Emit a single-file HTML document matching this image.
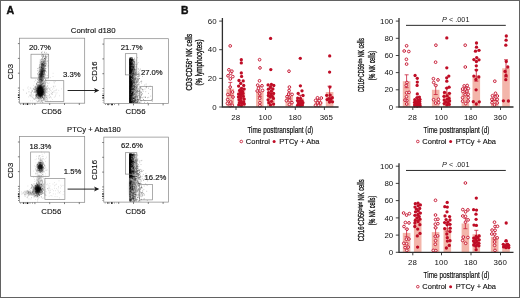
<!DOCTYPE html>
<html><head><meta charset="utf-8"><title>Figure</title>
<style>html,body{margin:0;padding:0;background:#fff;}body{width:520px;height:298px;overflow:hidden;font-family:"Liberation Sans",sans-serif;}svg{display:block;opacity:0.999;will-change:opacity}</style>
</head><body>
<svg width="520" height="298" viewBox="0 0 520 298" font-family="'Liberation Sans', sans-serif">
<defs><filter id="bl" x="-50%" y="-50%" width="200%" height="200%"><feGaussianBlur stdDeviation="1.1"/></filter><filter id="gz" x="0" y="0" width="100%" height="100%" filterUnits="userSpaceOnUse" color-interpolation-filters="sRGB"><feGaussianBlur stdDeviation="0.32"/></filter>
<linearGradient id="cg" x1="0" y1="0" x2="1" y2="0"><stop offset="0" stop-color="#000" stop-opacity="1"/><stop offset="0.3" stop-color="#000" stop-opacity="0.85"/><stop offset="0.6" stop-color="#000" stop-opacity="0.4"/><stop offset="1" stop-color="#000" stop-opacity="0"/></linearGradient>
<filter id="bs" x="-20%" y="-20%" width="140%" height="140%"><feGaussianBlur stdDeviation="0.45"/></filter>
</defs>
<g filter="url(#gz)">
<rect x="0" y="0" width="520" height="298" fill="#fff"/>
<text x="6.6" y="14.1" font-size="11.5" text-anchor="start" font-weight="bold" fill="#111" stroke="#111" stroke-width="0.4" textLength="7.7" lengthAdjust="spacingAndGlyphs">A</text>
<text x="180.9" y="14.1" font-size="11.5" text-anchor="start" font-weight="bold" fill="#111" stroke="#111" stroke-width="0.4" textLength="7.5" lengthAdjust="spacingAndGlyphs">B</text>
<text x="93.2" y="33.2" font-size="7.8" text-anchor="middle" font-weight="normal" fill="#111" stroke="#111" stroke-width="0.12">Control d180</text>
<text x="93.9" y="132.2" font-size="7.65" text-anchor="middle" font-weight="normal" fill="#111" stroke="#111" stroke-width="0.12">PTCy + Aba180</text>
<rect x="19.5" y="38.2" width="65.2" height="65.0" fill="#fff" stroke="#858585" stroke-width="0.7"/>
<clipPath id="c1"><rect x="20.0" y="38.7" width="64.2" height="64.0"/></clipPath>
<g clip-path="url(#c1)">
<ellipse cx="40.2" cy="91" rx="2.9" ry="6.0" fill="#000" opacity="1" filter="url(#bl)" transform="rotate(0 40.2 91)"/>
<ellipse cx="40.2" cy="91.3" rx="2.5" ry="5.0" fill="#000" opacity="1" filter="url(#bl)" transform="rotate(0 40.2 91.3)"/>
<ellipse cx="40" cy="92" rx="1.8" ry="3.6" fill="#000" opacity="1" filter="url(#bl)" transform="rotate(0 40 92)"/>
<ellipse cx="42.2" cy="70" rx="2.0" ry="8.5" fill="#000" opacity="0.5" filter="url(#bl)" transform="rotate(7 42.2 70)"/>
<ellipse cx="41.4" cy="75" rx="1.6" ry="5.5" fill="#000" opacity="0.7" filter="url(#bl)" transform="rotate(7 41.4 75)"/>
<ellipse cx="41" cy="79" rx="1.3" ry="3.5" fill="#000" opacity="0.6" filter="url(#bl)" transform="rotate(5 41 79)"/>
<ellipse cx="41" cy="90" rx="5.5" ry="7" fill="#000" opacity="0.12" filter="url(#bl)" transform="rotate(0 41 90)"/>
<path d="M39.6 93.2h.6M39.6 89.6h.6M37.9 90.1h.6M43.0 92.8h.6M42.8 92.1h.6M41.2 91.8h.6M36.0 94.7h.6M41.5 93.1h.6M36.0 83.5h.6M38.0 89.0h.6M41.0 90.8h.6M41.5 88.2h.6M41.0 92.7h.6M38.5 98.4h.6M41.6 96.1h.6M38.6 87.8h.6M39.3 90.5h.6M41.8 92.1h.6M39.1 86.9h.6M38.9 96.2h.6M38.2 92.1h.6M41.3 84.6h.6M40.3 96.6h.6M35.2 89.6h.6M39.9 87.5h.6M41.4 90.7h.6M36.5 94.6h.6M41.9 95.1h.6M43.8 92.6h.6M40.5 85.4h.6M41.7 88.4h.6M39.1 85.6h.6M37.8 88.7h.6M43.4 82.3h.6M36.6 92.0h.6M43.8 93.5h.6M35.5 80.2h.6M41.1 87.8h.6M37.4 95.2h.6M43.0 91.7h.6M40.8 92.9h.6M44.2 93.7h.6M41.5 93.4h.6M36.3 96.5h.6M42.6 93.3h.6M35.3 88.3h.6M42.3 83.2h.6M39.7 95.4h.6M36.9 97.9h.6M41.6 90.4h.6M41.0 93.8h.6M40.5 95.9h.6M38.5 89.2h.6M42.8 91.1h.6M38.0 95.1h.6M43.9 89.1h.6M36.8 90.4h.6M39.8 89.7h.6M43.7 86.6h.6M43.4 85.5h.6M38.2 93.7h.6M43.0 94.7h.6M41.1 91.6h.6M40.6 93.5h.6M39.8 92.2h.6M41.6 91.0h.6M42.1 93.4h.6M45.2 92.4h.6M39.1 89.4h.6M40.2 95.0h.6M39.4 92.7h.6M44.8 80.0h.6M37.4 92.0h.6M41.2 92.0h.6M39.1 93.8h.6M40.9 88.8h.6M46.3 92.5h.6M38.8 90.6h.6M39.6 90.7h.6M33.4 88.9h.6M42.7 86.0h.6M40.0 95.1h.6M42.3 97.4h.6M35.9 89.5h.6M39.3 93.7h.6M42.9 79.5h.6M42.9 84.8h.6M41.9 84.6h.6M40.6 96.1h.6M39.8 91.8h.6M42.2 91.6h.6M40.0 97.6h.6M42.8 89.7h.6M47.1 86.1h.6M42.5 89.9h.6M40.5 94.0h.6M40.8 93.7h.6M36.4 84.5h.6M41.7 86.9h.6M37.6 84.7h.6M43.4 94.2h.6M43.9 87.0h.6M40.2 86.1h.6M42.1 97.8h.6M38.0 97.7h.6M42.7 90.2h.6M35.3 97.0h.6M40.0 88.4h.6M41.2 92.8h.6M43.9 86.6h.6M43.0 97.4h.6M43.8 90.2h.6M38.3 95.4h.6M40.5 91.5h.6M43.8 89.9h.6M34.5 89.3h.6M35.6 94.5h.6M41.0 88.4h.6M40.2 94.6h.6M40.4 96.7h.6M40.0 95.5h.6M43.9 97.9h.6M38.5 94.8h.6M35.5 86.3h.6M35.3 95.6h.6M37.1 90.9h.6M39.7 90.9h.6M38.7 92.0h.6M44.7 91.2h.6M41.5 95.3h.6M39.7 85.6h.6M38.8 95.6h.6M36.1 88.4h.6M42.7 94.4h.6M40.2 94.5h.6M40.6 85.9h.6M36.3 88.3h.6M42.5 88.6h.6M37.9 87.7h.6M36.4 90.5h.6M37.3 92.6h.6M34.3 92.4h.6M38.6 82.6h.6M42.0 89.8h.6M34.6 87.2h.6M40.9 89.0h.6M42.1 94.2h.6M41.9 92.4h.6M43.5 93.8h.6M41.3 82.0h.6M42.4 96.6h.6M39.5 89.0h.6M45.1 83.4h.6M41.4 101.4h.6M37.9 94.0h.6M44.9 90.5h.6M41.6 94.9h.6M37.9 90.6h.6M40.9 94.5h.6M40.1 90.2h.6M37.7 89.5h.6M42.4 91.4h.6M38.1 87.4h.6M46.9 95.9h.6M41.8 79.9h.6M41.8 93.1h.6M44.4 92.8h.6M40.0 93.2h.6M35.3 95.4h.6M41.0 88.0h.6M43.5 98.8h.6M36.7 88.1h.6M40.9 91.8h.6M39.2 86.8h.6M45.5 95.5h.6M37.2 85.2h.6M44.5 95.3h.6M44.8 94.5h.6M38.0 92.1h.6M34.8 87.8h.6M40.1 93.2h.6M38.4 90.5h.6M41.3 92.6h.6M41.8 91.9h.6M39.4 94.4h.6M40.3 87.4h.6M38.6 91.0h.6M39.9 91.7h.6M40.2 91.8h.6M39.9 85.6h.6M41.3 95.5h.6M41.3 90.2h.6M41.3 86.8h.6M35.5 91.3h.6M37.9 94.2h.6M37.5 79.7h.6M37.6 97.8h.6M39.2 85.1h.6M38.3 93.2h.6M41.4 91.8h.6M43.9 94.0h.6M40.1 93.6h.6M44.3 95.2h.6M42.8 86.3h.6M39.8 94.1h.6M39.5 95.6h.6M41.7 94.9h.6M39.7 101.9h.6M43.3 90.1h.6M40.4 102.2h.6M39.3 94.8h.6M42.7 91.0h.6M37.3 91.8h.6M41.1 95.9h.6M42.2 91.1h.6M42.3 93.3h.6M40.7 91.2h.6M39.6 94.0h.6M37.6 88.3h.6M40.2 84.7h.6M39.1 82.4h.6M38.5 93.4h.6M41.6 90.8h.6M39.6 84.9h.6M44.8 93.2h.6M42.9 87.2h.6M39.7 83.2h.6M42.2 95.0h.6M35.5 90.8h.6M41.8 83.4h.6M35.6 86.4h.6M38.6 85.0h.6M40.3 92.1h.6M41.8 94.0h.6M44.0 96.0h.6M36.9 88.8h.6M37.5 86.4h.6M40.0 91.0h.6M41.4 84.2h.6M37.1 90.9h.6M39.7 89.7h.6M40.0 87.7h.6M42.0 92.5h.6M40.0 88.1h.6M39.8 79.3h.6M37.7 91.2h.6M36.4 91.9h.6M40.6 85.1h.6M39.6 89.7h.6M41.3 93.6h.6M40.1 87.3h.6M39.8 90.7h.6M42.0 92.3h.6M38.4 85.2h.6M39.3 87.8h.6M37.4 90.5h.6M39.0 91.5h.6M41.5 89.2h.6M46.0 89.6h.6M43.0 91.5h.6M43.0 80.8h.6M38.3 92.1h.6M41.7 101.0h.6M41.0 96.5h.6M42.1 95.1h.6M41.5 90.3h.6M41.5 86.4h.6M43.2 86.6h.6M40.8 100.1h.6M39.6 91.1h.6M43.1 91.1h.6M38.2 92.1h.6M41.7 94.1h.6M38.3 98.5h.6M44.4 91.1h.6M40.9 89.2h.6M43.7 88.0h.6M41.9 88.9h.6M38.5 94.1h.6M43.5 91.0h.6M38.5 94.5h.6M40.1 92.3h.6M44.0 95.9h.6M38.9 100.8h.6M40.2 94.4h.6M38.6 90.8h.6M35.8 98.7h.6M43.6 85.8h.6M36.4 84.0h.6M43.1 89.0h.6M40.0 89.7h.6M39.9 86.3h.6M40.3 84.8h.6M40.0 92.3h.6M41.4 90.0h.6M37.9 91.7h.6M39.0 97.7h.6M42.1 90.5h.6M39.0 88.0h.6M37.9 89.5h.6M40.9 93.2h.6M41.6 100.0h.6M38.4 91.1h.6M47.2 83.0h.6M38.9 91.7h.6M40.6 92.8h.6M39.6 92.6h.6M40.3 94.3h.6M35.5 87.2h.6M40.2 86.6h.6M37.6 93.7h.6M38.6 93.7h.6M42.1 92.3h.6M41.5 90.6h.6M36.7 90.9h.6M41.3 88.7h.6M40.0 94.2h.6M38.0 93.8h.6M44.9 88.6h.6M40.6 90.4h.6M44.1 92.4h.6M42.4 88.0h.6M40.2 91.0h.6M35.8 97.2h.6M42.4 83.5h.6M42.1 90.4h.6M41.3 92.6h.6M36.5 90.1h.6M43.9 88.5h.6M37.6 85.2h.6M37.1 92.4h.6M44.4 92.8h.6M40.8 100.6h.6M38.9 88.1h.6M41.5 93.4h.6M37.7 86.0h.6M40.9 92.1h.6M36.9 90.1h.6M38.8 93.0h.6M39.9 90.6h.6M39.3 95.5h.6M43.7 89.4h.6M42.3 87.7h.6M40.4 94.2h.6M44.0 89.4h.6M40.0 91.8h.6M36.5 91.1h.6M38.5 92.6h.6M37.4 82.5h.6M40.3 92.1h.6M38.8 94.8h.6M39.5 88.4h.6M41.4 84.3h.6M38.5 90.9h.6M42.3 90.3h.6M41.0 88.2h.6M41.0 98.2h.6M38.5 101.2h.6M38.6 91.1h.6M40.6 95.4h.6M37.1 82.0h.6M41.7 94.4h.6M41.8 102.3h.6M40.7 92.1h.6M42.5 92.6h.6M44.4 85.7h.6M39.3 76.2h.6M42.2 89.4h.6M42.5 100.3h.6M40.2 89.9h.6M39.0 87.4h.6M38.6 93.7h.6M40.3 91.3h.6M39.8 94.9h.6M41.4 90.4h.6M41.9 90.3h.6M37.3 97.3h.6M41.4 86.9h.6M42.9 92.5h.6M36.3 97.9h.6M41.0 94.8h.6M40.7 90.4h.6M36.3 95.2h.6M40.3 89.8h.6M41.1 91.3h.6M41.9 89.4h.6M40.1 81.8h.6M39.1 93.9h.6M43.5 89.4h.6M39.9 97.8h.6M39.4 94.2h.6M44.4 91.2h.6M43.3 87.9h.6M40.7 90.7h.6M40.5 95.9h.6M46.2 88.1h.6M38.8 93.1h.6M37.6 93.1h.6M41.6 89.8h.6M41.5 84.3h.6M42.1 84.4h.6M38.5 88.6h.6M39.2 94.7h.6M40.4 89.3h.6M41.6 97.8h.6M40.2 92.6h.6M43.3 92.2h.6M37.0 101.7h.6M45.7 82.5h.6M40.1 92.8h.6M42.6 93.9h.6M39.5 86.5h.6M40.5 95.4h.6M37.5 86.6h.6M40.1 82.7h.6M39.5 89.1h.6M41.3 88.0h.6M38.0 89.3h.6M40.1 88.1h.6M40.2 94.2h.6M43.2 98.3h.6M38.2 89.2h.6M34.0 99.2h.6M38.4 90.9h.6M41.5 85.2h.6M41.4 90.9h.6M35.6 92.3h.6M43.2 83.0h.6M42.2 91.9h.6M41.4 92.9h.6M43.5 90.0h.6M42.4 89.2h.6M42.0 87.5h.6M39.9 98.4h.6M41.3 90.3h.6M37.3 87.6h.6M40.7 95.0h.6M41.3 93.3h.6M40.1 96.8h.6M39.2 88.6h.6M42.4 91.3h.6M39.5 88.5h.6M39.6 93.7h.6M41.1 85.8h.6M41.3 91.8h.6M37.7 94.3h.6M39.5 89.6h.6M42.2 96.7h.6M38.5 92.9h.6M38.0 101.0h.6M39.0 96.1h.6M38.6 94.5h.6M45.7 80.1h.6M39.1 93.2h.6M40.0 88.1h.6M45.6 91.3h.6M36.1 94.7h.6M35.9 95.9h.6M38.8 91.6h.6M43.4 91.5h.6M36.7 83.7h.6M43.2 94.2h.6M38.2 94.7h.6M41.4 93.8h.6M34.6 89.7h.6M42.5 94.2h.6M42.4 80.4h.6M40.6 93.1h.6M46.6 86.9h.6M39.4 91.2h.6M42.4 89.1h.6M43.1 87.6h.6M40.9 88.7h.6M40.6 88.0h.6M36.2 95.7h.6M41.0 88.6h.6M40.7 95.3h.6M37.8 90.5h.6M41.5 93.3h.6M39.4 81.9h.6M43.3 92.4h.6M40.2 89.8h.6M40.9 89.2h.6M37.6 87.8h.6M38.7 88.4h.6M37.3 93.7h.6M36.9 93.8h.6M37.7 92.5h.6M43.6 91.9h.6M38.4 91.2h.6M40.6 83.5h.6M38.7 91.7h.6M39.0 91.3h.6M42.0 94.3h.6M42.5 93.5h.6M39.5 90.9h.6M39.5 89.7h.6M39.8 83.6h.6M39.4 90.9h.6M37.8 90.9h.6M41.5 90.3h.6M45.4 79.8h.6M39.7 83.2h.6M42.6 102.4h.6M33.9 91.6h.6M41.5 89.7h.6M41.6 81.4h.6M42.3 92.6h.6M40.3 88.5h.6M41.8 88.9h.6M40.8 88.8h.6M34.6 90.9h.6M40.7 94.2h.6M38.0 90.9h.6M41.7 91.6h.6M43.3 99.6h.6M37.9 82.7h.6M42.3 97.6h.6M42.5 94.5h.6M38.7 87.9h.6M44.6 63.4h.6M39.8 62.2h.6M44.7 84.9h.6M41.6 64.4h.6M43.2 64.5h.6M44.5 69.7h.6M38.9 79.5h.6M40.8 71.5h.6M42.4 67.7h.6M43.4 64.9h.6M41.0 53.1h.6M40.6 64.1h.6M42.0 70.4h.6M43.0 71.0h.6M41.4 64.5h.6M38.5 68.2h.6M42.5 74.1h.6M42.1 68.7h.6M43.8 70.3h.6M42.9 74.5h.6M41.2 79.8h.6M41.4 67.2h.6M41.4 63.9h.6M43.2 83.4h.6M41.6 74.2h.6M43.4 76.3h.6M45.5 60.9h.6M40.5 73.2h.6M44.6 71.1h.6M40.9 67.2h.6M41.8 63.5h.6M45.4 65.7h.6M40.0 86.1h.6M43.9 72.8h.6M40.6 72.9h.6M44.4 75.0h.6M44.3 71.0h.6M43.2 68.6h.6M41.6 79.8h.6M39.6 69.2h.6M43.1 65.8h.6M40.8 75.8h.6M45.1 75.1h.6M44.2 58.5h.6M45.5 71.0h.6M43.1 61.7h.6M43.1 61.8h.6M41.8 73.5h.6M41.9 72.1h.6M39.2 80.4h.6M42.7 56.3h.6M42.5 64.3h.6M40.6 67.1h.6M43.8 61.3h.6M40.5 80.6h.6M43.5 69.0h.6M42.4 69.1h.6M41.3 75.4h.6M44.3 52.1h.6M42.9 63.4h.6M43.9 65.6h.6M40.2 86.2h.6M41.3 61.4h.6M41.9 51.9h.6M38.4 72.3h.6M42.8 56.0h.6M38.9 74.2h.6M41.1 67.1h.6M41.4 80.2h.6M44.6 78.1h.6M42.2 71.4h.6M43.9 81.0h.6M41.1 73.3h.6M42.6 70.5h.6M42.5 60.0h.6M42.6 58.4h.6M43.8 74.3h.6M38.6 80.1h.6M45.5 56.0h.6M44.6 76.5h.6M47.0 61.3h.6M42.6 73.3h.6M42.3 71.3h.6M45.4 59.1h.6M41.2 59.3h.6M41.7 65.4h.6M42.5 72.1h.6M42.8 65.0h.6M40.4 77.0h.6M43.4 70.9h.6M40.0 81.5h.6M40.4 74.7h.6M44.4 68.3h.6M44.7 61.9h.6M43.7 71.7h.6M38.6 74.6h.6M39.3 79.3h.6M41.0 68.6h.6M42.9 67.6h.6M43.1 65.9h.6M43.3 70.2h.6M45.2 49.6h.6M44.1 70.5h.6M38.8 70.3h.6M41.9 78.1h.6M38.7 81.3h.6M39.5 87.8h.6M41.2 75.0h.6M42.5 61.6h.6M43.2 77.0h.6M44.0 76.7h.6M42.7 57.5h.6M41.6 64.8h.6M40.1 74.1h.6M42.9 68.1h.6M42.5 69.0h.6M41.7 75.6h.6M44.5 65.1h.6M38.0 80.3h.6M41.2 78.2h.6M39.5 67.2h.6M43.5 59.3h.6M40.5 75.3h.6M42.5 82.1h.6M41.9 59.4h.6M42.1 77.1h.6M43.7 60.4h.6M42.7 76.1h.6M43.6 66.5h.6M41.9 76.0h.6M42.9 56.2h.6M42.2 73.7h.6M41.3 76.6h.6M41.1 69.3h.6M41.0 74.2h.6M45.2 68.5h.6M44.3 81.9h.6M42.9 74.5h.6M45.4 69.1h.6M42.9 62.1h.6M41.6 80.1h.6M42.6 73.3h.6M41.6 71.2h.6M38.5 77.5h.6M42.4 61.7h.6M41.6 63.7h.6M42.6 78.1h.6M38.8 76.6h.6M44.2 65.9h.6M40.2 64.1h.6M40.6 72.4h.6M43.4 54.8h.6M44.0 58.6h.6M44.9 61.2h.6M41.7 63.5h.6M39.9 79.5h.6M43.0 74.7h.6M44.2 58.6h.6M41.7 65.8h.6M39.9 73.6h.6M41.5 64.5h.6M42.2 54.5h.6M41.9 80.0h.6M43.4 62.8h.6M37.1 70.7h.6M44.0 72.5h.6M42.3 81.2h.6M44.5 67.0h.6M43.2 76.0h.6M39.8 66.6h.6M39.7 68.9h.6M44.2 62.2h.6M37.2 79.2h.6M41.3 81.0h.6M38.7 77.6h.6M43.9 85.4h.6M41.5 72.0h.6M40.9 77.4h.6M43.9 70.9h.6M39.0 75.2h.6M40.7 74.6h.6M41.0 82.1h.6M44.6 66.9h.6M41.0 83.2h.6M40.7 73.1h.6M43.0 79.6h.6M44.3 60.3h.6M39.6 71.5h.6M40.3 89.0h.6M39.5 78.3h.6M45.1 57.7h.6M40.5 71.0h.6M41.4 68.7h.6M43.7 64.1h.6M43.6 65.4h.6M40.6 73.9h.6M40.8 72.0h.6M44.9 70.6h.6M41.1 75.4h.6M40.4 78.0h.6M39.2 74.3h.6M42.0 63.9h.6M46.1 64.1h.6M44.6 75.3h.6M45.6 63.1h.6M42.8 81.1h.6M42.0 69.0h.6M46.3 71.9h.6M42.0 65.2h.6M42.6 72.6h.6M40.7 82.8h.6M41.1 73.4h.6M45.7 62.9h.6M42.2 83.9h.6M40.7 61.5h.6M42.0 56.0h.6M44.7 56.3h.6M41.6 80.9h.6M39.5 67.3h.6M37.9 75.3h.6M41.0 67.9h.6M41.7 74.1h.6M41.5 70.0h.6M41.0 70.7h.6M39.9 70.2h.6M39.1 65.9h.6M45.4 71.0h.6M39.6 71.6h.6M42.0 57.5h.6M40.1 75.3h.6M42.9 69.4h.6M41.5 61.8h.6M44.3 72.1h.6M42.5 54.1h.6M37.2 88.1h.6M40.1 69.2h.6M42.6 68.9h.6M42.9 59.7h.6M38.6 82.3h.6M39.9 76.1h.6M39.3 67.6h.6M41.6 77.8h.6M39.5 74.2h.6M43.5 64.6h.6M43.8 63.4h.6M40.7 69.7h.6M37.4 68.6h.6M41.7 58.9h.6M40.6 75.6h.6M40.1 79.3h.6M41.3 60.0h.6M44.5 73.3h.6M44.6 64.1h.6M43.3 72.1h.6M43.2 70.3h.6M44.9 65.5h.6M41.8 58.8h.6M44.9 64.8h.6M41.2 62.8h.6M42.5 60.4h.6M42.2 65.3h.6M42.0 62.7h.6M42.6 66.6h.6M42.1 71.9h.6M44.8 53.8h.6M41.9 64.0h.6M45.0 58.4h.6M41.1 67.6h.6M40.5 77.3h.6M40.4 77.1h.6M41.2 56.2h.6M43.9 73.5h.6M42.9 71.0h.6M44.1 61.1h.6M44.3 66.3h.6M43.8 70.9h.6M39.8 60.0h.6M44.2 69.2h.6M41.2 71.7h.6M41.9 65.9h.6M42.1 71.1h.6M44.8 70.7h.6M43.7 83.8h.6M44.1 78.3h.6M42.2 71.1h.6M42.6 64.5h.6M42.6 65.2h.6M44.5 74.4h.6M43.2 55.7h.6M42.4 66.9h.6M41.3 61.3h.6M37.5 73.7h.6M39.5 89.2h.6M42.2 68.9h.6M44.5 71.3h.6M42.8 67.3h.6M39.6 81.0h.6M42.2 83.0h.6M41.4 70.1h.6M39.6 77.0h.6M39.1 73.9h.6M42.7 80.8h.6M39.4 77.9h.6M41.6 64.2h.6M38.6 78.3h.6M45.6 66.0h.6M41.1 67.3h.6M45.6 78.1h.6M42.9 56.5h.6M39.7 78.7h.6M45.7 68.5h.6M41.4 66.0h.6M37.9 76.3h.6M39.1 77.7h.6M40.3 60.2h.6M43.4 64.4h.6M43.5 70.2h.6M39.4 74.4h.6M45.5 56.0h.6M44.9 74.1h.6M45.3 56.3h.6M41.2 67.2h.6M45.4 59.4h.6M42.5 54.7h.6M41.3 72.5h.6M39.7 65.2h.6M41.5 81.9h.6M43.6 67.9h.6M40.9 62.8h.6M40.8 70.9h.6M40.4 82.4h.6M43.7 62.1h.6M43.9 77.4h.6M43.0 64.7h.6M39.8 62.0h.6M44.5 64.2h.6M39.6 71.1h.6M41.9 74.6h.6M41.9 80.6h.6M39.7 77.1h.6M39.7 74.9h.6M42.2 71.9h.6M43.8 70.1h.6M43.2 76.8h.6M42.9 65.8h.6M41.3 65.9h.6M41.8 69.8h.6M46.8 75.4h.6M44.3 63.8h.6M41.1 67.5h.6M43.5 62.3h.6M45.5 66.2h.6M46.3 52.9h.6M41.8 72.1h.6M41.9 74.5h.6M42.4 71.3h.6M39.4 64.3h.6M37.3 74.1h.6M42.8 68.6h.6M41.2 65.5h.6M43.7 83.3h.6M40.7 79.6h.6M41.1 55.2h.6M42.1 63.4h.6M40.9 71.3h.6M48.1 65.8h.6M41.9 72.1h.6M41.1 76.9h.6M46.5 61.2h.6M42.6 68.1h.6M44.2 58.7h.6M41.2 52.4h.6M42.9 71.6h.6M44.5 52.4h.6M42.2 64.3h.6M40.5 62.9h.6M42.8 74.2h.6M41.6 73.8h.6M41.0 70.4h.6M41.6 74.1h.6" stroke="#111" stroke-width="0.6" opacity="0.6" fill="none"/>
<path d="M45.0 59.5h.6M45.2 57.7h.6M48.1 62.5h.6M44.1 68.0h.6M48.3 55.1h.6M45.5 63.1h.6M47.0 65.1h.6M47.0 56.2h.6M43.4 60.6h.6M46.5 56.7h.6M44.7 58.5h.6M44.9 61.2h.6M45.4 55.7h.6M45.8 65.9h.6M44.1 63.5h.6M45.2 62.4h.6M46.3 57.5h.6M45.2 63.6h.6M42.2 66.5h.6M47.0 66.9h.6M47.6 63.2h.6M44.9 57.8h.6M43.6 60.1h.6M44.5 62.3h.6M40.2 67.3h.6M48.6 60.6h.6M45.7 61.8h.6M45.6 59.4h.6M45.4 57.1h.6M45.3 60.0h.6M46.1 57.2h.6M45.0 60.2h.6M46.7 56.5h.6M45.0 63.5h.6M46.2 58.9h.6M44.4 59.0h.6M45.1 65.6h.6M45.2 57.7h.6M45.4 60.8h.6M44.1 57.2h.6M44.4 62.3h.6M43.8 56.1h.6M46.6 56.0h.6M44.9 61.2h.6M45.5 56.5h.6M45.1 58.8h.6M46.1 57.2h.6M47.9 54.6h.6M44.7 60.0h.6M46.9 58.2h.6M46.3 58.2h.6M44.9 66.2h.6M44.1 61.4h.6M42.9 63.0h.6M46.9 60.5h.6M42.9 61.0h.6M46.0 64.1h.6M47.5 54.0h.6M42.9 64.7h.6M42.3 63.5h.6M59.4 95.8h.6M55.6 90.3h.6M43.9 91.5h.6M49.0 91.8h.6M53.5 91.3h.6M51.0 94.1h.6M50.0 101.2h.6M52.2 92.4h.6M49.0 88.9h.6M56.7 92.8h.6M44.6 89.2h.6M49.3 89.8h.6M55.4 86.2h.6M52.5 92.7h.6M44.1 92.2h.6M49.5 94.5h.6M47.7 93.5h.6M41.7 86.6h.6M53.9 97.2h.6M49.9 89.0h.6M55.4 81.5h.6M46.0 95.4h.6M53.3 86.8h.6M40.6 99.3h.6M50.8 87.5h.6M50.3 96.5h.6M37.0 97.6h.6M53.7 81.6h.6M53.9 83.1h.6M55.7 94.0h.6M61.3 88.9h.6M50.0 97.2h.6M46.8 88.5h.6M48.1 91.6h.6M44.6 94.4h.6M52.7 92.4h.6M58.5 90.4h.6M56.5 89.3h.6M53.8 82.3h.6M51.0 91.1h.6M47.5 88.9h.6M48.3 88.4h.6M39.0 89.0h.6M47.3 89.4h.6M44.7 91.3h.6M53.9 90.7h.6M47.5 98.8h.6M54.9 96.6h.6M55.8 90.4h.6M49.4 97.6h.6M47.2 91.4h.6M51.9 93.9h.6M48.6 96.9h.6M49.1 95.6h.6M55.4 95.3h.6M53.7 86.2h.6M43.4 88.9h.6M52.4 99.5h.6M43.9 93.5h.6M45.7 88.3h.6M48.6 95.5h.6M51.1 97.9h.6M45.1 96.4h.6M54.7 92.3h.6M52.4 89.2h.6M44.6 90.0h.6M46.8 106.5h.6M47.6 100.3h.6M51.0 93.6h.6M53.7 88.1h.6M38.2 94.5h.6M29.7 95.4h.6M36.9 94.8h.6M40.5 91.3h.6M36.8 96.0h.6M31.8 97.8h.6M29.9 87.8h.6M36.8 88.6h.6M34.6 86.4h.6M35.2 88.5h.6M36.2 86.9h.6M36.6 91.9h.6M35.2 92.7h.6M35.5 87.7h.6M26.0 93.1h.6M31.7 91.2h.6M36.5 85.1h.6M32.3 90.6h.6M31.3 94.3h.6M34.5 89.7h.6M31.6 96.2h.6M32.7 95.3h.6M36.6 85.4h.6M31.2 93.0h.6M36.2 96.1h.6M37.8 97.1h.6M33.7 92.2h.6M37.7 91.3h.6M38.7 86.6h.6M37.3 92.3h.6M28.1 96.9h.6M36.1 93.1h.6M31.2 91.1h.6M40.3 89.7h.6M22.8 89.6h.6M30.8 92.5h.6M33.6 89.4h.6M32.1 97.2h.6M30.0 100.8h.6M33.1 88.6h.6M37.8 95.3h.6M31.4 96.0h.6M28.6 89.3h.6M38.9 92.0h.6M30.4 95.1h.6M38.2 92.9h.6M28.7 91.6h.6M36.5 96.1h.6M41.5 92.0h.6M33.3 92.8h.6M39.2 89.2h.6M39.6 82.0h.6M37.8 90.3h.6M36.6 95.8h.6M30.9 92.7h.6M35.8 95.3h.6M31.7 89.0h.6M28.3 103.2h.6M34.3 92.1h.6M29.8 96.7h.6M33.1 98.7h.6M38.0 93.1h.6M37.5 88.6h.6M33.9 90.7h.6M30.6 93.1h.6M34.5 98.7h.6M23.3 90.3h.6M31.8 91.1h.6M36.5 94.6h.6M35.1 91.1h.6M36.7 94.4h.6M28.6 92.0h.6M30.2 88.3h.6M35.5 93.2h.6M35.4 89.5h.6M34.3 89.3h.6M36.3 95.8h.6M41.1 98.1h.6M32.2 91.2h.6M31.7 94.2h.6M41.9 95.8h.6M27.3 88.0h.6M30.5 95.1h.6M35.0 94.2h.6M41.2 89.7h.6M32.0 100.9h.6M36.2 89.9h.6M27.9 86.9h.6M26.4 93.3h.6M35.2 97.0h.6M43.2 78.5h.6M39.6 99.2h.6M33.4 85.4h.6M44.2 88.9h.6M41.6 88.0h.6M48.9 82.8h.6M41.3 82.5h.6M38.2 82.3h.6M42.2 85.7h.6M52.0 94.5h.6M41.3 88.8h.6M45.8 90.1h.6M44.1 86.1h.6M41.2 77.7h.6M49.2 94.4h.6M48.0 87.5h.6M45.6 80.4h.6M33.3 89.3h.6M45.2 79.6h.6M38.2 94.2h.6M33.2 98.1h.6M47.8 103.0h.6M39.7 83.8h.6M41.0 85.2h.6M42.7 78.0h.6M50.4 77.7h.6M41.0 88.4h.6M40.8 80.5h.6M46.1 81.1h.6M36.5 83.2h.6M42.7 97.6h.6M37.4 91.8h.6M39.3 81.2h.6M42.0 86.2h.6M49.2 98.0h.6M40.2 94.6h.6M50.0 90.5h.6M39.4 91.2h.6M43.4 86.8h.6M42.4 89.3h.6M50.7 93.0h.6M42.8 92.0h.6M52.7 76.5h.6M52.8 73.3h.6M47.3 88.8h.6M52.9 86.2h.6M41.1 77.6h.6M36.5 90.1h.6M42.6 78.3h.6M47.2 77.9h.6M38.0 97.1h.6M47.4 100.9h.6M39.3 94.9h.6M41.2 98.1h.6M41.6 99.1h.6M38.6 99.9h.6M43.8 98.4h.6M38.2 97.0h.6M43.1 95.8h.6M39.3 96.5h.6M33.7 99.2h.6M39.9 98.1h.6M43.9 95.0h.6M39.7 98.6h.6M43.7 95.8h.6M43.2 98.4h.6M46.1 100.3h.6M42.5 102.3h.6M40.0 97.2h.6M38.5 96.1h.6M39.9 94.2h.6M39.6 98.9h.6M44.5 97.3h.6M46.2 96.7h.6M39.4 94.2h.6M36.6 96.4h.6M46.6 99.0h.6M35.1 99.0h.6M42.1 97.5h.6M40.1 97.4h.6M37.6 94.5h.6M39.6 100.5h.6M46.3 97.5h.6M36.7 97.6h.6M43.9 98.7h.6M37.4 98.7h.6M39.1 99.0h.6M38.2 95.1h.6M40.3 99.5h.6M35.1 97.8h.6M43.9 97.3h.6M37.1 102.0h.6M43.6 100.0h.6M35.9 101.2h.6M32.7 97.0h.6M43.2 100.6h.6M35.9 96.7h.6M40.9 94.2h.6M42.8 99.1h.6M38.0 99.0h.6M43.4 98.6h.6M42.3 100.9h.6M37.9 98.3h.6M37.7 100.0h.6M38.2 98.9h.6M40.6 98.1h.6M47.5 97.8h.6M46.2 99.6h.6M45.8 97.7h.6M44.0 99.5h.6M38.1 92.4h.6M40.0 90.8h.6M45.5 87.2h.6M34.0 81.7h.6M38.8 87.6h.6M40.6 94.0h.6M47.3 92.6h.6M42.3 87.1h.6M42.7 98.2h.6M45.7 80.6h.6M43.9 99.4h.6M43.7 83.1h.6M39.3 94.1h.6M42.1 86.7h.6M37.1 96.1h.6M35.4 98.6h.6M40.6 92.6h.6M35.4 87.8h.6M43.2 83.2h.6M48.5 83.6h.6M35.8 91.2h.6M42.4 94.9h.6M39.1 89.9h.6M39.6 88.0h.6M30.6 96.1h.6M41.5 91.8h.6M38.1 92.3h.6M40.4 90.6h.6M44.7 81.9h.6M41.5 85.4h.6M39.3 98.9h.6M36.3 90.5h.6M38.2 96.0h.6M36.7 82.1h.6M42.5 89.1h.6M39.3 96.7h.6M37.1 89.0h.6M41.1 93.2h.6M38.5 96.5h.6M49.1 88.8h.6M47.7 79.9h.6M45.9 89.2h.6M41.0 89.2h.6M38.1 84.3h.6M39.0 97.8h.6M44.9 89.2h.6M38.5 87.3h.6M35.9 100.5h.6M43.0 91.6h.6M38.6 85.6h.6M45.6 95.1h.6M36.8 96.2h.6M36.2 94.4h.6M36.8 88.8h.6M42.4 93.3h.6M44.4 86.6h.6M46.6 98.1h.6M40.5 93.5h.6M37.5 90.2h.6M35.4 91.5h.6M41.3 98.1h.6M44.1 95.3h.6M39.1 89.8h.6M39.2 92.2h.6M33.1 95.1h.6M34.5 88.3h.6M40.6 88.3h.6M46.9 90.5h.6M46.5 97.2h.6M38.6 93.1h.6M45.5 89.2h.6M40.8 88.1h.6M40.7 89.1h.6M40.8 96.3h.6M45.8 91.7h.6M41.3 95.5h.6M39.4 85.4h.6M44.8 86.1h.6M44.1 85.9h.6M47.5 85.5h.6M43.8 98.9h.6M36.8 98.8h.6M37.3 81.7h.6M43.3 94.7h.6M39.7 77.7h.6M40.3 89.4h.6M39.0 89.5h.6M33.6 88.0h.6M47.4 99.2h.6M39.1 87.2h.6M42.0 96.6h.6M43.3 84.8h.6M41.1 91.7h.6M46.0 97.3h.6M42.5 97.4h.6M39.0 99.1h.6M38.9 93.1h.6M44.0 86.2h.6M37.8 81.7h.6M41.1 90.7h.6M39.2 93.6h.6M32.4 90.9h.6M40.8 89.6h.6M43.5 100.3h.6M38.8 86.0h.6M38.2 91.5h.6M42.8 86.5h.6M44.3 85.6h.6M43.7 93.3h.6M42.3 102.4h.6M39.5 90.1h.6M42.3 95.6h.6M35.4 92.5h.6M37.7 94.3h.6M45.8 91.3h.6M40.1 92.0h.6M29.2 95.1h.6M42.7 91.9h.6M39.0 87.1h.6M39.8 97.4h.6" stroke="#222" stroke-width="0.6" opacity="0.32" fill="none"/>
</g>
<rect x="31" y="54.2" width="17.700000000000003" height="23.799999999999997" fill="none" stroke="#808080" stroke-width="0.65"/>
<rect x="45" y="80.7" width="18.799999999999997" height="20.700000000000003" fill="none" stroke="#808080" stroke-width="0.65"/>
<line x1="17.9" y1="43.6" x2="19.5" y2="43.6" stroke="#444" stroke-width="0.7"/>
<line x1="79.3" y1="103.2" x2="79.3" y2="105.0" stroke="#444" stroke-width="0.7"/>
<line x1="17.9" y1="58.4" x2="19.5" y2="58.4" stroke="#444" stroke-width="0.7"/>
<line x1="64.5" y1="103.2" x2="64.5" y2="105.0" stroke="#444" stroke-width="0.7"/>
<line x1="17.9" y1="73.2" x2="19.5" y2="73.2" stroke="#444" stroke-width="0.7"/>
<line x1="49.7" y1="103.2" x2="49.7" y2="105.0" stroke="#444" stroke-width="0.7"/>
<line x1="17.9" y1="88.0" x2="19.5" y2="88.0" stroke="#444" stroke-width="0.7"/>
<line x1="34.9" y1="103.2" x2="34.9" y2="105.0" stroke="#444" stroke-width="0.7"/>
<line x1="18.6" y1="90.2" x2="18.6" y2="102.2" stroke="#555" stroke-width="1.2" stroke-dasharray="0.6 1.7"/>
<line x1="20.5" y1="104.10000000000001" x2="32.7" y2="104.10000000000001" stroke="#555" stroke-width="1.2" stroke-dasharray="0.6 1.7"/>
<rect x="17.9" y="94.4" width="1.5" height="1.3" fill="#111"/>
<rect x="17.9" y="96.9" width="1.5" height="1.1" fill="#111"/>
<rect x="26.7" y="103.4" width="1.6" height="1.5" fill="#111"/>
<rect x="23.1" y="103.4" width="1.1" height="1.4" fill="#222"/>
<rect x="104" y="38.7" width="64.5" height="64.89999999999999" fill="#fff" stroke="#858585" stroke-width="0.7"/>
<clipPath id="c2"><rect x="104.5" y="39.2" width="63.5" height="63.89999999999999"/></clipPath>
<g clip-path="url(#c2)">
<polygon points="129.3,58.3 134.3,59.2 135.5,70 137.5,85 139.5,104 129.3,104" fill="url(#cg)" filter="url(#bs)"/>
<rect x="129.3" y="58.7" width="1.9" height="45.8" fill="#000" opacity="0.92" filter="url(#bs)"/>
<path d="M133.5 69.4h.6M132.4 101.0h.6M136.9 102.6h.6M130.8 92.6h.6M130.6 97.2h.6M136.2 86.4h.6M130.8 74.0h.6M139.2 97.2h.6M131.5 100.2h.6M133.5 92.2h.6M136.8 91.1h.6M129.7 73.4h.6M130.7 82.6h.6M130.2 72.8h.6M133.8 72.2h.6M129.7 74.2h.6M129.7 68.6h.6M132.4 63.7h.6M131.5 57.8h.6M132.8 77.8h.6M130.3 83.4h.6M131.1 60.5h.6M131.6 71.2h.6M136.3 82.6h.6M136.5 100.2h.6M138.3 84.0h.6M131.1 61.1h.6M136.5 102.4h.6M130.0 73.7h.6M135.3 97.0h.6M135.8 60.6h.6M130.2 70.1h.6M131.6 69.2h.6M129.7 69.7h.6M130.4 89.5h.6M132.8 66.6h.6M133.9 84.9h.6M133.1 66.5h.6M136.2 90.9h.6M130.4 61.1h.6M132.9 94.3h.6M131.5 63.7h.6M136.2 66.1h.6M131.7 86.6h.6M130.6 99.5h.6M133.9 91.6h.6M135.5 87.0h.6M132.7 72.9h.6M130.2 60.1h.6M130.2 86.0h.6M134.6 72.7h.6M129.6 69.2h.6M139.2 78.6h.6M130.3 83.2h.6M137.2 102.4h.6M131.8 90.4h.6M131.3 72.5h.6M130.5 64.0h.6M137.6 92.4h.6M133.5 76.8h.6M134.3 82.0h.6M132.7 87.4h.6M133.2 84.9h.6M134.6 69.2h.6M130.1 89.9h.6M136.0 71.6h.6M135.2 92.7h.6M130.0 70.2h.6M131.6 81.3h.6M129.9 57.9h.6M133.6 79.1h.6M135.1 74.0h.6M130.8 102.5h.6M134.5 61.6h.6M130.1 58.8h.6M130.6 80.3h.6M133.9 82.8h.6M138.0 74.1h.6M131.8 64.3h.6M137.9 99.4h.6M135.1 64.9h.6M130.5 68.5h.6M137.9 102.2h.6M129.4 73.2h.6M134.0 93.9h.6M130.7 98.6h.6M129.5 62.4h.6M131.2 86.9h.6M130.3 75.8h.6M130.6 83.2h.6M138.1 76.2h.6M135.1 86.0h.6M129.4 67.7h.6M132.7 77.2h.6M131.1 68.0h.6M137.3 86.7h.6M132.0 71.1h.6M129.5 83.4h.6M133.8 64.6h.6M135.0 69.7h.6M131.3 91.7h.6M132.2 72.6h.6M131.4 79.6h.6M131.3 88.6h.6M135.4 84.7h.6M131.6 97.7h.6M131.8 67.0h.6M132.8 93.0h.6M134.0 96.8h.6M140.4 102.8h.6M131.2 71.0h.6M129.8 101.8h.6M130.8 57.9h.6M131.0 91.0h.6M131.7 61.9h.6M133.5 61.6h.6M134.8 72.9h.6M133.8 97.6h.6M133.7 102.1h.6M130.2 93.5h.6M135.2 88.9h.6M130.4 68.0h.6M130.1 77.1h.6M130.1 102.6h.6M130.8 71.9h.6M130.9 79.7h.6M131.2 63.7h.6M130.8 88.7h.6M129.7 64.2h.6M133.1 62.6h.6M138.2 73.6h.6M129.6 73.4h.6M136.5 67.3h.6M131.6 90.8h.6M130.7 69.9h.6M131.5 60.6h.6M132.4 59.5h.6M129.7 82.8h.6M135.5 74.0h.6M129.9 87.2h.6M136.1 82.3h.6M132.2 102.2h.6M130.5 97.3h.6M133.2 72.0h.6M133.5 76.6h.6M130.1 75.0h.6M138.6 76.2h.6M137.3 57.7h.6M132.7 85.2h.6M131.0 85.3h.6M129.6 74.7h.6M131.5 62.8h.6M132.0 95.9h.6M135.7 59.8h.6M132.7 89.1h.6M135.3 82.5h.6M129.6 71.9h.6M129.4 91.5h.6M136.8 96.3h.6M129.9 102.8h.6M133.4 68.2h.6M134.2 74.7h.6M134.3 89.9h.6M133.0 85.4h.6M132.5 88.3h.6M135.2 82.2h.6M131.5 67.7h.6M132.3 98.8h.6M130.3 79.0h.6M134.6 79.2h.6M134.4 67.6h.6M137.4 81.6h.6M137.5 81.3h.6M130.5 68.4h.6M131.0 65.3h.6M134.3 86.6h.6M138.1 95.1h.6M133.1 59.5h.6M133.1 74.8h.6M134.5 63.1h.6M129.4 64.5h.6M131.2 73.7h.6M135.3 94.0h.6M129.9 61.5h.6M135.7 75.5h.6M129.5 77.9h.6M131.6 79.3h.6M134.7 64.3h.6M133.5 88.4h.6M132.6 68.3h.6M131.5 74.4h.6M131.8 58.3h.6M130.5 66.6h.6M129.9 65.6h.6M130.1 90.2h.6M132.5 68.5h.6M136.0 95.5h.6M133.7 96.6h.6M134.8 66.7h.6M133.4 85.6h.6M133.6 74.4h.6M130.6 74.2h.6M130.9 89.9h.6M134.2 87.0h.6M132.6 94.4h.6M133.1 83.8h.6M134.9 99.6h.6M142.1 89.9h.6M131.2 74.4h.6M131.7 60.7h.6M134.1 91.9h.6M133.1 80.1h.6M129.5 98.5h.6M130.5 84.5h.6M137.4 78.5h.6M131.3 76.4h.6M133.0 79.0h.6M132.4 79.9h.6M132.4 80.8h.6M136.3 91.2h.6M135.4 75.8h.6M131.1 82.7h.6M129.7 92.5h.6M131.1 67.5h.6M130.0 61.0h.6M130.7 61.5h.6M131.0 91.8h.6M130.1 88.5h.6M131.1 89.9h.6M129.6 88.9h.6M142.1 76.5h.6M139.1 94.7h.6M132.5 97.2h.6M132.6 81.1h.6M131.7 57.8h.6M129.6 69.4h.6M129.6 71.7h.6M138.5 82.8h.6M130.7 80.7h.6M130.0 71.4h.6M132.9 96.9h.6M136.2 69.2h.6M133.5 66.7h.6M131.0 74.5h.6M135.1 78.6h.6M129.8 74.1h.6M133.1 94.0h.6M139.2 82.8h.6M130.8 59.8h.6M134.1 76.1h.6M131.0 83.2h.6M133.2 93.7h.6M131.1 70.8h.6M137.6 84.4h.6M133.7 78.2h.6M131.8 97.5h.6M133.3 60.1h.6M131.1 59.7h.6M136.2 96.7h.6M131.4 65.7h.6M139.0 99.5h.6M132.4 80.2h.6M131.3 88.2h.6M132.0 67.1h.6M136.9 95.6h.6M135.6 66.9h.6M133.9 62.1h.6M135.2 100.8h.6M131.1 76.4h.6M133.1 98.7h.6M130.4 88.7h.6M130.8 89.2h.6M130.7 59.4h.6M131.9 68.1h.6M131.9 84.0h.6M133.2 64.5h.6M134.4 99.0h.6M135.0 64.4h.6M134.7 93.9h.6M129.8 59.0h.6M131.2 74.8h.6M131.9 82.3h.6M134.3 61.8h.6M130.9 77.1h.6M136.5 88.4h.6M133.4 63.1h.6M143.1 99.5h.6M129.7 81.4h.6M133.0 70.7h.6M135.4 80.1h.6M135.0 99.8h.6M133.0 96.8h.6M131.4 84.7h.6M129.8 63.9h.6M135.0 69.8h.6M133.7 67.8h.6M137.1 99.6h.6M131.0 101.5h.6M134.8 73.2h.6M130.9 59.8h.6M132.2 72.7h.6M130.6 91.3h.6M130.1 65.6h.6M131.9 60.7h.6M134.2 82.9h.6M133.2 93.4h.6M130.6 84.6h.6M129.7 80.9h.6M130.4 61.9h.6M131.4 83.8h.6M133.5 73.6h.6M132.9 65.0h.6M132.2 65.2h.6M131.2 95.8h.6M132.6 97.2h.6M129.6 61.8h.6M134.3 97.5h.6M133.0 81.9h.6M131.3 62.9h.6M129.9 81.9h.6M131.4 80.6h.6M131.4 75.9h.6M131.2 66.8h.6M132.4 97.2h.6M130.0 80.3h.6M130.0 100.4h.6M130.9 79.7h.6M135.7 88.8h.6M129.4 67.9h.6M131.5 69.5h.6M132.1 58.9h.6M132.2 70.8h.6M135.8 98.0h.6M131.8 68.1h.6M131.0 84.6h.6M134.0 60.3h.6M137.7 68.7h.6M134.3 59.4h.6M132.5 85.6h.6M136.1 73.1h.6M141.3 94.4h.6M130.9 58.0h.6M134.5 100.3h.6M131.1 61.5h.6M130.0 68.6h.6M134.3 64.4h.6M131.1 73.2h.6M131.2 67.5h.6M142.6 72.6h.6M132.2 93.5h.6M137.0 79.3h.6M129.6 98.8h.6M131.7 91.7h.6M131.8 85.9h.6M130.0 96.0h.6M131.6 90.1h.6M134.7 73.4h.6M140.4 88.1h.6M135.9 91.4h.6M137.6 100.1h.6M129.7 98.7h.6M139.6 94.0h.6M137.5 84.4h.6M133.3 93.2h.6M133.7 97.1h.6M140.4 81.7h.6M140.9 100.5h.6M138.8 93.3h.6M130.8 69.0h.6M131.5 66.5h.6M129.8 78.3h.6M136.1 98.8h.6M130.6 88.7h.6M134.6 93.2h.6M134.6 93.6h.6M141.3 95.1h.6M134.5 76.0h.6M133.6 95.5h.6M135.5 73.0h.6M135.1 93.6h.6M129.9 57.7h.6M129.4 62.5h.6M135.9 94.5h.6M132.3 78.3h.6M130.2 72.8h.6M134.4 95.9h.6M129.9 85.7h.6M130.9 69.8h.6M136.4 89.4h.6M132.2 94.2h.6M129.8 63.0h.6M130.9 94.9h.6M130.5 65.9h.6M139.3 74.0h.6M133.1 67.7h.6M134.4 98.2h.6M139.6 75.4h.6M129.4 80.6h.6M133.6 102.5h.6M135.2 64.9h.6M132.2 81.5h.6M129.4 100.5h.6M130.6 78.2h.6M132.2 73.5h.6M135.3 62.1h.6M132.3 80.9h.6M137.1 74.6h.6M134.0 87.8h.6M131.7 61.0h.6M133.9 101.1h.6M132.4 74.0h.6M134.2 74.6h.6M133.8 81.3h.6M138.0 80.2h.6M130.7 74.0h.6M129.7 95.5h.6M134.5 88.6h.6M131.4 91.7h.6M130.7 98.0h.6M134.2 59.1h.6M135.6 72.3h.6M140.1 98.1h.6M133.1 64.1h.6M131.4 59.6h.6M129.5 75.3h.6M134.7 70.3h.6M131.1 92.2h.6M134.4 76.6h.6M135.8 102.0h.6M136.7 88.3h.6M135.6 74.8h.6M131.2 88.9h.6M131.9 70.1h.6M135.5 95.1h.6M131.1 93.6h.6M131.4 81.0h.6M134.2 97.4h.6M134.1 65.3h.6M132.4 71.7h.6M130.5 74.9h.6M133.1 101.5h.6M130.0 71.6h.6M131.1 100.4h.6M132.9 77.4h.6M129.6 62.4h.6M133.4 75.0h.6M129.8 101.3h.6M133.3 98.8h.6M132.6 78.0h.6M135.9 92.9h.6M133.1 71.8h.6M135.3 78.9h.6M133.1 82.9h.6M134.8 70.0h.6M133.6 74.0h.6M131.7 70.6h.6M129.9 86.2h.6M134.4 59.4h.6M134.1 95.1h.6M131.6 100.3h.6M129.5 69.6h.6M131.1 82.5h.6M131.8 91.8h.6M134.4 94.3h.6M131.0 62.6h.6M137.4 101.5h.6M132.4 86.3h.6M136.0 75.4h.6M129.7 100.3h.6M133.1 75.4h.6M131.4 94.2h.6M132.3 97.2h.6M136.1 81.7h.6M130.5 98.5h.6M130.0 63.6h.6M130.7 76.3h.6M133.3 80.3h.6M135.0 83.8h.6M132.3 75.9h.6M131.4 95.9h.6M131.0 93.4h.6M131.8 88.1h.6M140.6 91.8h.6M129.4 98.4h.6M132.6 91.3h.6M136.8 97.5h.6M130.8 63.5h.6M136.6 85.4h.6M134.0 70.0h.6M132.5 95.0h.6M130.0 69.9h.6M131.6 61.8h.6M138.3 88.3h.6M130.5 73.9h.6M138.1 89.3h.6M132.6 72.3h.6M130.5 57.7h.6M130.9 70.0h.6M133.0 60.2h.6M131.7 94.2h.6M130.1 59.3h.6M130.9 67.7h.6M131.7 86.1h.6M132.9 83.4h.6M130.0 67.4h.6M133.0 95.7h.6M130.7 94.3h.6M129.7 92.9h.6M132.4 58.8h.6M129.5 60.4h.6M130.4 86.2h.6M134.8 75.7h.6M132.1 80.8h.6M131.5 97.0h.6M134.5 102.8h.6M138.7 72.5h.6M135.6 102.4h.6M131.0 63.6h.6M132.2 78.2h.6M135.5 78.2h.6M130.9 73.0h.6M132.9 70.4h.6M129.8 66.3h.6M134.5 77.5h.6M130.1 66.5h.6M131.7 69.6h.6M133.1 83.0h.6M142.8 91.5h.6M137.6 100.6h.6M133.4 90.2h.6M129.5 60.4h.6M130.3 96.8h.6M132.1 90.4h.6M131.7 73.7h.6M136.3 64.9h.6M138.0 71.4h.6M130.6 59.5h.6M134.2 98.4h.6M131.8 94.1h.6M129.8 62.4h.6M130.0 64.5h.6M136.1 102.6h.6M131.2 99.0h.6M135.4 94.9h.6M132.6 63.3h.6M133.0 80.6h.6M129.4 67.0h.6M130.6 98.9h.6M142.9 89.8h.6M133.4 77.4h.6M136.5 90.8h.6M136.1 95.8h.6M131.6 63.6h.6M129.7 84.1h.6M137.0 74.7h.6M130.0 93.3h.6M138.1 78.6h.6M131.9 81.8h.6M131.3 60.7h.6M136.5 97.8h.6M131.3 79.5h.6M131.3 68.6h.6M131.4 98.7h.6M130.9 84.4h.6M130.5 63.2h.6M134.3 84.1h.6M130.8 86.5h.6M132.5 60.6h.6M134.9 90.5h.6M130.9 75.7h.6M130.2 88.1h.6M132.9 87.1h.6M132.1 89.0h.6M130.0 98.9h.6M132.6 84.8h.6M131.1 102.4h.6M134.3 67.9h.6M135.4 95.0h.6M129.5 86.3h.6M130.3 61.8h.6M129.9 101.9h.6M130.2 59.7h.6M131.7 68.4h.6M130.9 88.1h.6M137.8 99.8h.6M135.7 69.5h.6M134.9 64.5h.6M130.0 62.2h.6M130.4 101.8h.6M132.8 94.2h.6M131.0 64.9h.6M129.6 93.3h.6M129.7 98.0h.6M129.6 96.2h.6M131.8 82.8h.6M134.5 85.7h.6M130.0 84.6h.6M130.5 60.0h.6M130.6 82.3h.6M132.1 57.8h.6M139.1 91.4h.6M130.9 94.4h.6M133.9 78.3h.6M132.9 66.9h.6M138.2 77.0h.6M137.4 82.3h.6M134.7 73.5h.6M134.4 96.2h.6M133.7 96.1h.6M131.6 71.3h.6M133.7 92.2h.6M135.9 102.0h.6M131.5 92.5h.6M129.5 62.7h.6M134.4 89.0h.6M132.4 78.2h.6M134.0 76.0h.6M134.8 99.2h.6M132.7 90.8h.6M141.1 95.6h.6M137.0 90.1h.6M131.0 96.2h.6M131.3 77.1h.6M132.0 100.4h.6M130.3 77.6h.6M132.2 71.2h.6M130.2 73.4h.6M131.1 77.7h.6M137.3 102.1h.6M139.5 92.2h.6M138.6 95.6h.6M129.6 70.0h.6M130.0 68.9h.6M129.8 68.0h.6M133.8 97.8h.6M131.7 92.6h.6M136.7 92.8h.6M134.5 81.7h.6M130.6 62.3h.6M133.1 86.0h.6M139.5 74.2h.6M131.4 64.8h.6M132.7 81.7h.6M135.3 100.2h.6M134.8 76.0h.6M134.1 101.5h.6M130.0 61.6h.6M134.0 98.7h.6M129.7 58.1h.6M138.9 102.5h.6M134.2 65.5h.6M132.3 88.9h.6M129.5 91.4h.6M132.1 69.2h.6M130.1 58.8h.6M131.7 69.3h.6M134.3 101.4h.6M134.6 87.4h.6M130.8 84.7h.6M131.8 60.4h.6M132.2 60.5h.6M129.7 64.0h.6M137.8 62.6h.6M129.9 88.8h.6M129.7 69.9h.6M131.3 62.1h.6M134.3 71.3h.6M132.9 77.7h.6M139.3 90.6h.6M134.5 73.1h.6M139.5 95.4h.6M130.7 67.8h.6M132.1 96.4h.6M134.6 70.1h.6M131.7 57.9h.6M136.1 64.7h.6M135.6 87.5h.6M132.0 65.7h.6M137.0 64.0h.6M136.0 74.9h.6M132.6 87.2h.6M130.3 60.4h.6M130.3 58.2h.6M131.9 101.3h.6M129.8 74.0h.6M132.3 93.4h.6M132.3 68.9h.6M132.3 62.6h.6M130.2 68.8h.6M132.6 74.8h.6M130.0 92.3h.6M131.7 67.5h.6M133.2 75.0h.6M134.0 79.0h.6M137.3 97.1h.6M131.9 95.6h.6M133.2 68.2h.6M130.0 62.8h.6M129.9 78.4h.6M130.8 62.9h.6M130.9 79.3h.6M132.1 77.5h.6M132.1 62.9h.6M131.1 78.8h.6M131.5 100.1h.6M129.9 67.6h.6M139.1 91.4h.6M134.0 101.3h.6M139.7 96.5h.6M136.3 81.4h.6M132.8 68.4h.6M135.5 67.2h.6M130.1 61.3h.6M139.1 78.5h.6M134.5 90.8h.6M131.3 72.0h.6M131.1 66.8h.6M132.0 62.9h.6M133.1 102.3h.6M129.6 58.0h.6M130.5 87.2h.6M129.5 78.9h.6M133.1 91.2h.6M130.1 80.2h.6M130.9 85.0h.6M131.9 94.1h.6M130.1 100.5h.6M137.3 74.2h.6M131.1 98.6h.6M132.5 84.7h.6M132.9 98.5h.6M130.4 59.1h.6M131.1 77.5h.6M132.0 91.6h.6M133.8 84.0h.6M131.3 88.4h.6M131.4 58.1h.6M130.4 79.2h.6M134.3 80.8h.6M131.6 102.6h.6M131.3 85.8h.6M135.8 66.7h.6M133.6 103.0h.6M130.5 101.2h.6M132.3 72.1h.6M131.9 87.9h.6M130.6 58.5h.6M131.7 95.2h.6M131.1 57.5h.6M131.5 78.2h.6M130.0 83.1h.6M131.3 68.4h.6M131.2 63.0h.6M129.9 63.7h.6M137.6 81.3h.6M132.4 60.1h.6M131.7 68.2h.6M134.3 78.1h.6M134.0 76.1h.6M134.7 96.6h.6M131.1 101.0h.6M139.2 76.1h.6M130.6 59.8h.6M130.1 58.3h.6M131.8 70.7h.6M143.6 97.1h.6M137.3 76.6h.6M131.3 94.2h.6M131.8 87.2h.6M129.5 68.6h.6M137.0 87.4h.6M134.7 98.4h.6M130.2 101.3h.6M131.5 98.3h.6M132.4 83.4h.6M134.5 69.1h.6M132.3 68.3h.6M133.9 88.3h.6M129.6 60.8h.6M135.4 79.0h.6M129.6 88.1h.6M130.0 79.1h.6M131.2 88.3h.6M134.1 65.7h.6M130.4 101.1h.6M132.4 77.1h.6M131.0 101.1h.6M135.2 101.3h.6M130.4 98.5h.6M135.8 73.9h.6M129.7 87.7h.6M131.2 67.6h.6M129.5 67.3h.6M130.3 63.7h.6M130.9 76.0h.6M130.3 84.0h.6M134.3 100.4h.6M131.6 89.6h.6M131.6 77.4h.6M132.3 58.3h.6M131.9 88.3h.6M134.2 101.3h.6M133.3 92.4h.6M135.4 86.4h.6M132.7 89.6h.6M130.1 92.4h.6M129.7 71.2h.6M138.2 84.9h.6M134.6 96.2h.6M132.6 66.5h.6M133.9 58.2h.6M130.7 69.9h.6M131.3 60.7h.6M129.5 89.2h.6M129.7 57.7h.6M133.4 89.9h.6M132.3 102.4h.6M129.7 100.0h.6M132.6 101.6h.6M132.7 81.3h.6M133.2 72.1h.6M131.5 69.3h.6M130.9 60.0h.6M130.3 61.7h.6M130.6 85.9h.6M133.4 93.5h.6M132.7 90.7h.6M132.7 66.1h.6M131.1 99.8h.6M129.8 64.5h.6M135.4 89.0h.6M133.1 67.9h.6M130.2 93.8h.6M131.4 84.2h.6M131.0 66.2h.6M138.7 93.5h.6M133.8 68.0h.6M133.2 83.2h.6M130.9 63.8h.6M133.3 62.4h.6M129.6 86.3h.6M132.6 76.8h.6M129.6 81.8h.6M130.7 90.5h.6M130.7 67.6h.6M136.4 88.9h.6M132.0 85.5h.6M130.9 71.7h.6M129.6 87.6h.6M131.5 67.8h.6M133.3 92.6h.6M137.7 101.1h.6M131.1 93.6h.6M133.6 90.3h.6M130.4 60.0h.6M130.2 59.7h.6M135.4 80.9h.6M140.0 97.4h.6M130.1 78.5h.6M131.5 80.6h.6M134.0 81.2h.6M134.8 81.6h.6M131.0 92.8h.6M130.4 75.1h.6M129.5 79.5h.6M134.6 67.6h.6M135.4 72.0h.6M130.6 92.5h.6M138.1 74.4h.6M133.8 100.0h.6M133.6 85.7h.6M132.7 86.5h.6M139.5 70.2h.6M133.2 98.9h.6M133.8 63.4h.6M130.5 71.1h.6M129.4 60.6h.6M136.6 77.4h.6M130.5 61.4h.6M131.0 101.3h.6M130.6 59.8h.6M134.8 63.6h.6M131.1 62.3h.6M130.6 81.7h.6M131.1 95.4h.6M132.2 92.3h.6M130.5 76.9h.6M131.0 68.5h.6M132.8 101.7h.6M132.1 91.2h.6M134.7 98.1h.6M133.2 101.0h.6M130.7 85.0h.6M135.0 90.1h.6M131.7 90.9h.6M132.2 101.1h.6M130.5 62.4h.6M132.4 68.8h.6M140.3 69.1h.6M131.3 64.3h.6M132.5 98.0h.6M134.0 93.9h.6M132.6 78.8h.6M136.4 96.8h.6M131.7 98.4h.6M131.4 94.6h.6M140.9 88.7h.6M136.9 78.3h.6M132.9 97.8h.6M134.0 79.7h.6M133.5 80.0h.6M133.6 70.1h.6M134.2 74.5h.6M133.8 89.8h.6M131.2 99.3h.6M135.5 100.5h.6M140.0 96.2h.6M131.5 94.3h.6M131.2 96.5h.6M137.2 80.3h.6M135.8 97.5h.6M134.8 78.6h.6M137.1 96.8h.6M140.2 97.8h.6M139.9 99.0h.6M140.8 93.9h.6M131.9 91.4h.6M132.5 98.6h.6M135.2 86.5h.6M132.4 95.4h.6M133.6 95.3h.6M133.1 78.8h.6M133.7 75.4h.6M132.6 67.0h.6M131.3 95.9h.6M132.2 68.5h.6M132.9 93.8h.6M135.5 81.1h.6M135.6 96.1h.6M132.2 89.7h.6M143.4 99.6h.6M133.1 93.5h.6M134.7 77.7h.6M134.1 70.0h.6M133.8 88.0h.6M135.9 84.2h.6M135.7 81.6h.6M134.7 73.8h.6M137.9 79.6h.6M141.0 92.1h.6M131.8 70.7h.6M131.7 88.2h.6M131.9 82.2h.6M134.4 69.5h.6M134.5 85.6h.6M137.6 79.4h.6M131.2 74.3h.6M137.7 74.2h.6M137.2 99.1h.6M131.2 80.3h.6M134.2 92.6h.6M132.1 77.3h.6M131.3 78.3h.6M134.1 86.5h.6M132.3 84.8h.6M134.0 101.9h.6M141.3 103.5h.6M133.4 72.9h.6M140.5 100.1h.6M134.1 98.6h.6M133.5 79.6h.6M132.0 66.9h.6M139.0 84.8h.6M138.8 101.8h.6M136.4 85.2h.6M132.8 71.4h.6M132.7 89.7h.6M135.9 88.6h.6M131.7 75.7h.6M135.8 85.2h.6M131.4 83.6h.6M131.2 78.8h.6M131.0 92.9h.6M133.8 75.6h.6M133.9 85.4h.6M138.2 99.9h.6M136.0 73.6h.6M135.4 94.1h.6M132.0 92.7h.6M135.4 97.4h.6M144.6 100.7h.6M134.5 82.6h.6M136.3 69.2h.6M134.9 91.4h.6M135.8 71.3h.6M133.2 103.4h.6M131.3 78.6h.6M133.7 73.5h.6M135.1 72.0h.6M134.0 77.4h.6M131.3 72.1h.6M132.5 73.2h.6M133.6 77.8h.6M131.1 84.0h.6M136.0 82.5h.6M132.2 101.4h.6M132.9 83.7h.6M135.4 71.4h.6M135.9 72.3h.6M135.2 102.3h.6M133.8 81.1h.6M134.5 79.2h.6M133.3 91.9h.6M133.1 98.4h.6M140.4 87.5h.6M131.4 93.3h.6M137.4 79.3h.6M138.1 81.1h.6M132.7 82.2h.6M137.2 90.9h.6M133.9 93.6h.6M131.7 79.7h.6M133.0 97.9h.6M137.7 91.4h.6M135.9 78.8h.6M132.8 81.1h.6M136.7 72.8h.6M138.9 96.0h.6M132.6 67.0h.6M135.7 84.6h.6M134.1 79.6h.6M133.7 85.9h.6M135.4 100.9h.6M134.6 78.5h.6M136.8 80.5h.6M135.3 75.8h.6M134.0 79.9h.6M134.7 100.2h.6M131.7 86.2h.6M136.0 96.8h.6M131.3 72.0h.6M131.7 73.2h.6M131.6 68.2h.6M133.0 74.5h.6M131.4 68.2h.6M139.6 93.0h.6M138.1 100.1h.6M133.5 100.6h.6M134.1 69.4h.6M132.8 73.2h.6M134.4 94.1h.6M133.5 69.5h.6M131.2 98.7h.6M139.3 102.6h.6M132.5 67.4h.6M131.5 66.8h.6M132.8 92.6h.6M132.3 72.1h.6M135.1 72.8h.6M136.8 102.4h.6M135.4 79.5h.6M131.6 80.7h.6M132.1 75.5h.6M147.8 103.3h.6M132.5 92.5h.6M133.0 71.7h.6M131.1 79.2h.6M132.6 85.9h.6M136.5 91.5h.6M132.3 95.7h.6M140.6 87.6h.6M134.1 88.5h.6M138.8 78.6h.6M139.4 98.2h.6M134.1 100.3h.6M131.7 72.6h.6M131.1 80.4h.6M131.5 96.1h.6M131.6 95.5h.6M131.1 95.9h.6M133.7 81.5h.6M137.1 93.3h.6M141.5 81.3h.6M134.7 100.8h.6M133.0 89.1h.6M134.4 76.1h.6M133.7 99.9h.6M140.6 96.8h.6M133.1 103.2h.6M135.4 94.4h.6M132.7 75.8h.6M133.2 98.2h.6M132.6 84.3h.6M138.3 69.1h.6M131.1 100.9h.6M134.1 94.5h.6M136.4 87.5h.6M134.2 82.0h.6M139.9 101.0h.6M134.0 69.9h.6M137.0 76.4h.6M136.9 82.6h.6M131.4 93.2h.6M139.3 90.3h.6M136.3 69.7h.6M131.2 74.0h.6M131.9 90.5h.6M136.7 100.5h.6M137.4 101.4h.6M131.1 87.4h.6M131.3 96.3h.6M137.4 98.4h.6M135.6 81.0h.6M132.2 70.4h.6M136.0 94.1h.6M134.8 68.0h.6M140.9 103.1h.6M132.4 70.9h.6M133.7 89.9h.6M134.0 96.6h.6M132.3 67.2h.6M131.3 97.9h.6M137.4 99.5h.6M132.1 83.6h.6M131.6 93.0h.6M136.5 101.0h.6M135.3 72.9h.6M135.7 70.5h.6M134.3 73.0h.6M131.0 72.1h.6M141.4 100.9h.6M132.1 75.4h.6M133.3 100.2h.6M141.7 89.0h.6M132.2 102.4h.6M137.6 86.0h.6M133.5 98.1h.6M131.9 100.3h.6M134.8 96.2h.6M136.6 74.7h.6M136.1 83.4h.6M144.7 100.6h.6M132.8 72.0h.6M136.0 81.2h.6M133.6 72.3h.6M134.9 84.5h.6M134.3 76.0h.6M136.1 94.6h.6M136.4 88.1h.6M138.4 79.8h.6M134.3 102.0h.6M131.3 87.8h.6M136.8 102.3h.6M134.3 77.8h.6M131.4 67.1h.6M132.9 76.7h.6M142.3 89.6h.6M135.9 91.7h.6M136.6 79.6h.6M133.1 86.4h.6M133.6 98.3h.6M135.1 88.7h.6M133.9 77.3h.6M131.9 102.5h.6M135.1 68.4h.6M131.3 73.7h.6M137.5 85.0h.6M137.7 91.1h.6M145.5 91.7h.6M138.2 91.4h.6M132.7 92.7h.6M131.0 82.0h.6M134.1 102.3h.6M134.6 66.3h.6M135.7 81.6h.6M135.4 96.9h.6M131.6 66.5h.6M134.4 97.2h.6M133.4 69.8h.6M132.9 99.0h.6M136.4 85.3h.6M141.1 81.2h.6M140.0 92.2h.6M135.8 102.8h.6M131.1 70.1h.6M133.8 71.5h.6M136.5 79.7h.6M144.1 103.3h.6M137.5 103.3h.6M134.6 72.0h.6M135.8 93.2h.6M132.8 99.8h.6M132.4 75.6h.6M132.6 71.6h.6M131.9 88.1h.6M133.6 84.9h.6M135.7 87.5h.6M132.8 86.4h.6M134.0 66.6h.6M132.4 74.9h.6M131.5 94.4h.6M138.0 75.1h.6M134.2 69.5h.6M131.6 78.6h.6M132.4 94.7h.6M139.4 97.3h.6M141.1 83.0h.6M131.2 88.7h.6M132.3 72.8h.6M131.7 78.4h.6M133.0 69.3h.6M134.4 77.6h.6M134.2 85.2h.6M132.0 71.8h.6M134.9 77.5h.6M141.4 92.5h.6M131.7 82.1h.6M131.9 70.6h.6M133.0 97.8h.6M133.4 89.4h.6M133.9 68.2h.6M131.1 69.8h.6M132.3 93.8h.6M135.1 72.3h.6M138.0 91.1h.6M133.0 69.4h.6M135.2 99.8h.6M131.1 80.9h.6M135.7 73.4h.6M136.0 103.3h.6M144.7 89.1h.6M148.4 88.2h.6M145.4 97.1h.6M145.7 87.0h.6M141.8 94.3h.6M151.9 101.5h.6M142.1 93.5h.6M146.4 87.7h.6M148.4 93.4h.6M149.9 89.5h.6M151.3 99.5h.6M146.2 86.7h.6M146.3 86.4h.6M148.5 97.3h.6M147.4 102.5h.6M141.5 97.6h.6M149.8 86.1h.6M144.5 85.0h.6M147.4 97.7h.6M144.8 97.2h.6M145.0 97.5h.6M144.0 102.6h.6M145.8 84.1h.6M142.0 97.8h.6M150.5 96.1h.6" stroke="#111" stroke-width="0.6" opacity="0.6" fill="none"/>
<path d="M132.5 97.4h.6M135.8 64.1h.6M134.1 88.5h.6M130.5 60.9h.6M133.9 97.5h.6M137.0 73.0h.6M136.6 93.6h.6M136.4 84.9h.6M136.9 87.3h.6M136.8 83.9h.6M132.8 81.8h.6M134.6 73.8h.6M134.0 81.5h.6M135.2 68.8h.6M133.4 81.1h.6M134.7 77.4h.6M135.5 67.2h.6M134.9 71.1h.6M136.0 90.0h.6M136.1 81.8h.6M133.2 99.7h.6M134.8 75.5h.6M133.5 76.7h.6M135.7 95.0h.6M134.6 91.2h.6M132.9 78.9h.6M133.9 72.5h.6M133.9 92.2h.6M135.9 68.1h.6M133.1 93.5h.6M135.5 88.8h.6M135.4 89.5h.6M133.4 61.7h.6M133.9 60.4h.6M136.8 82.1h.6M135.6 101.5h.6M136.2 69.1h.6M133.8 63.8h.6M136.1 91.4h.6M134.7 75.2h.6M133.4 80.4h.6M135.8 98.4h.6M136.4 97.2h.6M134.4 77.5h.6M133.6 101.9h.6M132.7 65.9h.6M133.4 99.6h.6M136.4 73.6h.6M136.4 98.2h.6M134.3 67.5h.6M136.0 75.5h.6M132.2 98.7h.6M134.4 76.5h.6M135.2 70.2h.6M130.9 76.2h.6M134.0 59.5h.6M134.0 92.5h.6M133.8 88.9h.6M135.4 67.3h.6M130.9 88.7h.6M135.3 71.9h.6M132.9 96.6h.6M136.6 69.3h.6M135.2 84.3h.6M133.7 60.6h.6M133.7 87.4h.6M135.2 81.4h.6M132.2 68.4h.6M133.6 77.3h.6M133.9 98.7h.6M132.1 102.4h.6M133.1 96.7h.6M133.2 84.8h.6M134.0 60.7h.6M136.1 94.7h.6M133.3 93.2h.6M134.6 102.4h.6M131.5 75.7h.6M133.1 86.5h.6M136.1 96.1h.6M135.0 76.0h.6M136.2 63.6h.6M133.3 92.1h.6M134.4 102.7h.6M131.9 79.3h.6M132.9 59.1h.6M131.9 63.0h.6M134.0 78.0h.6M134.8 71.7h.6M135.7 81.7h.6M136.9 66.4h.6M134.8 80.7h.6M134.0 96.9h.6M132.9 97.6h.6M133.9 73.8h.6M135.3 83.8h.6M133.4 62.7h.6M136.8 75.3h.6M132.1 87.9h.6M134.9 73.4h.6M133.7 96.2h.6M133.8 77.4h.6M136.8 74.9h.6M134.2 66.1h.6M135.5 88.3h.6M134.4 76.9h.6M133.1 93.8h.6M134.5 95.6h.6M134.0 91.3h.6M131.1 68.7h.6M136.8 89.0h.6M135.6 80.9h.6M134.6 67.7h.6M132.6 87.4h.6M135.7 70.4h.6M135.4 65.0h.6M135.3 66.6h.6M134.8 72.8h.6M135.0 64.9h.6M134.6 86.1h.6M132.3 72.6h.6M135.6 83.0h.6M135.3 93.3h.6M135.1 68.8h.6M134.4 95.5h.6M135.1 92.1h.6M134.0 78.7h.6M136.9 95.2h.6M135.5 63.7h.6M135.3 60.5h.6M136.7 101.8h.6M135.8 70.8h.6M136.4 66.8h.6M136.3 81.9h.6M130.9 98.2h.6M134.4 95.5h.6M135.7 82.4h.6M136.4 67.9h.6M136.6 73.9h.6M131.1 73.8h.6M131.6 62.2h.6M135.3 64.3h.6M132.5 71.9h.6M133.4 99.5h.6M136.6 97.3h.6M137.0 78.4h.6M136.1 71.4h.6M136.7 94.7h.6M135.9 69.0h.6M131.9 99.7h.6M135.0 85.9h.6M136.4 65.3h.6M135.7 79.4h.6M136.1 79.1h.6M132.8 101.1h.6M133.4 91.8h.6M136.3 69.9h.6M135.7 76.4h.6M133.0 68.6h.6M136.8 75.2h.6M134.8 81.1h.6M131.1 92.2h.6M135.9 97.5h.6M133.9 68.2h.6M133.9 91.2h.6M135.5 76.9h.6M134.8 65.8h.6M136.7 79.8h.6M134.8 93.6h.6M132.8 90.8h.6M133.9 94.7h.6M131.9 71.1h.6M135.4 80.2h.6M134.0 84.5h.6M133.0 78.2h.6M130.5 94.1h.6M133.2 95.6h.6M135.0 85.5h.6M135.4 64.5h.6M136.1 71.9h.6M136.4 93.6h.6M135.6 94.9h.6M134.4 88.6h.6M136.8 67.3h.6M132.0 77.1h.6M134.8 65.6h.6M133.0 97.1h.6M134.1 65.6h.6M132.7 84.4h.6M132.8 79.9h.6M134.9 78.3h.6M134.7 95.8h.6M130.9 99.9h.6M132.8 60.7h.6M136.0 84.1h.6M134.9 68.6h.6M136.1 72.5h.6M135.8 69.0h.6M135.1 87.5h.6M134.0 80.1h.6M131.6 87.3h.6M135.7 65.7h.6M135.0 91.3h.6M132.0 95.9h.6M136.5 61.2h.6M133.2 62.7h.6M133.2 62.8h.6M134.7 70.0h.6M133.6 79.3h.6M134.0 93.7h.6M135.8 64.0h.6M133.0 59.4h.6M133.7 63.8h.6M135.7 93.3h.6M137.0 68.2h.6M131.2 92.3h.6M134.2 100.0h.6M134.1 72.7h.6M131.7 100.7h.6M134.8 78.4h.6M134.4 92.8h.6M136.3 79.9h.6M132.7 76.9h.6M136.6 76.9h.6M135.5 83.6h.6M134.5 84.3h.6M133.2 83.5h.6M136.4 62.5h.6M134.0 97.7h.6M136.9 59.6h.6M135.4 86.8h.6M136.3 79.7h.6M132.3 72.2h.6M135.8 91.0h.6M132.9 87.3h.6M135.5 87.9h.6M131.0 78.4h.6M133.7 85.3h.6M133.8 64.6h.6M135.6 71.6h.6M136.1 72.5h.6M135.0 94.6h.6M132.1 91.2h.6M131.6 100.2h.6M131.0 90.9h.6M134.0 66.9h.6M134.1 81.1h.6M134.3 64.4h.6M134.8 72.2h.6M136.9 75.9h.6M134.4 69.0h.6M136.9 73.2h.6M135.5 95.6h.6M134.1 92.2h.6M133.4 63.8h.6M131.3 78.8h.6M136.5 67.9h.6M134.4 92.6h.6M133.4 65.7h.6M134.8 77.7h.6M136.7 98.5h.6M133.1 83.7h.6M134.3 60.5h.6M134.4 99.3h.6M133.6 84.8h.6M135.8 61.8h.6M136.7 63.8h.6M133.6 90.5h.6M130.9 75.5h.6M132.2 79.8h.6M130.9 65.6h.6M133.0 62.6h.6M131.9 67.6h.6M134.8 65.0h.6M136.3 77.3h.6M133.2 69.6h.6M136.3 61.1h.6M135.9 63.3h.6M136.8 77.0h.6M135.2 97.0h.6M132.0 61.8h.6M135.7 84.9h.6M135.8 71.2h.6M134.7 67.2h.6M134.4 71.4h.6M135.2 72.2h.6M133.4 87.3h.6M131.8 94.3h.6M134.7 69.1h.6M132.1 81.4h.6M134.7 90.7h.6M134.0 77.1h.6M136.6 71.0h.6M136.9 98.3h.6M137.0 100.5h.6M133.3 94.8h.6M135.3 68.0h.6M137.0 87.5h.6M136.2 83.6h.6M131.8 97.0h.6M132.7 70.4h.6M135.3 67.5h.6M134.5 90.4h.6M131.9 88.1h.6M132.0 79.9h.6M135.5 89.2h.6M131.3 67.4h.6M136.8 76.2h.6M134.3 75.5h.6M135.7 91.6h.6M135.5 76.7h.6M135.1 81.7h.6M132.8 100.8h.6M136.9 93.2h.6M137.0 79.5h.6M136.3 69.6h.6M135.9 90.5h.6M136.7 95.7h.6M136.5 70.8h.6M136.1 79.9h.6M133.6 75.2h.6M136.2 96.1h.6M136.4 88.5h.6M132.6 65.8h.6M135.1 68.3h.6M133.8 63.5h.6M132.5 90.5h.6M133.0 96.3h.6M133.7 96.3h.6M133.6 70.8h.6M134.1 59.5h.6M134.4 75.7h.6M130.8 96.9h.6M134.0 59.0h.6M136.8 69.1h.6M133.2 60.1h.6M132.0 90.2h.6M135.1 81.2h.6M133.2 71.6h.6M136.9 75.4h.6M137.0 98.0h.6M132.2 96.3h.6M131.0 90.3h.6M136.2 89.6h.6M135.0 94.8h.6M132.5 82.8h.6M133.3 76.6h.6M132.8 90.2h.6M135.1 93.3h.6M135.4 85.4h.6M136.7 94.7h.6M135.1 73.3h.6M136.7 75.3h.6M132.0 73.7h.6M135.7 100.0h.6M135.5 88.2h.6M136.7 93.2h.6M134.4 79.3h.6M136.0 73.0h.6M132.1 86.3h.6M136.2 69.9h.6M135.6 98.3h.6M132.2 65.0h.6M134.7 73.7h.6M136.8 102.9h.6M134.4 93.9h.6M135.4 66.6h.6M136.9 66.7h.6M131.7 78.9h.6M130.9 80.2h.6M134.2 101.0h.6M134.2 96.4h.6M136.1 84.8h.6M133.1 72.4h.6M134.7 76.4h.6M135.5 81.2h.6M133.7 85.7h.6M137.0 67.9h.6M133.8 59.5h.6M131.9 61.4h.6M134.3 95.8h.6M135.7 101.5h.6M136.3 84.8h.6M135.1 59.6h.6M134.1 70.5h.6M135.3 61.9h.6M134.9 75.5h.6M134.7 76.8h.6M132.0 91.2h.6M136.2 85.3h.6M132.1 85.4h.6M136.5 102.4h.6M136.0 61.0h.6M136.5 88.3h.6M133.4 99.5h.6M136.3 98.4h.6M133.2 84.4h.6M134.0 72.0h.6M136.0 86.1h.6M133.8 82.9h.6M136.7 83.9h.6M136.6 83.9h.6M137.0 60.3h.6M134.5 83.3h.6M135.8 101.6h.6M135.3 80.0h.6M135.4 82.5h.6M135.7 100.7h.6M130.8 73.1h.6M136.5 61.6h.6M136.1 60.4h.6M135.5 94.2h.6M133.1 75.8h.6M133.0 90.0h.6M134.9 85.6h.6M133.7 84.8h.6M136.8 93.3h.6M136.8 69.9h.6M134.8 76.0h.6M133.8 94.3h.6" stroke="#fff" stroke-width="0.6" opacity="0.55" fill="none"/>
</g>
<rect x="125.3" y="53.7" width="11.500000000000014" height="21.200000000000003" fill="none" stroke="#808080" stroke-width="0.65"/>
<rect x="139.9" y="86.3" width="12.400000000000006" height="14.299999999999997" fill="none" stroke="#808080" stroke-width="0.65"/>
<line x1="102.4" y1="44.1" x2="104" y2="44.1" stroke="#444" stroke-width="0.7"/>
<line x1="163.1" y1="103.6" x2="163.1" y2="105.39999999999999" stroke="#444" stroke-width="0.7"/>
<line x1="102.4" y1="58.9" x2="104" y2="58.9" stroke="#444" stroke-width="0.7"/>
<line x1="148.3" y1="103.6" x2="148.3" y2="105.39999999999999" stroke="#444" stroke-width="0.7"/>
<line x1="102.4" y1="73.7" x2="104" y2="73.7" stroke="#444" stroke-width="0.7"/>
<line x1="133.5" y1="103.6" x2="133.5" y2="105.39999999999999" stroke="#444" stroke-width="0.7"/>
<line x1="102.4" y1="88.5" x2="104" y2="88.5" stroke="#444" stroke-width="0.7"/>
<line x1="118.7" y1="103.6" x2="118.7" y2="105.39999999999999" stroke="#444" stroke-width="0.7"/>
<line x1="103.1" y1="90.7" x2="103.1" y2="102.6" stroke="#555" stroke-width="1.2" stroke-dasharray="0.6 1.7"/>
<line x1="105" y1="104.5" x2="116.5" y2="104.5" stroke="#555" stroke-width="1.2" stroke-dasharray="0.6 1.7"/>
<rect x="102.4" y="94.8" width="1.5" height="1.3" fill="#111"/>
<rect x="102.4" y="97.3" width="1.5" height="1.1" fill="#111"/>
<rect x="111.2" y="103.8" width="1.6" height="1.5" fill="#111"/>
<rect x="107.6" y="103.8" width="1.1" height="1.4" fill="#222"/>
<rect x="19.5" y="136.6" width="65.2" height="65.70000000000002" fill="#fff" stroke="#858585" stroke-width="0.7"/>
<clipPath id="c3"><rect x="20.0" y="137.1" width="64.2" height="64.70000000000002"/></clipPath>
<g clip-path="url(#c3)">
<ellipse cx="40.1" cy="166.9" rx="1.8" ry="2.9" fill="#000" opacity="0.8" filter="url(#bl)" transform="rotate(0 40.1 166.9)"/>
<ellipse cx="40.1" cy="166.9" rx="1.1" ry="1.9" fill="#000" opacity="0.8" filter="url(#bl)" transform="rotate(0 40.1 166.9)"/>
<ellipse cx="37.8" cy="189.3" rx="2.6" ry="3.4" fill="#000" opacity="0.95" filter="url(#bl)" transform="rotate(0 37.8 189.3)"/>
<ellipse cx="37.9" cy="189.3" rx="1.9" ry="2.5" fill="#000" opacity="0.9" filter="url(#bl)" transform="rotate(0 37.9 189.3)"/>
<ellipse cx="38.8" cy="179" rx="1.4" ry="4.5" fill="#000" opacity="0.3" filter="url(#bl)" transform="rotate(0 38.8 179)"/>
<ellipse cx="32" cy="193.3" rx="5" ry="1.2" fill="#000" opacity="0.35" filter="url(#bl)" transform="rotate(0 32 193.3)"/>
<path d="M41.1 170.0h.6M40.7 160.7h.6M41.4 167.2h.6M36.1 167.2h.6M41.8 171.3h.6M38.4 168.9h.6M40.7 166.5h.6M39.6 168.3h.6M41.1 168.6h.6M39.4 163.5h.6M42.3 170.3h.6M39.2 166.8h.6M41.5 162.4h.6M40.9 173.2h.6M40.6 165.1h.6M43.5 166.9h.6M40.5 165.8h.6M40.4 162.3h.6M38.0 163.1h.6M41.6 166.7h.6M42.0 161.6h.6M39.1 170.7h.6M38.8 162.1h.6M38.9 166.0h.6M40.1 170.3h.6M42.3 170.9h.6M41.1 165.6h.6M39.3 163.1h.6M42.2 170.1h.6M40.2 164.6h.6M41.2 168.2h.6M40.4 163.9h.6M40.5 165.4h.6M41.3 168.5h.6M40.8 165.8h.6M42.6 168.9h.6M42.2 169.1h.6M41.2 167.9h.6M38.3 162.2h.6M38.5 168.5h.6M41.6 167.4h.6M40.2 171.7h.6M39.4 162.3h.6M37.5 166.1h.6M41.3 168.8h.6M39.7 169.0h.6M40.0 165.0h.6M39.5 168.9h.6M41.7 164.0h.6M38.5 167.2h.6M43.6 163.9h.6M38.0 168.0h.6M40.9 165.3h.6M40.1 168.2h.6M37.2 166.8h.6M41.1 169.3h.6M42.0 166.7h.6M37.7 170.4h.6M41.4 165.3h.6M41.8 169.6h.6M39.9 160.8h.6M39.3 164.9h.6M38.7 166.7h.6M38.3 167.9h.6M43.2 163.8h.6M41.8 165.5h.6M41.0 166.6h.6M42.2 165.1h.6M41.3 164.9h.6M40.5 166.9h.6M41.9 162.8h.6M37.9 170.5h.6M40.7 171.3h.6M38.4 167.4h.6M41.1 171.5h.6M40.0 165.7h.6M41.3 166.6h.6M38.9 168.9h.6M36.9 164.3h.6M42.4 165.6h.6M39.6 167.9h.6M42.0 168.3h.6M38.5 165.4h.6M41.8 166.6h.6M39.1 169.2h.6M42.0 172.5h.6M38.3 165.1h.6M38.9 167.8h.6M39.3 169.8h.6M35.6 169.4h.6M39.0 166.2h.6M41.0 167.4h.6M38.4 170.8h.6M41.1 165.6h.6M40.4 164.0h.6M38.1 166.1h.6M40.7 167.2h.6M38.8 163.3h.6M37.3 171.0h.6M40.7 164.8h.6M42.1 168.3h.6M39.4 165.3h.6M42.0 167.7h.6M42.8 167.8h.6M39.1 165.4h.6M38.9 167.6h.6M40.5 168.5h.6M40.8 164.2h.6M39.8 164.5h.6M40.9 163.5h.6M39.1 164.7h.6M39.1 166.2h.6M42.6 166.2h.6M37.7 166.1h.6M41.3 168.3h.6M40.5 172.1h.6M41.9 167.1h.6M42.1 163.4h.6M39.8 164.7h.6M40.4 171.1h.6M39.3 171.0h.6M38.4 170.6h.6M37.3 164.7h.6M41.8 166.7h.6M40.3 166.9h.6M40.4 166.4h.6M38.5 166.1h.6M40.3 164.6h.6M40.9 171.5h.6M37.4 165.5h.6M39.6 166.9h.6M40.3 165.0h.6M40.0 166.9h.6M40.0 170.9h.6M40.3 163.1h.6M37.5 168.4h.6M39.5 165.3h.6M37.9 166.1h.6M39.9 165.1h.6M39.5 169.2h.6M41.4 168.3h.6M39.8 163.4h.6M41.4 170.8h.6M42.2 169.9h.6M40.6 167.9h.6M40.1 170.1h.6M39.7 172.5h.6M41.4 166.1h.6M40.1 162.7h.6M38.9 166.1h.6M44.1 164.8h.6M41.6 167.1h.6M39.6 168.5h.6M36.8 169.3h.6M43.3 167.7h.6M40.0 167.3h.6M41.2 165.6h.6M40.3 168.2h.6M39.5 167.9h.6M40.7 168.8h.6M38.5 165.5h.6M39.4 170.0h.6M40.5 162.6h.6M38.0 171.9h.6M40.7 163.5h.6M38.6 167.3h.6M42.5 171.1h.6M39.5 166.1h.6M43.3 164.4h.6M42.7 167.8h.6M40.3 170.2h.6M40.9 164.7h.6M37.6 166.9h.6M40.9 170.4h.6M35.8 170.4h.6M41.1 170.8h.6M41.4 167.5h.6M40.8 167.9h.6M39.1 166.6h.6M40.3 165.7h.6M37.7 163.2h.6M40.9 168.3h.6M40.3 163.9h.6M41.5 165.9h.6M36.7 171.0h.6M37.6 172.7h.6M41.0 165.8h.6M36.2 165.1h.6M42.5 170.4h.6M40.5 162.5h.6M39.5 166.2h.6M40.9 166.6h.6M40.7 162.7h.6M39.0 170.6h.6M37.7 169.3h.6M43.9 168.6h.6M37.8 170.1h.6M37.0 167.8h.6M39.4 170.1h.6M42.0 167.4h.6M43.1 169.5h.6M39.3 164.4h.6M44.2 165.8h.6M40.8 166.6h.6M39.3 162.7h.6M39.9 166.6h.6M41.7 165.6h.6M37.5 164.1h.6M40.0 167.5h.6M41.3 165.9h.6M41.0 167.3h.6M42.9 166.8h.6M40.3 168.4h.6M42.1 164.5h.6M39.3 166.2h.6M36.6 170.3h.6M41.9 167.0h.6M45.7 170.2h.6M43.4 171.0h.6M41.6 163.2h.6M42.6 168.0h.6M38.1 167.0h.6M41.3 169.5h.6M40.4 165.5h.6M41.4 164.9h.6M40.0 168.9h.6M37.7 167.9h.6M36.9 164.5h.6M38.1 166.7h.6M41.3 166.8h.6M41.6 167.2h.6M39.8 168.2h.6M39.7 167.3h.6M41.8 165.4h.6M42.0 164.0h.6M39.7 162.4h.6M39.2 171.0h.6M40.7 170.2h.6M37.7 164.3h.6M40.9 169.1h.6M41.5 162.5h.6M40.9 166.7h.6M40.3 168.1h.6M39.6 162.5h.6M38.3 163.1h.6M37.9 166.6h.6M42.3 165.0h.6M38.8 163.9h.6M37.2 167.1h.6M39.3 166.3h.6M38.5 168.2h.6M38.1 168.3h.6M39.0 169.0h.6M38.6 168.1h.6M40.8 166.7h.6M42.8 167.4h.6M38.6 168.7h.6M38.7 165.5h.6M40.1 167.4h.6M42.9 162.4h.6M37.1 192.8h.6M37.4 190.3h.6M41.7 185.5h.6M37.9 191.8h.6M36.3 183.9h.6M35.3 189.9h.6M38.3 195.0h.6M41.2 184.5h.6M40.4 192.1h.6M41.9 188.8h.6M36.4 189.8h.6M41.7 191.2h.6M42.1 191.7h.6M36.3 186.2h.6M42.5 184.6h.6M36.9 188.3h.6M35.5 187.5h.6M37.8 196.7h.6M37.6 187.7h.6M38.1 192.2h.6M35.7 188.0h.6M33.4 191.5h.6M39.5 193.9h.6M34.8 196.0h.6M40.0 188.4h.6M36.8 188.3h.6M34.7 191.7h.6M36.3 187.1h.6M39.1 189.6h.6M36.3 188.6h.6M36.6 193.5h.6M40.3 187.1h.6M37.7 193.5h.6M37.1 194.8h.6M38.9 191.4h.6M32.5 191.9h.6M38.7 191.1h.6M39.0 190.9h.6M36.5 192.1h.6M38.0 186.1h.6M35.2 189.8h.6M38.7 182.5h.6M32.6 192.6h.6M37.8 198.1h.6M33.9 188.5h.6M36.3 191.0h.6M41.4 194.3h.6M35.2 193.1h.6M34.7 190.3h.6M38.2 191.2h.6M35.8 193.4h.6M37.6 189.2h.6M37.1 186.0h.6M39.6 190.3h.6M39.0 195.1h.6M35.6 188.4h.6M37.8 192.0h.6M37.3 192.2h.6M39.0 183.8h.6M36.1 183.0h.6M37.1 188.0h.6M39.3 189.8h.6M37.6 193.2h.6M39.3 185.5h.6M36.0 190.3h.6M42.1 188.7h.6M37.4 190.1h.6M39.8 189.0h.6M38.5 188.0h.6M36.4 186.8h.6M39.5 187.6h.6M39.2 190.6h.6M40.3 181.0h.6M35.3 185.5h.6M37.4 191.8h.6M44.2 194.1h.6M41.2 190.5h.6M36.8 191.0h.6M32.3 192.2h.6M37.8 191.2h.6M35.2 185.9h.6M36.2 189.2h.6M38.7 188.2h.6M38.7 191.4h.6M34.9 189.0h.6M33.8 187.6h.6M40.1 187.1h.6M42.5 190.9h.6M40.1 189.6h.6M40.0 192.7h.6M38.1 187.7h.6M36.4 195.3h.6M37.3 187.9h.6M36.0 184.1h.6M36.5 190.3h.6M36.6 186.9h.6M38.8 190.7h.6M36.7 190.3h.6M35.3 192.0h.6M35.3 188.3h.6M38.1 188.0h.6M34.9 195.8h.6M41.7 183.9h.6M38.1 185.4h.6M38.6 185.2h.6M39.3 191.0h.6M42.1 193.1h.6M36.6 192.2h.6M36.6 188.9h.6M36.5 183.8h.6M39.3 183.0h.6M37.2 190.9h.6M38.1 184.4h.6M36.2 191.4h.6M40.6 194.3h.6M33.2 190.7h.6M36.6 191.7h.6M33.5 188.9h.6M39.6 187.3h.6M36.9 186.2h.6M40.6 185.2h.6M35.5 188.3h.6M37.0 195.9h.6M38.5 186.7h.6M39.3 190.4h.6M38.5 189.1h.6M39.0 185.6h.6M34.7 188.0h.6M35.0 191.5h.6M42.7 193.2h.6M38.9 190.4h.6M36.1 185.3h.6M39.2 184.7h.6M38.6 188.9h.6M39.7 189.5h.6M38.1 187.5h.6M33.4 188.2h.6M39.6 192.6h.6M41.3 186.2h.6M35.4 191.5h.6M36.6 197.3h.6M38.6 184.6h.6M36.4 194.2h.6M33.2 189.8h.6M34.3 194.3h.6M36.7 186.1h.6M33.5 187.1h.6M31.3 187.8h.6M43.3 189.6h.6M37.1 185.7h.6M38.7 187.8h.6M35.6 193.6h.6M38.9 186.5h.6M41.6 189.1h.6M39.1 189.8h.6M40.8 191.2h.6M36.9 191.5h.6M36.8 189.7h.6M42.0 186.0h.6M35.2 188.1h.6M36.5 193.4h.6M33.8 196.5h.6M41.8 187.9h.6M38.3 188.2h.6M39.5 191.4h.6M39.7 191.7h.6M42.7 188.8h.6M39.6 188.7h.6M37.9 190.0h.6M37.7 190.4h.6M35.6 188.8h.6M36.3 185.7h.6M36.0 187.7h.6M37.4 184.4h.6M37.1 185.8h.6M35.7 189.9h.6M40.6 190.2h.6M36.6 187.9h.6M41.2 184.2h.6M40.7 184.6h.6M36.2 189.4h.6M37.2 194.5h.6M39.1 189.2h.6M40.2 189.4h.6M35.8 192.8h.6M41.6 193.3h.6M34.8 195.3h.6M36.7 191.7h.6M40.8 196.7h.6M33.7 186.1h.6M40.8 190.8h.6M37.0 180.2h.6M38.9 188.7h.6M31.2 197.7h.6M31.4 187.6h.6M37.8 190.0h.6M39.7 188.5h.6M35.5 188.2h.6M32.4 185.8h.6M42.8 187.2h.6M37.6 195.2h.6M40.5 189.7h.6M39.7 188.5h.6M35.5 192.4h.6M38.1 194.3h.6M37.1 188.1h.6M38.7 188.7h.6M37.0 186.5h.6M38.4 190.3h.6M42.5 189.2h.6M33.3 190.8h.6M43.6 187.9h.6M35.8 188.8h.6M30.5 188.3h.6M37.3 184.6h.6M39.3 186.6h.6M33.1 187.0h.6M39.4 195.3h.6M41.0 189.9h.6M36.5 188.5h.6M40.3 187.7h.6M38.9 192.3h.6M35.5 187.5h.6M38.9 189.3h.6M37.5 187.6h.6M37.6 195.1h.6M41.3 184.2h.6M37.9 189.6h.6M37.9 185.0h.6M37.5 189.8h.6M36.1 190.3h.6M31.6 184.6h.6M38.1 190.5h.6M37.4 187.9h.6M38.3 192.7h.6M40.1 189.1h.6M36.6 192.6h.6M39.2 192.1h.6M37.1 186.6h.6M38.3 187.3h.6M40.7 192.0h.6M32.2 191.4h.6M41.2 192.6h.6M36.6 186.6h.6M40.3 192.5h.6M38.0 185.7h.6M33.9 190.1h.6M35.7 187.2h.6M38.9 192.6h.6M32.5 187.2h.6M41.1 189.2h.6M36.9 191.3h.6M34.9 185.5h.6M37.9 194.2h.6M40.4 189.3h.6M40.4 188.0h.6M34.8 184.1h.6M38.5 192.1h.6M38.8 189.2h.6M36.8 192.7h.6M37.7 184.8h.6M41.3 187.3h.6M38.8 189.3h.6M40.5 190.1h.6M40.9 190.0h.6M36.6 187.7h.6M39.5 186.7h.6M40.2 188.5h.6M35.4 186.6h.6M37.4 194.8h.6M39.8 189.4h.6M35.5 195.3h.6M37.1 189.3h.6M36.7 193.5h.6M38.3 187.9h.6M38.3 186.2h.6M35.1 188.8h.6M30.5 193.0h.6M42.9 185.8h.6M37.4 184.4h.6M38.2 190.0h.6M39.7 185.1h.6M36.3 187.3h.6M37.2 196.5h.6M37.3 189.2h.6M36.5 191.8h.6M44.3 192.9h.6M41.7 185.9h.6M40.5 189.4h.6M41.0 192.6h.6M39.5 184.0h.6M38.1 187.7h.6M38.9 189.4h.6M40.5 184.3h.6M35.9 189.1h.6M38.6 188.0h.6M37.7 189.5h.6M40.5 188.9h.6M38.4 183.6h.6M31.1 184.7h.6M38.7 182.1h.6M38.8 189.0h.6M37.8 187.0h.6M36.7 191.9h.6M38.7 189.2h.6M36.6 190.0h.6M40.8 189.2h.6M36.9 185.6h.6M38.1 186.4h.6M34.1 192.0h.6M36.2 182.9h.6M36.0 195.1h.6M37.5 185.1h.6M35.0 191.6h.6M38.8 190.0h.6M37.3 190.8h.6M41.7 190.8h.6M37.4 184.9h.6M38.9 194.2h.6M39.5 185.3h.6M38.3 193.4h.6M36.2 190.9h.6M40.9 194.4h.6M33.7 183.8h.6M38.8 191.5h.6M36.9 189.2h.6M36.8 193.1h.6M32.1 190.1h.6M34.5 187.2h.6M33.9 186.4h.6M37.7 189.4h.6M42.4 188.6h.6M38.7 190.4h.6M38.5 193.9h.6M38.2 189.8h.6M37.5 189.3h.6M37.7 192.4h.6M37.9 189.5h.6M37.7 191.7h.6M36.6 192.3h.6M36.3 191.5h.6M42.7 190.0h.6M37.6 185.6h.6M39.7 189.3h.6M40.1 187.2h.6M39.1 195.0h.6M38.8 188.3h.6M34.5 189.3h.6M39.5 191.2h.6M34.9 186.1h.6M35.3 186.1h.6M37.1 190.1h.6M42.7 189.9h.6M41.5 184.1h.6M41.8 191.8h.6M38.9 191.9h.6M39.4 195.3h.6M39.9 183.8h.6M33.3 194.4h.6M37.6 193.5h.6M36.9 187.2h.6M36.9 190.3h.6M38.3 187.3h.6M39.2 191.2h.6M35.4 185.8h.6M32.8 188.3h.6M37.8 187.1h.6M36.3 188.9h.6M37.9 191.1h.6M39.9 190.7h.6M40.7 186.2h.6M39.4 190.5h.6M35.1 187.2h.6M38.9 189.5h.6M34.6 187.6h.6M41.7 192.0h.6M38.0 193.6h.6M35.5 188.8h.6M40.3 188.2h.6M34.9 191.2h.6M41.9 181.3h.6M38.2 185.3h.6M37.0 184.8h.6M44.5 187.1h.6M37.9 187.1h.6M35.3 187.9h.6M38.3 194.8h.6M38.5 194.3h.6M35.1 189.5h.6M36.7 184.3h.6M47.4 188.5h.6M38.4 186.9h.6M36.3 186.0h.6M40.4 188.0h.6M37.4 189.9h.6M34.7 190.0h.6M37.4 190.7h.6M36.8 189.4h.6M39.1 192.4h.6M36.0 192.4h.6M35.3 188.7h.6M38.1 189.8h.6M31.4 186.2h.6M37.3 192.2h.6M36.0 194.1h.6M33.2 189.5h.6M39.2 189.4h.6M38.5 192.3h.6M35.7 191.2h.6M40.5 188.6h.6M31.9 185.5h.6M35.6 186.0h.6M38.9 186.8h.6M44.2 191.1h.6M34.4 188.4h.6M41.7 191.5h.6M35.2 192.6h.6M36.6 196.3h.6M36.4 191.2h.6M39.3 187.9h.6" stroke="#111" stroke-width="0.6" opacity="0.6" fill="none"/>
<path d="M39.6 183.7h.6M41.2 177.7h.6M41.1 186.6h.6M42.3 180.4h.6M40.8 170.3h.6M40.3 175.6h.6M41.8 175.0h.6M41.1 172.8h.6M42.2 174.4h.6M39.9 180.9h.6M39.2 178.0h.6M42.6 186.7h.6M35.5 173.5h.6M41.7 182.6h.6M38.8 178.5h.6M39.5 189.2h.6M39.5 172.1h.6M36.2 171.7h.6M43.2 176.1h.6M44.8 181.2h.6M40.9 181.2h.6M42.0 182.5h.6M37.6 175.2h.6M38.6 178.5h.6M39.4 171.9h.6M38.3 186.8h.6M45.2 173.8h.6M40.9 177.8h.6M37.9 181.5h.6M39.8 186.2h.6M41.1 176.5h.6M33.5 177.5h.6M42.1 174.5h.6M42.2 181.4h.6M35.6 177.0h.6M40.8 181.7h.6M40.4 177.9h.6M39.1 176.6h.6M40.0 172.8h.6M41.6 176.4h.6M41.3 175.5h.6M41.0 178.6h.6M42.2 180.3h.6M42.3 177.2h.6M39.9 176.7h.6M36.9 177.4h.6M42.7 181.8h.6M37.9 179.5h.6M41.9 171.3h.6M40.9 179.6h.6M41.8 179.3h.6M35.7 168.1h.6M44.9 176.1h.6M43.1 184.2h.6M40.2 172.4h.6M43.4 177.8h.6M41.3 180.4h.6M42.4 183.0h.6M36.5 171.1h.6M40.4 178.0h.6M41.9 177.3h.6M39.6 188.0h.6M43.4 183.7h.6M42.6 174.1h.6M39.8 177.7h.6M37.3 173.7h.6M40.4 172.0h.6M41.3 180.3h.6M39.4 176.3h.6M41.5 180.4h.6M40.9 172.0h.6M36.0 188.1h.6M38.4 176.2h.6M35.5 174.1h.6M38.2 181.9h.6M33.5 171.1h.6M39.0 175.6h.6M38.1 175.8h.6M36.1 179.3h.6M43.0 178.8h.6M48.8 196.2h.6M54.9 184.9h.6M48.6 187.0h.6M51.7 196.0h.6M47.8 189.3h.6M52.7 184.1h.6M49.2 193.0h.6M58.7 180.8h.6M56.2 188.6h.6M59.6 193.1h.6M63.7 191.5h.6M49.7 185.9h.6M43.5 192.7h.6M55.1 194.0h.6M54.1 182.6h.6M49.6 188.8h.6M52.9 193.8h.6M60.4 191.4h.6M39.8 185.0h.6M39.3 186.2h.6M44.9 191.2h.6M50.7 195.5h.6M58.4 187.8h.6M57.6 190.1h.6M54.7 196.6h.6M45.2 189.7h.6M61.1 186.3h.6M53.3 190.7h.6M49.5 183.6h.6M47.9 185.2h.6M58.4 191.2h.6M56.2 184.2h.6M55.0 190.7h.6M58.2 186.5h.6M56.8 196.7h.6M62.7 185.4h.6M45.3 182.8h.6M57.7 192.9h.6M54.0 185.8h.6M59.4 197.9h.6M51.8 189.4h.6M59.1 192.5h.6M60.0 188.0h.6M54.0 188.3h.6M48.6 188.5h.6M50.3 192.5h.6M50.2 190.3h.6M47.2 184.0h.6M60.5 185.2h.6M62.8 194.6h.6M17.7 191.9h.6M26.9 193.0h.6M28.1 191.9h.6M35.2 192.8h.6M33.8 191.8h.6M25.6 195.4h.6M27.6 191.1h.6M28.2 194.9h.6M28.2 191.7h.6M32.1 194.7h.6M28.0 192.4h.6M27.2 197.8h.6M28.1 196.1h.6M28.3 193.7h.6M18.9 193.3h.6M29.3 192.4h.6M27.0 190.6h.6M21.7 193.3h.6M25.9 192.8h.6M28.1 192.1h.6M25.4 196.3h.6M23.6 192.1h.6M27.6 191.0h.6M24.3 194.5h.6M33.6 193.2h.6M45.0 194.5h.6M35.1 191.6h.6M34.4 196.0h.6M27.1 196.2h.6M25.0 191.0h.6M28.8 191.6h.6M32.2 191.1h.6M29.4 189.6h.6M28.9 194.9h.6M27.7 193.6h.6M34.4 191.1h.6M22.7 193.1h.6M30.4 192.5h.6M24.2 195.1h.6M23.3 192.5h.6M28.8 194.3h.6M26.8 191.6h.6M39.0 191.5h.6M33.0 192.7h.6M26.7 192.9h.6M27.8 193.5h.6M16.5 193.0h.6M29.4 191.3h.6M27.1 197.1h.6M38.1 194.1h.6M30.2 192.5h.6M35.9 192.2h.6M25.0 194.2h.6M24.2 191.6h.6M36.2 190.2h.6M28.7 193.2h.6M30.3 190.4h.6M27.9 192.4h.6M38.5 194.8h.6M25.3 194.5h.6M32.2 192.8h.6M27.8 192.5h.6M21.4 191.9h.6M33.6 195.5h.6M38.2 192.3h.6M32.1 188.8h.6M27.7 190.8h.6M33.1 190.1h.6M23.9 191.1h.6M31.0 194.5h.6M24.5 196.2h.6M29.8 191.5h.6M30.7 193.0h.6M33.1 193.6h.6M39.8 195.1h.6M25.9 194.4h.6M32.8 191.2h.6M25.3 191.6h.6M16.8 194.1h.6M28.0 195.2h.6M26.3 193.1h.6M32.6 194.7h.6M30.6 191.2h.6M39.9 194.5h.6M35.7 195.8h.6M36.0 193.7h.6M31.4 194.1h.6M21.6 194.4h.6M24.2 193.7h.6M24.0 194.3h.6M26.6 197.4h.6M30.0 193.9h.6M24.6 192.5h.6M28.7 192.5h.6M26.9 191.5h.6M32.8 192.3h.6M25.0 193.6h.6M25.0 192.7h.6M26.5 191.4h.6M27.9 191.6h.6M22.9 193.6h.6M27.6 190.4h.6M27.1 193.3h.6M31.1 193.7h.6M30.3 194.0h.6M26.6 191.6h.6M32.1 192.3h.6M29.1 194.1h.6M33.7 195.1h.6M25.6 192.4h.6M41.8 154.4h.6M37.7 162.4h.6M39.1 156.4h.6M42.3 162.1h.6M42.6 158.7h.6M39.9 158.7h.6M41.2 152.1h.6M38.9 162.8h.6M38.8 159.8h.6M40.8 162.0h.6M39.4 155.6h.6M46.2 157.2h.6M44.4 153.2h.6M40.8 159.2h.6M44.8 167.9h.6M42.7 156.1h.6M38.7 157.1h.6M39.4 161.0h.6M38.7 159.0h.6M43.9 165.6h.6M36.3 156.3h.6M39.7 165.0h.6M39.8 167.4h.6M41.3 165.6h.6M38.6 158.8h.6M42.8 162.2h.6M36.3 158.9h.6M40.9 162.5h.6M39.1 166.8h.6M40.9 165.6h.6M41.4 160.3h.6M39.8 155.5h.6M42.5 162.9h.6M42.6 158.5h.6M38.3 158.5h.6M39.8 160.0h.6M42.7 156.5h.6M39.4 162.7h.6M42.6 168.6h.6M41.7 156.7h.6M38.2 156.9h.6M40.7 161.0h.6M40.4 157.6h.6M40.1 159.7h.6M41.9 160.3h.6M38.7 155.5h.6M43.9 159.7h.6M40.1 159.9h.6M43.1 158.8h.6M40.9 159.1h.6M40.6 185.1h.6M39.0 195.0h.6M43.3 193.0h.6M39.4 197.6h.6M41.2 196.8h.6M32.8 184.7h.6M41.6 188.7h.6M36.1 185.4h.6M44.6 184.2h.6M38.5 183.3h.6M37.3 200.9h.6M48.8 187.6h.6M33.6 197.9h.6M34.3 181.4h.6M39.6 184.8h.6M31.7 195.5h.6M34.8 184.9h.6M38.8 189.1h.6M43.0 190.5h.6M45.1 195.5h.6M45.9 195.4h.6M38.4 192.6h.6M38.2 182.5h.6M32.9 193.6h.6M27.6 186.0h.6M32.4 189.7h.6M33.5 191.2h.6M37.2 187.7h.6M34.3 179.3h.6M38.4 183.8h.6M36.8 191.8h.6M42.7 193.4h.6M44.6 183.1h.6M41.0 197.6h.6M39.8 184.6h.6M39.8 187.5h.6M35.2 195.2h.6M37.3 184.6h.6M35.1 199.5h.6M34.3 193.3h.6M38.9 195.7h.6M36.8 185.4h.6M35.2 185.0h.6M49.5 191.0h.6M36.7 196.1h.6M41.0 189.1h.6M40.8 191.3h.6M43.0 198.0h.6M36.7 189.8h.6M37.3 195.9h.6M39.8 193.8h.6M42.0 186.9h.6M38.6 196.7h.6M42.1 193.9h.6M36.8 188.3h.6M34.3 188.7h.6M37.8 183.1h.6M43.2 186.3h.6M39.2 192.9h.6M35.6 181.3h.6M42.3 192.0h.6M37.0 195.5h.6M42.0 185.4h.6M37.7 181.5h.6M36.9 196.8h.6M34.4 194.0h.6M31.4 188.6h.6M42.2 198.3h.6M40.1 193.7h.6M45.6 178.2h.6M30.6 199.2h.6M48.9 192.9h.6M38.4 191.3h.6M38.2 187.0h.6M38.0 189.4h.6M41.0 193.3h.6M42.4 192.9h.6M33.8 196.7h.6M26.3 190.6h.6M39.5 187.5h.6M46.3 184.7h.6M32.9 187.6h.6M39.9 193.9h.6M38.6 193.2h.6M35.0 187.1h.6M38.6 183.5h.6M38.9 188.1h.6M41.1 185.1h.6M35.8 187.3h.6M36.5 185.2h.6M36.9 183.5h.6M40.4 193.3h.6M38.0 189.1h.6M34.2 185.4h.6M37.1 185.6h.6M32.9 190.8h.6M38.0 188.1h.6M34.5 189.8h.6M35.0 187.9h.6M38.9 193.5h.6M41.4 187.1h.6M43.4 184.4h.6M37.3 196.3h.6M48.4 190.6h.6M36.5 188.2h.6M32.8 189.3h.6M36.2 186.4h.6M43.3 186.3h.6M45.5 194.1h.6M40.9 187.2h.6M35.9 180.4h.6M39.3 188.7h.6M39.8 186.8h.6M40.2 182.8h.6M28.5 192.3h.6M42.8 174.8h.6M43.7 188.3h.6M37.4 182.6h.6M33.7 193.4h.6M34.9 189.8h.6M37.4 199.6h.6M42.0 183.6h.6M36.0 184.5h.6M32.0 186.7h.6M42.9 190.2h.6M41.0 189.4h.6M36.2 190.4h.6M37.7 199.3h.6M45.9 191.8h.6M40.7 180.4h.6M37.5 201.6h.6M34.6 193.9h.6M43.4 188.1h.6M37.1 187.8h.6M41.5 190.1h.6M44.6 195.7h.6M38.0 202.6h.6M36.7 187.1h.6M37.0 185.8h.6M36.2 189.7h.6M41.9 182.4h.6M32.0 186.3h.6M36.7 192.2h.6M34.6 197.3h.6M35.8 189.0h.6M38.3 195.7h.6M39.4 190.1h.6M35.7 190.8h.6M39.8 188.3h.6M38.0 181.1h.6M35.8 195.7h.6M44.2 189.7h.6M28.7 198.9h.6M37.3 202.4h.6M36.3 194.9h.6M35.4 196.7h.6M43.1 184.9h.6M43.7 203.9h.6M37.1 184.1h.6M39.3 188.1h.6M35.7 162.9h.6M40.7 161.1h.6M43.2 168.7h.6M39.5 172.4h.6M37.4 169.7h.6M36.1 165.7h.6M41.9 164.9h.6M39.7 169.5h.6M44.4 172.1h.6M41.4 166.0h.6M35.9 173.7h.6M45.5 158.6h.6M42.5 166.8h.6M42.1 168.2h.6M39.5 167.0h.6M39.9 171.5h.6M39.3 164.9h.6M41.9 169.5h.6M41.3 168.1h.6M44.3 171.3h.6M40.6 166.2h.6M41.9 159.7h.6M38.5 164.3h.6M40.5 165.5h.6M47.1 169.9h.6M41.2 175.7h.6M40.0 165.8h.6M43.6 170.2h.6M42.7 171.7h.6M39.0 164.4h.6M38.0 167.4h.6M42.9 162.9h.6M38.5 161.8h.6M45.8 170.1h.6M40.7 162.3h.6M37.1 164.5h.6M40.1 162.1h.6M39.4 171.7h.6M40.1 167.4h.6M34.0 165.9h.6M39.6 164.3h.6M36.0 166.7h.6M37.1 164.9h.6M35.4 166.6h.6M42.7 163.7h.6M41.0 161.1h.6M41.7 169.1h.6M38.9 170.4h.6M37.5 167.2h.6M44.9 166.9h.6M36.8 171.5h.6M41.6 165.9h.6M34.8 159.7h.6M35.6 172.8h.6M40.9 163.7h.6M43.3 172.7h.6M37.6 168.9h.6M35.3 168.5h.6M45.3 161.5h.6M40.2 164.5h.6M39.8 167.3h.6M40.8 170.5h.6M41.5 171.1h.6M43.0 171.3h.6M38.1 168.6h.6M39.0 163.7h.6M45.7 168.1h.6M40.2 158.8h.6M39.4 170.0h.6M39.4 164.9h.6M44.3 165.8h.6M39.1 166.6h.6M39.3 171.1h.6M41.7 166.7h.6M39.0 166.1h.6M44.9 165.8h.6M41.9 160.9h.6M41.0 169.7h.6M43.7 168.2h.6M41.7 168.3h.6" stroke="#222" stroke-width="0.6" opacity="0.32" fill="none"/>
</g>
<rect x="30.7" y="152" width="18.500000000000004" height="24.30000000000001" fill="none" stroke="#808080" stroke-width="0.65"/>
<rect x="44.9" y="178.6" width="20.000000000000007" height="20.80000000000001" fill="none" stroke="#808080" stroke-width="0.65"/>
<line x1="17.9" y1="142.0" x2="19.5" y2="142.0" stroke="#444" stroke-width="0.7"/>
<line x1="79.3" y1="202.3" x2="79.3" y2="204.10000000000002" stroke="#444" stroke-width="0.7"/>
<line x1="17.9" y1="156.8" x2="19.5" y2="156.8" stroke="#444" stroke-width="0.7"/>
<line x1="64.5" y1="202.3" x2="64.5" y2="204.10000000000002" stroke="#444" stroke-width="0.7"/>
<line x1="17.9" y1="171.6" x2="19.5" y2="171.6" stroke="#444" stroke-width="0.7"/>
<line x1="49.7" y1="202.3" x2="49.7" y2="204.10000000000002" stroke="#444" stroke-width="0.7"/>
<line x1="17.9" y1="186.4" x2="19.5" y2="186.4" stroke="#444" stroke-width="0.7"/>
<line x1="34.9" y1="202.3" x2="34.9" y2="204.10000000000002" stroke="#444" stroke-width="0.7"/>
<line x1="18.6" y1="188.6" x2="18.6" y2="201.3" stroke="#555" stroke-width="1.2" stroke-dasharray="0.6 1.7"/>
<line x1="20.5" y1="203.20000000000002" x2="32.7" y2="203.20000000000002" stroke="#555" stroke-width="1.2" stroke-dasharray="0.6 1.7"/>
<rect x="17.9" y="193.5" width="1.5" height="1.3" fill="#111"/>
<rect x="17.9" y="196.0" width="1.5" height="1.1" fill="#111"/>
<rect x="26.7" y="202.5" width="1.6" height="1.5" fill="#111"/>
<rect x="23.1" y="202.5" width="1.1" height="1.4" fill="#222"/>
<rect x="103.8" y="137.1" width="64.7" height="65.0" fill="#fff" stroke="#858585" stroke-width="0.7"/>
<clipPath id="c4"><rect x="104.3" y="137.6" width="63.7" height="64.0"/></clipPath>
<g clip-path="url(#c4)">
<ellipse cx="132" cy="188" rx="2.6" ry="12" fill="#000" opacity="0.35" filter="url(#bl)" transform="rotate(0 132 188)"/>
<polygon points="129.2,153.6 136,154.4 137.5,165 138.5,176 129.2,178" fill="url(#cg)" filter="url(#bs)"/>
<rect x="129.2" y="153.8" width="1.9" height="20.3" fill="#000" opacity="0.92" filter="url(#bs)"/>
<rect x="129.2" y="172" width="1.6" height="30" fill="#000" opacity="0.55" filter="url(#bs)"/>
<path d="M134.9 157.1h.6M132.4 159.4h.6M130.4 173.4h.6M131.0 161.3h.6M134.5 170.0h.6M133.0 164.7h.6M129.8 169.9h.6M130.2 155.5h.6M135.4 168.3h.6M129.6 157.6h.6M131.0 159.2h.6M136.1 167.9h.6M129.5 156.7h.6M130.3 163.1h.6M129.8 158.8h.6M135.0 167.5h.6M134.3 157.5h.6M130.7 167.7h.6M133.4 153.7h.6M135.8 160.9h.6M134.1 164.1h.6M136.0 166.8h.6M129.8 164.1h.6M133.4 154.2h.6M132.1 164.7h.6M131.0 161.6h.6M131.6 158.0h.6M134.8 171.7h.6M130.4 162.9h.6M130.8 164.1h.6M130.0 168.8h.6M132.8 156.9h.6M133.4 173.2h.6M132.6 160.6h.6M132.6 155.8h.6M130.9 171.7h.6M129.5 167.1h.6M134.0 168.9h.6M134.0 156.2h.6M129.4 165.7h.6M134.0 157.4h.6M132.3 168.4h.6M129.4 167.2h.6M133.5 169.2h.6M130.6 166.6h.6M130.1 169.4h.6M132.4 153.8h.6M132.4 155.0h.6M132.9 162.1h.6M135.6 155.1h.6M129.8 163.9h.6M131.0 171.8h.6M130.7 172.7h.6M131.4 156.5h.6M134.2 158.0h.6M132.1 172.7h.6M132.9 164.9h.6M130.4 167.0h.6M130.0 153.5h.6M129.7 156.2h.6M131.6 170.1h.6M131.3 164.3h.6M131.0 164.3h.6M129.6 167.4h.6M132.7 161.8h.6M131.5 161.1h.6M131.5 174.0h.6M130.0 155.0h.6M135.4 164.8h.6M130.8 155.8h.6M135.5 164.6h.6M137.0 168.0h.6M129.5 165.9h.6M133.2 164.3h.6M130.7 161.3h.6M129.9 162.1h.6M132.7 173.7h.6M131.8 168.9h.6M129.6 170.2h.6M132.8 168.1h.6M129.8 157.6h.6M129.7 157.4h.6M132.8 157.1h.6M134.0 153.9h.6M136.7 171.5h.6M134.1 173.0h.6M133.9 166.1h.6M136.5 162.7h.6M135.4 171.0h.6M130.7 166.8h.6M130.2 169.4h.6M130.5 164.2h.6M130.2 165.9h.6M131.4 165.1h.6M129.4 173.4h.6M136.0 173.2h.6M132.8 167.3h.6M130.7 163.1h.6M131.9 156.1h.6M130.6 157.1h.6M134.1 171.9h.6M134.9 165.0h.6M133.8 171.9h.6M132.7 162.7h.6M132.2 158.5h.6M130.5 170.5h.6M131.4 154.4h.6M131.8 162.1h.6M140.7 164.6h.6M130.6 160.8h.6M133.5 173.1h.6M130.5 165.1h.6M130.3 157.5h.6M133.3 169.1h.6M133.3 172.4h.6M133.2 164.8h.6M130.6 156.2h.6M129.6 157.2h.6M130.7 173.6h.6M130.6 162.4h.6M131.3 154.7h.6M130.9 158.0h.6M129.8 166.6h.6M129.6 168.2h.6M133.1 165.4h.6M129.6 153.7h.6M132.5 160.7h.6M129.8 173.9h.6M133.0 160.5h.6M134.7 169.8h.6M136.2 163.6h.6M129.3 155.9h.6M133.5 158.1h.6M129.6 162.8h.6M132.6 173.1h.6M130.8 163.7h.6M129.4 155.7h.6M133.7 156.9h.6M131.6 171.5h.6M129.9 163.3h.6M131.1 173.9h.6M131.5 169.7h.6M129.9 160.4h.6M129.6 158.4h.6M130.3 159.9h.6M130.7 167.3h.6M135.7 171.7h.6M130.3 154.5h.6M129.7 163.4h.6M131.1 158.5h.6M131.0 168.6h.6M130.2 159.4h.6M134.7 154.9h.6M132.0 163.2h.6M131.7 173.2h.6M129.6 158.7h.6M132.7 157.4h.6M132.8 164.1h.6M132.4 169.4h.6M129.9 167.2h.6M133.3 173.0h.6M130.6 156.4h.6M135.6 168.8h.6M132.2 167.2h.6M133.6 173.2h.6M131.6 173.5h.6M130.2 170.0h.6M130.7 172.4h.6M136.7 154.8h.6M133.2 167.1h.6M134.0 173.0h.6M133.0 165.7h.6M134.5 158.1h.6M132.1 162.8h.6M131.9 156.1h.6M130.3 158.9h.6M133.7 171.5h.6M133.3 170.2h.6M133.0 162.5h.6M130.5 160.8h.6M131.6 169.5h.6M131.3 168.1h.6M134.8 157.9h.6M129.6 169.4h.6M135.0 160.3h.6M129.5 160.1h.6M130.4 169.1h.6M130.9 172.2h.6M129.8 162.4h.6M132.8 164.3h.6M129.6 164.3h.6M130.5 166.4h.6M130.5 168.2h.6M132.7 171.1h.6M129.8 153.9h.6M129.8 164.9h.6M129.9 164.2h.6M133.7 153.6h.6M136.6 154.2h.6M131.1 154.9h.6M133.8 166.9h.6M129.5 170.7h.6M134.4 166.6h.6M131.3 172.3h.6M130.7 155.9h.6M132.1 172.4h.6M135.2 169.7h.6M130.6 161.5h.6M129.6 164.2h.6M130.5 164.6h.6M130.0 165.1h.6M132.5 165.9h.6M133.3 168.6h.6M133.0 172.0h.6M133.4 161.1h.6M130.0 170.7h.6M130.1 159.0h.6M132.8 166.9h.6M133.5 156.7h.6M129.9 168.5h.6M132.8 162.0h.6M129.9 165.2h.6M134.1 155.4h.6M129.9 162.9h.6M129.4 154.1h.6M132.6 166.8h.6M132.1 157.1h.6M129.6 165.1h.6M135.3 167.6h.6M130.0 166.3h.6M131.6 155.2h.6M132.7 169.1h.6M133.5 172.7h.6M134.9 158.2h.6M136.0 166.8h.6M129.5 162.6h.6M132.8 162.8h.6M129.4 158.2h.6M130.1 167.7h.6M130.2 159.0h.6M129.9 172.6h.6M132.2 165.4h.6M139.0 161.1h.6M132.6 156.1h.6M131.2 158.1h.6M132.7 159.3h.6M130.3 167.3h.6M130.2 154.0h.6M130.0 155.8h.6M131.1 162.4h.6M130.6 161.0h.6M138.6 173.5h.6M130.5 162.1h.6M130.8 166.0h.6M130.8 171.6h.6M130.6 156.9h.6M131.3 172.0h.6M135.1 154.9h.6M135.1 166.2h.6M130.1 169.8h.6M135.1 160.1h.6M129.4 174.0h.6M131.4 166.2h.6M131.7 170.1h.6M131.0 173.4h.6M131.2 173.9h.6M132.2 162.3h.6M130.4 168.4h.6M136.2 173.6h.6M130.7 161.7h.6M132.4 162.2h.6M138.4 169.0h.6M133.1 167.9h.6M136.4 173.0h.6M129.6 164.4h.6M129.6 164.3h.6M140.7 160.8h.6M129.3 159.8h.6M132.7 172.6h.6M129.6 169.6h.6M131.2 167.3h.6M133.0 155.4h.6M129.6 170.5h.6M133.4 165.0h.6M133.4 170.0h.6M129.4 163.4h.6M129.6 168.6h.6M132.5 169.4h.6M130.9 161.2h.6M132.4 171.9h.6M129.9 172.8h.6M132.8 160.7h.6M130.0 162.4h.6M129.9 164.7h.6M136.3 172.5h.6M132.3 165.2h.6M130.3 174.0h.6M135.0 168.9h.6M134.5 162.1h.6M134.1 171.5h.6M130.2 168.3h.6M133.4 164.0h.6M133.3 161.0h.6M129.6 173.6h.6M137.1 166.4h.6M130.5 157.1h.6M132.9 169.3h.6M132.6 165.0h.6M131.0 168.7h.6M134.4 161.1h.6M134.5 169.5h.6M129.5 173.9h.6M136.9 159.2h.6M129.5 164.3h.6M133.0 166.7h.6M135.9 161.4h.6M133.8 173.7h.6M133.0 170.6h.6M132.3 160.9h.6M131.0 160.5h.6M130.0 161.9h.6M130.3 173.8h.6M134.1 169.7h.6M131.2 159.6h.6M131.8 169.2h.6M131.8 163.7h.6M129.3 158.0h.6M136.3 166.7h.6M130.8 162.7h.6M131.1 153.6h.6M131.3 160.8h.6M130.3 164.6h.6M129.8 160.2h.6M135.2 160.9h.6M129.3 168.7h.6M132.8 154.1h.6M133.8 170.8h.6M130.8 167.6h.6M129.7 164.7h.6M129.6 173.4h.6M135.9 166.1h.6M133.6 171.9h.6M134.3 165.7h.6M129.6 161.9h.6M130.2 165.3h.6M131.0 170.8h.6M129.3 159.9h.6M130.3 155.7h.6M137.7 159.0h.6M130.8 157.0h.6M132.9 159.4h.6M133.0 160.8h.6M129.9 167.2h.6M130.2 165.4h.6M130.1 168.3h.6M130.1 167.2h.6M134.2 154.8h.6M131.8 156.8h.6M130.7 161.9h.6M129.8 160.7h.6M134.4 171.5h.6M132.5 166.6h.6M134.5 165.5h.6M129.7 163.7h.6M130.9 161.7h.6M131.9 161.8h.6M132.5 167.4h.6M130.0 162.4h.6M130.1 161.7h.6M132.6 169.7h.6M132.2 157.4h.6M129.7 165.4h.6M132.4 169.4h.6M132.1 157.3h.6M130.4 166.8h.6M131.6 158.2h.6M132.9 159.7h.6M136.0 171.4h.6M132.4 169.7h.6M131.8 157.6h.6M130.8 162.9h.6M129.8 161.6h.6M131.0 157.5h.6M131.8 163.5h.6M130.9 154.6h.6M133.3 169.9h.6M129.4 168.3h.6M132.1 158.6h.6M137.4 165.8h.6M131.9 168.3h.6M130.2 163.6h.6M130.4 164.9h.6M130.5 169.3h.6M130.4 167.6h.6M130.3 163.1h.6M132.9 173.6h.6M131.2 171.4h.6M133.3 165.5h.6M131.6 162.7h.6M134.4 170.3h.6M133.8 158.7h.6M129.4 165.5h.6M130.8 153.8h.6M132.9 156.8h.6M134.8 171.0h.6M131.4 168.7h.6M130.3 166.3h.6M129.9 160.3h.6M131.0 156.9h.6M131.2 154.1h.6M131.4 156.3h.6M133.3 162.8h.6M133.7 163.0h.6M129.6 158.7h.6M131.2 155.4h.6M130.0 161.7h.6M131.4 156.9h.6M129.8 168.6h.6M129.9 171.5h.6M130.5 173.3h.6M132.9 155.2h.6M134.2 163.4h.6M132.8 171.8h.6M133.9 172.1h.6M131.5 171.9h.6M132.4 164.0h.6M131.3 170.9h.6M131.2 154.1h.6M134.6 157.7h.6M135.7 159.8h.6M134.7 160.7h.6M130.2 162.4h.6M131.3 155.7h.6M131.5 172.9h.6M132.1 162.1h.6M129.8 154.5h.6M134.9 171.9h.6M132.2 165.7h.6M131.2 159.3h.6M132.6 173.7h.6M137.1 164.9h.6M132.2 161.2h.6M130.0 167.7h.6M134.5 154.0h.6M129.5 167.6h.6M131.7 155.5h.6M130.9 154.9h.6M129.8 170.9h.6M135.2 162.0h.6M129.5 162.3h.6M133.7 157.2h.6M131.5 171.2h.6M129.7 171.8h.6M130.0 167.1h.6M133.2 167.6h.6M134.5 170.1h.6M130.1 166.3h.6M131.0 172.9h.6M131.1 167.2h.6M130.5 166.6h.6M132.0 159.8h.6M130.4 163.5h.6M132.1 163.8h.6M130.4 171.8h.6M137.2 168.3h.6M133.0 171.6h.6M130.3 168.9h.6M129.6 158.0h.6M133.1 166.8h.6M132.8 160.6h.6M132.3 161.4h.6M135.5 168.8h.6M139.5 162.7h.6M131.7 172.5h.6M136.1 166.0h.6M133.0 154.4h.6M130.6 155.9h.6M131.3 168.9h.6M133.3 167.6h.6M136.1 174.0h.6M135.7 167.0h.6M130.0 163.2h.6M134.4 170.4h.6M131.4 155.2h.6M130.3 161.1h.6M132.6 156.9h.6M131.9 162.9h.6M132.5 155.5h.6M131.2 168.4h.6M137.5 155.7h.6M130.8 166.4h.6M131.2 166.4h.6M131.0 164.8h.6M130.8 163.3h.6M131.3 170.6h.6M131.1 160.3h.6M133.2 171.5h.6M130.6 164.0h.6M131.0 162.3h.6M129.3 170.8h.6M130.3 162.8h.6M133.1 154.6h.6M132.2 155.2h.6M134.6 157.5h.6M132.1 160.0h.6M130.8 164.2h.6M136.3 168.9h.6M129.6 174.0h.6M131.2 165.1h.6M129.8 167.3h.6M130.3 156.2h.6M130.0 154.6h.6M133.1 173.9h.6M131.8 165.7h.6M131.1 155.9h.6M132.3 168.6h.6M130.1 169.5h.6M131.4 163.0h.6M130.8 172.3h.6M132.3 166.1h.6M134.7 173.9h.6M130.2 163.0h.6M130.2 164.3h.6M130.7 165.8h.6M129.5 160.0h.6M135.0 162.0h.6M129.8 156.6h.6M134.9 165.1h.6M131.9 168.8h.6M130.1 167.6h.6M130.1 170.0h.6M137.0 159.9h.6M137.7 173.1h.6M134.1 171.6h.6M132.0 169.5h.6M132.2 165.5h.6M136.0 170.0h.6M133.2 157.9h.6M130.6 164.2h.6M131.0 159.5h.6M133.8 154.5h.6M131.4 161.6h.6M134.5 169.9h.6M130.8 155.2h.6M131.4 160.3h.6M129.6 170.9h.6M132.2 156.3h.6M131.3 167.3h.6M133.8 171.4h.6M137.5 173.3h.6M135.4 161.7h.6M129.8 159.2h.6M136.2 160.2h.6M130.3 155.5h.6M131.6 171.8h.6M133.5 161.8h.6M134.0 161.3h.6M132.5 162.6h.6M130.4 168.1h.6M130.4 153.9h.6M131.6 172.8h.6M135.5 161.8h.6M133.1 158.1h.6M129.6 165.8h.6M132.3 154.6h.6M129.5 171.6h.6M129.4 168.9h.6M133.0 162.0h.6M130.0 168.0h.6M132.6 163.8h.6M134.7 158.4h.6M131.9 163.8h.6M132.0 154.6h.6M133.1 158.2h.6M132.5 161.4h.6M130.6 157.2h.6M136.5 171.4h.6M132.4 155.4h.6M132.8 164.9h.6M130.3 166.3h.6M129.8 171.6h.6M130.4 157.6h.6M134.2 171.5h.6M132.8 161.5h.6M131.0 160.1h.6M133.6 172.2h.6M132.4 156.8h.6M133.9 172.1h.6M129.7 163.1h.6M131.0 166.6h.6M130.4 160.2h.6M132.1 157.3h.6M130.2 159.0h.6M134.9 172.2h.6M135.3 162.0h.6M131.9 158.8h.6M133.2 168.2h.6M129.6 154.1h.6M129.3 158.2h.6M133.3 171.6h.6M139.3 170.0h.6M131.5 153.6h.6M130.5 161.7h.6M129.6 171.4h.6M131.8 156.6h.6M130.7 161.3h.6M129.8 163.0h.6M131.4 167.2h.6M137.8 166.3h.6M134.0 155.7h.6M130.0 158.1h.6M132.7 163.6h.6M133.1 172.0h.6M132.1 166.3h.6M131.7 158.8h.6M132.4 171.7h.6M130.7 169.4h.6M129.5 160.8h.6M132.6 170.2h.6M130.7 166.6h.6M132.6 154.3h.6M133.7 155.8h.6M131.0 162.1h.6M131.5 164.4h.6M132.7 160.6h.6M130.5 160.6h.6M133.9 172.5h.6M141.6 160.4h.6M134.1 163.1h.6M134.7 161.0h.6M131.3 167.4h.6M133.3 159.0h.6M135.2 172.2h.6M135.9 165.1h.6M137.2 160.5h.6M131.9 167.7h.6M133.9 170.4h.6M131.3 156.4h.6M132.6 170.6h.6M133.3 159.7h.6M132.4 169.1h.6M129.8 173.8h.6M132.3 169.3h.6M135.5 167.8h.6M136.8 161.4h.6M131.5 167.3h.6M130.4 162.4h.6M129.3 171.7h.6M132.6 170.5h.6M131.6 170.0h.6M132.7 170.7h.6M131.8 189.5h.6M138.6 181.3h.6M136.7 183.1h.6M139.9 173.7h.6M130.2 185.0h.6M131.9 184.1h.6M129.8 170.0h.6M134.0 198.7h.6M130.7 185.1h.6M130.7 188.3h.6M137.2 190.5h.6M133.2 201.5h.6M131.9 173.3h.6M129.6 179.3h.6M130.7 195.8h.6M129.6 178.8h.6M139.6 195.5h.6M138.7 170.8h.6M135.0 190.2h.6M138.6 189.3h.6M134.0 187.1h.6M135.6 181.3h.6M129.5 176.0h.6M133.4 191.5h.6M136.3 170.3h.6M129.6 183.0h.6M132.3 186.2h.6M134.2 191.9h.6M130.4 170.5h.6M133.1 192.5h.6M135.9 186.8h.6M140.8 193.1h.6M139.1 193.9h.6M132.9 197.9h.6M137.5 182.1h.6M131.1 192.4h.6M134.7 200.3h.6M138.0 184.0h.6M131.1 174.8h.6M135.1 198.7h.6M139.5 174.6h.6M132.8 174.0h.6M131.5 184.1h.6M130.8 176.4h.6M138.3 192.0h.6M136.4 174.3h.6M131.5 172.6h.6M141.7 192.9h.6M133.1 196.2h.6M132.4 191.0h.6M135.2 179.3h.6M131.7 172.0h.6M137.2 190.2h.6M141.4 186.4h.6M132.8 182.0h.6M138.3 174.5h.6M132.2 198.7h.6M132.3 201.5h.6M130.6 185.8h.6M136.8 185.7h.6M135.7 178.0h.6M130.4 201.0h.6M133.7 196.6h.6M130.0 177.5h.6M133.7 183.1h.6M129.5 185.0h.6M139.7 200.1h.6M130.0 199.6h.6M130.4 184.1h.6M142.9 193.7h.6M133.5 201.6h.6M129.7 191.8h.6M135.0 172.1h.6M129.3 182.6h.6M134.2 175.9h.6M135.7 187.2h.6M134.2 173.5h.6M130.6 183.8h.6M139.4 183.4h.6M132.7 184.2h.6M132.6 184.4h.6M131.7 201.4h.6M135.8 190.7h.6M133.3 180.7h.6M133.5 196.6h.6M130.4 187.8h.6M136.5 192.3h.6M132.5 182.5h.6M133.6 180.4h.6M130.1 170.5h.6M136.1 185.4h.6M132.0 192.5h.6M130.5 192.9h.6M133.8 171.3h.6M134.2 200.9h.6M133.6 197.5h.6M132.1 183.9h.6M138.0 194.6h.6M131.4 201.7h.6M138.5 194.0h.6M130.1 185.8h.6M140.8 188.6h.6M135.6 201.6h.6M131.7 188.2h.6M130.2 188.1h.6M129.8 199.7h.6M139.0 178.1h.6M130.8 192.8h.6M136.7 194.8h.6M133.0 171.0h.6M135.1 177.8h.6M138.0 179.8h.6M132.4 175.7h.6M130.2 172.2h.6M137.2 182.9h.6M130.1 194.4h.6M134.6 188.9h.6M135.5 174.7h.6M134.4 177.6h.6M138.9 191.3h.6M140.8 187.5h.6M131.2 199.5h.6M132.7 193.4h.6M135.5 189.7h.6M135.3 194.3h.6M132.2 191.8h.6M143.5 199.1h.6M145.2 183.9h.6M137.2 181.0h.6M129.5 176.1h.6M135.8 174.6h.6M129.4 177.6h.6M130.4 189.6h.6M130.4 183.1h.6M133.5 185.3h.6M140.4 176.8h.6M130.4 181.7h.6M134.2 179.4h.6M131.5 187.3h.6M139.0 174.5h.6M135.3 196.4h.6M132.8 196.2h.6M131.4 171.7h.6M133.4 174.2h.6M135.0 181.8h.6M130.7 192.8h.6M136.8 183.4h.6M129.9 174.5h.6M132.8 195.6h.6M135.0 194.4h.6M131.7 176.6h.6M131.1 174.5h.6M134.4 188.0h.6M129.6 181.8h.6M132.6 194.4h.6M135.8 183.9h.6M138.6 174.9h.6M133.3 177.3h.6M135.3 194.9h.6M137.1 171.0h.6M133.3 196.6h.6M131.6 183.5h.6M130.3 178.4h.6M131.9 197.9h.6M141.0 196.7h.6M133.0 199.5h.6M133.8 196.7h.6M129.3 180.0h.6M130.4 187.1h.6M130.3 187.6h.6M133.5 190.3h.6M131.8 175.5h.6M140.4 183.4h.6M133.5 174.2h.6M131.3 173.4h.6M133.5 192.7h.6M130.9 177.9h.6M133.8 193.2h.6M131.9 188.7h.6M136.5 177.1h.6M130.9 179.8h.6M130.9 189.4h.6M129.7 173.8h.6M133.5 183.3h.6M134.9 189.0h.6M135.1 190.0h.6M134.4 194.7h.6M138.3 173.7h.6M138.5 188.9h.6M135.0 196.5h.6M131.1 175.1h.6M131.6 185.4h.6M139.0 198.6h.6M134.4 186.6h.6M131.1 170.6h.6M138.6 183.6h.6M131.7 177.5h.6M129.9 170.8h.6M132.9 197.3h.6M133.8 188.1h.6M134.4 194.7h.6M131.1 177.2h.6M129.8 174.8h.6M132.7 189.0h.6M136.1 199.5h.6M136.0 176.4h.6M131.3 181.2h.6M138.5 182.7h.6M136.4 179.1h.6M133.5 192.1h.6M131.2 199.2h.6M130.4 178.2h.6M132.8 192.4h.6M131.2 192.2h.6M131.4 189.1h.6M137.1 180.8h.6M131.9 170.0h.6M134.0 171.5h.6M139.5 172.8h.6M138.8 177.1h.6M134.0 179.9h.6M139.5 200.6h.6M135.9 171.8h.6M138.1 189.3h.6M130.9 199.2h.6M140.9 181.2h.6M132.7 178.8h.6M132.7 194.7h.6M131.2 182.5h.6M140.5 194.7h.6M134.9 183.9h.6M131.5 184.3h.6M133.2 198.0h.6M137.3 178.4h.6M135.4 188.2h.6M132.1 179.7h.6M129.3 196.5h.6M133.7 200.7h.6M130.4 200.0h.6M137.6 184.1h.6M138.3 196.2h.6M129.9 191.7h.6M131.9 175.9h.6M131.9 178.4h.6M136.1 180.1h.6M133.1 176.9h.6M133.0 170.1h.6M130.6 170.3h.6M129.7 187.8h.6M136.9 170.8h.6M130.8 187.3h.6M137.2 176.9h.6M142.0 196.0h.6M134.6 199.8h.6M130.3 187.4h.6M130.1 183.2h.6M132.6 177.2h.6M145.8 184.4h.6M134.0 180.7h.6M138.0 170.1h.6M136.7 173.1h.6M138.0 186.6h.6M135.6 180.5h.6M143.6 189.4h.6M133.7 188.1h.6M134.6 180.8h.6M136.6 191.8h.6M136.0 191.6h.6M135.2 181.3h.6M135.1 177.4h.6M133.5 175.4h.6M130.9 179.0h.6M134.5 183.3h.6M136.3 201.2h.6M130.5 182.8h.6M132.0 187.5h.6M135.6 186.4h.6M130.8 181.2h.6M132.9 172.9h.6M134.9 179.1h.6M130.8 188.3h.6M129.5 173.7h.6M135.4 190.0h.6M131.6 183.8h.6M137.4 173.9h.6M130.2 187.6h.6M138.5 181.9h.6M145.3 177.2h.6M132.7 173.8h.6M130.9 178.0h.6M130.1 183.1h.6M133.4 183.9h.6M138.2 201.2h.6M132.7 180.2h.6M131.3 170.2h.6M137.9 178.6h.6M137.4 173.2h.6M135.0 178.6h.6M134.1 182.8h.6M133.0 172.3h.6M130.7 189.7h.6M139.6 171.9h.6M129.5 170.1h.6M135.9 179.2h.6M133.3 193.5h.6M134.0 191.7h.6M131.3 190.0h.6M135.5 184.7h.6M132.3 188.7h.6M135.8 191.3h.6M130.0 191.2h.6M134.1 189.2h.6M129.3 185.8h.6M132.1 201.2h.6M135.8 179.7h.6M134.4 175.7h.6M132.3 183.8h.6M136.6 178.2h.6M130.2 173.3h.6M130.2 191.1h.6M132.9 178.0h.6M137.6 171.2h.6M130.8 183.2h.6M130.6 188.8h.6M130.3 171.7h.6M137.1 186.2h.6M133.3 184.3h.6M134.8 178.3h.6M135.2 194.5h.6M133.2 182.6h.6M131.6 192.6h.6M138.8 194.7h.6M136.2 182.5h.6M132.6 170.8h.6M140.6 192.6h.6M130.6 172.8h.6M134.8 185.4h.6M135.4 170.8h.6M132.6 178.4h.6M141.0 171.0h.6M134.9 193.0h.6M135.1 197.5h.6M135.2 171.8h.6M134.4 180.0h.6M132.2 176.9h.6M134.8 172.2h.6M135.5 179.6h.6M131.5 185.0h.6M131.5 190.1h.6M137.6 177.5h.6M135.0 200.3h.6M134.2 182.3h.6M129.5 181.2h.6M146.9 200.5h.6M132.7 199.1h.6M135.8 185.7h.6M139.6 183.8h.6M130.6 199.4h.6M133.7 181.5h.6M131.5 192.1h.6M133.0 176.2h.6M145.6 173.4h.6M139.9 196.3h.6M129.5 186.1h.6M137.8 184.1h.6M132.2 186.7h.6M132.3 181.0h.6M131.5 181.4h.6M132.8 177.6h.6M131.9 198.0h.6M142.0 194.9h.6M139.9 176.2h.6M130.1 195.8h.6M136.7 177.3h.6M130.1 170.4h.6M129.7 177.8h.6M137.6 184.3h.6M134.4 188.3h.6M130.2 172.7h.6M130.1 193.7h.6M135.2 194.6h.6M133.0 196.5h.6M138.8 200.9h.6M135.0 171.3h.6M131.5 194.9h.6M135.4 193.6h.6M133.6 172.9h.6M132.2 193.4h.6M133.9 178.7h.6M132.3 195.9h.6M132.9 193.7h.6M131.7 175.9h.6M136.5 194.5h.6M137.9 189.7h.6M130.1 184.8h.6M133.5 188.9h.6M131.2 179.8h.6M135.3 195.6h.6M142.5 192.0h.6M136.2 186.2h.6M134.7 190.8h.6M129.4 200.2h.6M134.8 178.9h.6M130.4 171.4h.6M135.1 182.6h.6M141.3 171.7h.6M129.7 178.9h.6M129.8 193.8h.6M137.5 189.1h.6M132.7 178.0h.6M135.9 200.9h.6M136.7 186.5h.6M138.9 190.0h.6M131.2 180.9h.6M131.9 176.0h.6M139.1 198.3h.6M131.6 176.9h.6M130.1 185.1h.6M139.3 189.1h.6M132.2 182.6h.6M131.9 176.7h.6M130.3 192.1h.6M131.7 182.3h.6M134.8 184.5h.6M129.7 182.9h.6M130.4 201.1h.6M135.4 182.7h.6M132.9 177.2h.6M134.5 190.5h.6M132.7 173.4h.6M129.8 189.3h.6M134.2 181.0h.6M137.7 182.9h.6M132.7 182.2h.6M131.1 189.9h.6M139.2 195.8h.6M141.0 199.3h.6M137.4 181.7h.6M131.3 180.5h.6M130.4 181.7h.6M135.6 184.0h.6M134.0 188.0h.6M133.5 179.4h.6M137.9 175.4h.6M130.6 186.8h.6M132.1 186.0h.6M134.4 201.4h.6M136.6 176.9h.6M129.7 192.3h.6M133.4 182.2h.6M132.3 177.8h.6M132.3 195.3h.6M132.7 188.1h.6M135.5 184.7h.6M136.0 187.0h.6M139.5 201.7h.6M135.8 178.4h.6M130.3 173.5h.6M131.8 192.0h.6M129.8 175.6h.6M131.1 172.8h.6M135.4 197.8h.6M129.9 201.1h.6M130.6 195.1h.6M138.0 182.3h.6M130.8 184.8h.6M133.0 179.7h.6M133.6 178.7h.6M139.9 182.1h.6M132.5 187.9h.6M137.1 175.0h.6M139.0 200.5h.6M133.8 180.5h.6M130.2 196.6h.6M130.4 182.1h.6M142.4 192.3h.6M133.0 195.3h.6M134.4 196.8h.6M129.9 199.1h.6M130.0 170.1h.6M131.6 186.0h.6M136.5 184.1h.6M132.8 195.2h.6M129.6 177.2h.6M138.9 186.9h.6M134.0 170.6h.6M141.9 178.8h.6M140.4 179.3h.6M132.8 195.9h.6M130.0 182.3h.6M130.4 172.1h.6M131.4 181.9h.6M131.6 171.4h.6M130.0 197.3h.6M131.0 172.7h.6M130.9 172.5h.6M136.5 191.0h.6M134.3 179.1h.6M129.8 188.6h.6M129.4 173.5h.6M129.4 199.5h.6M132.7 176.7h.6M130.5 184.2h.6M135.5 178.5h.6M136.8 197.0h.6M136.1 201.2h.6M131.3 181.2h.6M144.3 179.2h.6M130.1 171.8h.6M132.6 193.9h.6M136.1 178.5h.6M134.1 193.0h.6M129.4 184.3h.6M139.3 170.1h.6M136.4 172.6h.6M130.0 182.7h.6M130.6 199.8h.6M135.1 176.6h.6M130.7 188.8h.6M134.9 189.3h.6M132.8 194.0h.6M130.1 195.3h.6M137.7 174.1h.6M130.9 183.1h.6M129.4 194.5h.6M133.4 173.3h.6M131.0 175.2h.6M135.9 200.5h.6M135.5 189.4h.6M130.7 188.1h.6M130.8 182.1h.6M133.9 177.0h.6M132.5 199.5h.6M130.8 177.5h.6M141.7 193.1h.6M135.7 183.7h.6M135.8 174.8h.6M130.8 193.1h.6M139.3 172.4h.6M130.1 199.3h.6M130.3 175.1h.6M131.3 199.3h.6M133.5 195.6h.6M129.5 188.6h.6M137.8 183.3h.6M134.6 174.5h.6M136.5 177.8h.6M131.5 183.7h.6M134.2 178.2h.6M131.7 186.8h.6M130.1 178.1h.6M146.8 185.5h.6M131.0 170.3h.6M131.8 190.5h.6M132.2 174.3h.6M143.8 186.0h.6M129.9 181.8h.6M130.1 198.7h.6M131.3 198.8h.6M132.3 178.8h.6M129.7 198.8h.6M132.8 186.4h.6M129.6 185.6h.6M144.0 194.3h.6M134.7 187.1h.6M135.4 198.9h.6M136.1 189.2h.6M132.5 198.3h.6M134.7 196.0h.6M136.8 178.2h.6M137.1 190.8h.6M138.8 185.7h.6M130.2 183.3h.6M131.6 177.6h.6M131.3 196.9h.6M137.5 195.5h.6M131.1 175.2h.6M129.5 183.5h.6M129.3 181.0h.6M131.4 174.8h.6M133.2 189.8h.6M133.3 172.2h.6M133.7 175.5h.6M134.4 173.2h.6M130.1 186.0h.6M133.4 173.5h.6M134.5 172.7h.6M133.3 186.0h.6M135.6 174.1h.6M132.0 190.2h.6M130.8 170.3h.6M131.3 187.0h.6M133.4 173.9h.6M134.4 198.6h.6M135.9 195.8h.6M133.7 184.4h.6M131.8 196.2h.6M137.0 191.9h.6M133.4 174.5h.6M131.9 185.4h.6M135.2 191.0h.6M130.2 193.5h.6M131.0 184.4h.6M136.7 199.3h.6M131.8 194.5h.6M142.5 190.4h.6M133.7 193.6h.6M132.1 195.8h.6M132.7 192.7h.6M135.6 188.6h.6M136.7 180.6h.6M130.8 175.5h.6M131.6 185.8h.6M135.9 178.8h.6M134.0 190.3h.6M140.3 189.8h.6M133.7 192.6h.6M135.4 199.0h.6M134.5 198.4h.6M130.4 193.9h.6M130.5 170.8h.6M132.5 192.9h.6M133.8 176.7h.6M134.4 184.1h.6M137.2 174.2h.6M131.7 176.5h.6M138.2 178.0h.6M132.4 198.4h.6M131.2 183.3h.6M130.2 174.5h.6M130.1 183.3h.6M133.2 182.1h.6M130.2 201.7h.6M139.3 197.5h.6M134.7 199.1h.6M130.4 197.4h.6M136.5 186.4h.6M141.4 192.9h.6M138.3 175.8h.6M129.5 198.8h.6M135.4 197.1h.6M135.0 179.2h.6M133.9 201.0h.6M134.0 177.8h.6M136.0 199.4h.6M135.4 179.6h.6M139.3 198.3h.6M133.5 192.3h.6M136.0 187.7h.6M144.6 176.2h.6M131.1 200.3h.6M130.7 171.3h.6M133.2 196.9h.6M129.7 175.8h.6M133.0 180.9h.6M134.5 201.1h.6M134.5 178.8h.6M137.0 194.2h.6M132.7 178.2h.6M133.3 200.6h.6M136.6 170.9h.6M137.6 200.1h.6M138.5 193.8h.6M129.5 171.9h.6M134.8 176.4h.6M132.0 198.5h.6M133.7 172.3h.6M133.2 190.8h.6M130.8 171.5h.6M129.4 175.5h.6M133.7 201.6h.6M132.1 178.9h.6M138.0 190.6h.6M136.0 189.4h.6M137.4 199.5h.6M130.2 187.0h.6M131.5 178.2h.6M131.2 201.1h.6M133.4 186.8h.6M131.7 171.1h.6M138.7 179.8h.6M137.5 171.0h.6M135.3 194.4h.6M137.0 176.7h.6M131.6 171.0h.6M130.4 201.4h.6M132.7 198.5h.6M130.2 189.1h.6M130.3 176.8h.6M133.0 195.4h.6M129.6 172.2h.6M135.7 188.6h.6M136.8 184.5h.6M142.1 195.0h.6M137.0 176.1h.6M130.7 181.7h.6M134.1 200.0h.6M132.3 180.8h.6M132.4 193.1h.6M137.2 179.1h.6M133.5 196.5h.6M131.1 174.5h.6M132.7 194.6h.6M131.4 191.6h.6M139.3 177.5h.6M134.5 185.9h.6M129.5 189.2h.6M130.4 178.3h.6M133.0 184.1h.6M130.8 191.9h.6M137.4 182.8h.6M135.7 171.6h.6M134.3 196.3h.6M134.7 191.8h.6M135.6 194.9h.6M135.0 196.8h.6M133.2 175.2h.6M131.6 177.6h.6M130.7 182.5h.6M139.0 179.4h.6M133.3 178.6h.6M131.1 198.6h.6M132.5 188.9h.6M132.9 176.3h.6M130.9 176.5h.6M139.3 170.2h.6M130.9 197.7h.6M130.4 197.6h.6M129.8 197.4h.6M134.2 182.0h.6M136.5 187.0h.6M130.9 180.5h.6M131.5 192.8h.6M133.2 199.0h.6M130.3 186.8h.6M135.9 178.5h.6M129.7 178.4h.6M138.2 173.7h.6M134.3 174.4h.6M132.0 187.2h.6M136.1 181.1h.6M133.0 199.7h.6M148.0 179.6h.6M139.5 185.5h.6M132.6 189.8h.6M141.0 187.6h.6M130.4 181.3h.6M131.2 174.2h.6M133.0 173.1h.6M138.7 201.3h.6M132.7 184.5h.6M131.1 186.7h.6M140.9 183.5h.6M129.8 183.0h.6M140.6 201.9h.6M138.6 185.4h.6M134.1 183.6h.6M134.0 176.5h.6M130.0 178.2h.6M133.9 194.7h.6M135.7 179.7h.6M131.2 173.7h.6M138.8 192.6h.6M132.3 189.5h.6M135.2 196.7h.6M136.0 195.1h.6M133.6 175.5h.6M129.9 171.8h.6M130.2 178.1h.6M132.0 182.8h.6M137.5 197.7h.6M129.9 199.8h.6M133.5 173.9h.6M140.7 180.6h.6M137.9 188.4h.6M140.9 185.7h.6M133.7 177.8h.6M130.5 194.6h.6M133.6 174.4h.6M130.9 187.1h.6M136.4 192.9h.6M133.9 177.2h.6M134.3 182.8h.6M131.6 184.3h.6M131.8 173.9h.6M135.0 193.3h.6M135.7 190.4h.6M133.4 186.4h.6M141.0 187.0h.6M129.7 184.7h.6M134.7 201.4h.6M130.3 183.0h.6M132.0 189.2h.6M129.8 178.7h.6M134.0 182.7h.6M138.6 190.6h.6M135.4 175.0h.6M138.5 197.4h.6M133.2 182.6h.6M135.6 178.2h.6M134.2 193.1h.6M132.7 186.7h.6M142.9 193.7h.6M132.1 201.0h.6M133.1 198.3h.6M133.9 196.7h.6M133.2 183.2h.6M130.3 200.3h.6M132.5 175.5h.6M134.1 179.7h.6M132.0 184.7h.6M132.9 171.1h.6M134.9 171.7h.6M136.0 185.4h.6M133.9 200.3h.6M130.5 197.5h.6M129.3 171.9h.6M132.1 188.4h.6M133.5 174.2h.6M135.4 194.3h.6M130.8 174.1h.6M137.2 187.7h.6M133.2 198.9h.6M131.7 172.4h.6M133.6 183.3h.6M131.4 181.0h.6M135.0 172.3h.6M129.9 185.2h.6M130.1 171.6h.6M129.5 182.2h.6M129.4 174.4h.6M144.4 198.9h.6M133.6 187.4h.6M131.3 200.5h.6M134.5 171.6h.6M131.5 174.7h.6M137.3 179.5h.6M137.5 175.2h.6M139.2 177.9h.6M133.0 201.9h.6M130.1 175.8h.6M132.7 192.8h.6M130.9 177.6h.6M130.3 174.6h.6M133.2 183.4h.6M131.5 177.6h.6M132.8 178.5h.6M130.2 183.4h.6M130.9 172.9h.6M130.1 170.2h.6M130.9 185.3h.6M132.9 198.5h.6M132.5 182.9h.6M130.1 183.7h.6M131.0 175.0h.6M130.6 174.6h.6M134.1 173.3h.6M131.4 189.7h.6M135.7 192.2h.6M129.8 185.9h.6M139.0 184.3h.6M137.6 176.8h.6M131.6 181.8h.6M132.4 179.3h.6M131.1 198.5h.6M135.5 185.1h.6M138.2 177.9h.6M132.4 177.2h.6M132.0 189.1h.6M135.1 200.0h.6M130.6 200.6h.6M137.2 197.6h.6M133.2 177.2h.6M141.9 171.5h.6M131.0 187.4h.6M133.3 198.3h.6M130.4 201.0h.6M131.2 178.8h.6M133.3 201.9h.6M133.2 200.1h.6M134.4 196.4h.6M133.5 195.7h.6M132.5 177.4h.6M136.4 186.4h.6M132.4 197.9h.6M141.8 176.3h.6M129.9 188.3h.6M131.4 195.4h.6M135.0 192.1h.6M135.6 192.1h.6M131.8 195.9h.6M134.6 198.2h.6M129.7 191.6h.6M131.8 187.6h.6M132.6 184.9h.6M132.2 178.2h.6M137.6 170.2h.6M134.0 173.5h.6M135.1 194.8h.6M135.8 181.0h.6M132.9 189.7h.6M130.0 183.8h.6M134.4 177.4h.6M135.8 196.0h.6M135.3 187.6h.6M130.8 177.3h.6M137.5 197.6h.6M131.8 199.4h.6M132.9 173.2h.6M136.0 176.1h.6M135.1 199.3h.6M132.6 188.9h.6M133.6 174.6h.6M135.2 178.9h.6M132.3 175.5h.6M135.6 178.8h.6M134.1 189.2h.6M132.2 180.3h.6M138.3 170.5h.6M137.0 190.9h.6M131.5 171.5h.6M130.1 171.1h.6M132.8 183.5h.6M131.4 190.8h.6M133.4 191.8h.6M134.8 199.2h.6M130.4 191.9h.6M134.2 197.9h.6M141.1 195.0h.6M129.3 200.6h.6M137.7 176.7h.6M136.7 173.8h.6M140.6 179.4h.6M143.5 179.9h.6M136.3 194.2h.6M130.2 181.3h.6M131.1 170.3h.6M131.4 172.0h.6M132.9 197.5h.6M133.1 184.3h.6M134.5 181.9h.6M135.2 180.9h.6M131.1 200.4h.6M131.6 201.1h.6M130.4 184.1h.6M130.5 196.7h.6M131.0 176.6h.6M129.8 172.7h.6M138.1 201.6h.6M132.2 171.6h.6M138.8 175.7h.6M139.1 172.5h.6M130.5 172.2h.6M131.2 176.0h.6M132.2 184.0h.6M134.7 174.8h.6M132.8 187.4h.6M134.5 197.1h.6M129.4 172.3h.6M131.8 187.7h.6M133.6 201.0h.6M133.0 190.8h.6M136.0 176.5h.6M131.7 191.9h.6M129.8 196.8h.6M131.8 181.0h.6M137.1 197.2h.6M131.5 175.3h.6M135.5 176.5h.6M130.6 186.2h.6M129.4 183.7h.6M133.0 176.5h.6M135.8 200.3h.6M137.4 185.0h.6M132.4 197.5h.6M131.0 200.9h.6M132.3 199.3h.6M131.6 189.4h.6M131.4 195.3h.6M131.2 173.8h.6M131.4 181.6h.6M136.5 183.3h.6M140.3 183.7h.6M134.0 188.5h.6M132.2 178.5h.6M129.6 170.2h.6M138.3 195.6h.6M134.7 192.0h.6M131.4 176.1h.6M136.8 177.8h.6M129.4 182.9h.6M134.0 187.1h.6M129.5 183.4h.6M138.8 183.8h.6M136.3 179.2h.6M131.7 184.6h.6M142.9 174.4h.6M135.5 185.4h.6M129.8 184.7h.6M133.1 170.5h.6M134.7 185.2h.6M134.0 179.7h.6M131.0 181.1h.6M132.5 173.3h.6M131.6 187.0h.6M135.8 192.7h.6M129.9 190.4h.6M133.2 198.6h.6M139.2 191.2h.6M133.0 177.2h.6M138.0 185.6h.6M141.0 199.6h.6M133.0 181.4h.6M130.3 187.4h.6M132.5 185.9h.6M142.9 170.5h.6M132.5 177.0h.6M138.7 183.7h.6M138.2 186.2h.6M130.2 197.4h.6M135.5 177.9h.6M131.2 188.9h.6M136.3 188.7h.6M130.4 179.9h.6M129.6 175.3h.6M140.0 191.4h.6M131.1 177.9h.6M136.3 200.2h.6M131.3 190.7h.6M138.0 189.8h.6M137.5 180.1h.6M132.7 198.5h.6M137.1 175.1h.6M134.9 190.4h.6M146.5 191.3h.6M132.0 182.4h.6M130.0 193.9h.6M135.5 190.8h.6M130.0 173.7h.6M135.7 202.0h.6M134.0 187.4h.6M136.0 174.0h.6M132.2 189.8h.6M132.1 178.4h.6M133.4 171.1h.6M134.9 176.4h.6M129.4 194.3h.6M131.1 174.5h.6M135.9 192.0h.6M130.1 180.1h.6M132.1 181.6h.6M130.5 182.1h.6M133.3 180.9h.6M129.7 193.8h.6M130.8 201.1h.6M131.1 199.3h.6M133.5 184.7h.6M132.0 176.7h.6M140.6 192.8h.6M136.3 182.8h.6M140.4 175.9h.6M137.0 191.4h.6M143.8 195.5h.6M129.6 183.1h.6M134.0 172.0h.6M134.8 186.4h.6M132.1 197.3h.6M129.7 188.5h.6M133.1 187.9h.6M132.1 186.3h.6M131.3 184.9h.6M131.9 184.3h.6M131.8 182.3h.6M131.0 187.4h.6M133.9 186.9h.6M134.4 200.1h.6M129.9 171.1h.6M130.8 186.6h.6M131.6 185.2h.6M134.7 189.7h.6M136.6 190.2h.6M135.8 172.0h.6M131.4 189.4h.6M130.0 187.8h.6M134.4 193.0h.6M133.3 182.7h.6M130.0 190.1h.6M138.7 185.3h.6M129.5 195.7h.6M137.5 201.6h.6M132.4 184.9h.6M131.0 178.5h.6M134.9 180.3h.6M136.2 173.7h.6M134.7 194.6h.6M131.5 174.9h.6M137.0 174.1h.6M136.4 198.4h.6M132.8 178.4h.6M131.5 176.9h.6M135.6 179.5h.6M138.3 178.0h.6M135.7 180.1h.6M136.2 176.3h.6M135.3 180.7h.6M136.0 169.3h.6M135.0 166.7h.6M132.9 189.1h.6M141.5 170.0h.6M134.9 165.8h.6M133.1 189.8h.6M134.5 178.5h.6M133.6 163.4h.6M135.3 174.8h.6M131.8 180.2h.6M134.2 173.3h.6M137.8 167.8h.6M134.6 184.9h.6M131.7 160.9h.6M140.4 188.5h.6M133.1 189.7h.6M131.8 162.7h.6M131.6 181.0h.6M138.9 183.8h.6M138.0 183.0h.6M131.6 174.9h.6M133.9 162.3h.6M134.2 176.2h.6M131.5 175.9h.6M133.4 162.4h.6M138.0 164.5h.6M137.9 175.7h.6M138.7 166.3h.6M142.3 187.9h.6M137.4 168.5h.6M143.1 180.4h.6M136.7 180.8h.6M132.5 161.1h.6M132.8 170.4h.6M132.1 188.1h.6M135.3 184.3h.6M135.8 160.3h.6M132.4 162.3h.6M140.0 187.6h.6M144.8 179.2h.6M135.0 178.6h.6M135.1 186.9h.6M134.6 176.8h.6M135.2 170.7h.6M131.6 160.4h.6M134.1 162.7h.6M131.6 161.6h.6M147.4 180.9h.6M133.4 184.9h.6M140.4 171.4h.6M131.3 185.6h.6M135.2 175.8h.6M131.4 166.7h.6M139.0 183.7h.6M133.6 189.5h.6M134.8 174.1h.6M140.3 177.6h.6M137.1 177.0h.6M136.4 188.8h.6M131.8 160.9h.6M131.8 169.7h.6M131.1 173.2h.6M132.1 163.5h.6M141.3 187.5h.6M135.9 163.4h.6M134.0 161.6h.6M136.1 168.9h.6M132.1 177.1h.6M136.2 162.0h.6M135.5 165.7h.6M140.6 177.0h.6M135.2 178.5h.6M131.0 175.6h.6M136.5 181.2h.6M138.7 171.2h.6M133.8 177.6h.6M134.5 178.1h.6M134.1 179.7h.6M135.5 173.4h.6M132.8 168.7h.6M133.4 178.8h.6M133.3 179.5h.6M135.8 175.9h.6M136.6 172.0h.6M135.0 160.3h.6M135.6 178.9h.6M135.0 187.8h.6M137.1 170.5h.6M138.1 183.8h.6M138.6 174.7h.6M133.2 173.6h.6M136.8 189.9h.6M137.2 163.6h.6M133.6 166.8h.6M137.1 166.8h.6M131.1 168.8h.6M131.6 170.9h.6M134.8 164.0h.6M131.4 189.3h.6M135.7 163.3h.6M132.7 189.3h.6M132.4 186.1h.6M136.4 176.5h.6M131.5 173.1h.6M134.3 160.3h.6M132.7 186.4h.6M134.3 166.7h.6M134.0 184.2h.6M137.0 181.4h.6M133.7 170.8h.6M131.2 167.9h.6M133.3 169.0h.6M131.3 169.5h.6M131.5 175.1h.6M135.2 175.2h.6M137.4 166.2h.6M136.0 182.3h.6M140.0 169.4h.6M133.0 162.8h.6M133.7 164.0h.6M135.8 169.4h.6M131.9 171.8h.6M132.9 182.6h.6M132.0 186.1h.6M132.5 169.8h.6M133.8 182.3h.6M137.3 189.3h.6M135.7 173.9h.6M132.8 166.1h.6M135.2 167.5h.6M135.2 183.8h.6M133.7 182.0h.6M137.7 161.0h.6M132.6 179.6h.6M133.8 165.8h.6M140.2 189.3h.6M132.4 160.4h.6M134.0 162.3h.6M138.9 177.9h.6M136.4 185.3h.6M134.7 168.6h.6M135.7 182.5h.6M131.7 161.1h.6M133.5 171.3h.6" stroke="#111" stroke-width="0.6" opacity="0.6" fill="none"/>
<path d="M132.2 156.6h.6M134.2 161.0h.6M135.7 173.1h.6M135.0 165.2h.6M134.7 161.7h.6M133.9 166.0h.6M133.7 163.9h.6M135.5 174.8h.6M135.0 172.2h.6M133.1 156.5h.6M132.6 165.0h.6M135.2 169.7h.6M135.7 170.6h.6M133.1 156.1h.6M134.0 161.6h.6M135.5 173.1h.6M134.2 170.5h.6M135.0 165.4h.6M133.8 174.1h.6M135.3 166.4h.6M136.0 158.0h.6M135.2 166.0h.6M133.2 157.5h.6M134.4 172.4h.6M132.3 173.0h.6M136.0 158.9h.6M134.3 164.7h.6M133.3 157.4h.6M132.9 173.8h.6M135.4 174.0h.6M134.1 165.0h.6M131.4 163.5h.6M134.4 174.9h.6M131.4 168.1h.6M131.2 174.4h.6M132.5 168.9h.6M134.6 159.1h.6M133.9 163.5h.6M132.3 162.9h.6M131.4 169.2h.6M135.9 165.8h.6M133.6 165.3h.6M132.1 169.8h.6M134.9 157.1h.6M133.5 157.5h.6M134.9 155.3h.6M135.5 156.3h.6M135.4 158.8h.6M134.2 169.2h.6M135.8 172.5h.6M132.1 169.3h.6M133.7 158.3h.6M133.9 173.8h.6M130.8 169.0h.6M134.2 172.6h.6M133.9 160.0h.6M135.5 157.2h.6M134.9 160.9h.6M131.3 158.4h.6M135.5 158.1h.6M135.7 157.9h.6M135.8 156.1h.6M134.7 165.7h.6M134.5 173.5h.6M132.6 174.9h.6M134.4 171.2h.6M132.8 174.9h.6M135.0 164.4h.6M132.6 172.6h.6M134.3 174.8h.6M135.6 170.0h.6M135.0 158.4h.6M135.4 169.3h.6M131.7 156.4h.6M131.7 159.4h.6M135.2 170.3h.6M134.9 162.4h.6M135.8 158.0h.6M132.6 163.8h.6M132.8 169.7h.6M135.4 169.9h.6M133.2 166.6h.6M133.2 166.0h.6M134.2 158.1h.6M135.5 171.2h.6M135.2 156.8h.6M132.7 170.0h.6M135.3 167.4h.6M135.8 163.5h.6M132.6 164.5h.6M133.1 162.6h.6M135.2 161.5h.6M135.0 166.9h.6M130.9 165.2h.6M135.5 168.0h.6M135.5 167.8h.6M136.0 155.8h.6M133.7 159.0h.6M135.1 160.9h.6M134.8 168.1h.6M130.8 167.3h.6M133.2 160.1h.6M134.7 167.6h.6M132.6 169.2h.6M131.5 156.1h.6M135.6 173.6h.6M135.8 174.9h.6M135.1 166.4h.6M134.2 165.7h.6M135.8 174.3h.6M133.8 159.0h.6M134.2 163.5h.6M135.3 173.4h.6M134.6 156.6h.6M134.2 157.6h.6M134.2 171.4h.6M134.8 164.4h.6M132.2 173.6h.6M135.5 164.8h.6M131.3 168.5h.6M133.6 162.9h.6M133.5 160.5h.6M132.1 168.0h.6M134.1 163.6h.6M135.1 165.1h.6M132.2 160.4h.6M134.3 168.3h.6M134.6 169.9h.6M133.4 170.3h.6M134.4 160.1h.6M131.9 167.5h.6M135.5 174.0h.6M135.3 171.5h.6M134.5 159.9h.6M133.0 172.2h.6M132.9 164.7h.6M134.3 155.4h.6M131.8 159.0h.6M135.3 170.7h.6M131.6 158.2h.6M136.0 158.3h.6M135.3 166.7h.6M135.6 169.7h.6M131.7 170.4h.6M135.0 155.8h.6M135.8 160.8h.6M133.9 165.5h.6M134.3 166.4h.6M131.4 172.1h.6M134.2 157.0h.6M134.1 158.8h.6M133.7 169.4h.6M135.1 158.2h.6M133.0 174.4h.6M134.6 158.7h.6M134.5 160.0h.6M131.5 168.2h.6M131.8 157.8h.6M134.8 174.3h.6M131.4 170.0h.6M132.1 175.6h.6M130.2 174.5h.6M136.5 198.5h.6M130.1 178.1h.6M130.9 185.0h.6M133.8 179.2h.6M137.0 176.8h.6M136.0 177.9h.6M136.1 177.5h.6M132.7 200.7h.6M133.3 186.2h.6M136.1 201.0h.6M135.4 177.1h.6M136.2 192.5h.6M135.7 184.4h.6M137.0 175.7h.6M135.4 188.7h.6M137.6 195.0h.6M133.1 184.3h.6M135.7 184.3h.6M131.1 200.8h.6M134.8 177.8h.6M132.3 174.4h.6M137.5 177.8h.6M135.5 199.5h.6M136.8 190.0h.6M133.5 192.2h.6M137.0 179.6h.6M133.0 185.1h.6M135.7 198.0h.6M135.7 181.2h.6M136.5 178.1h.6M131.7 174.3h.6M135.6 189.6h.6M134.9 189.0h.6M132.6 179.7h.6M135.7 184.9h.6M135.1 198.7h.6M134.9 194.1h.6M131.1 187.2h.6M131.0 179.4h.6M132.6 184.4h.6M132.3 199.2h.6M133.6 182.2h.6M131.2 184.0h.6M136.8 188.7h.6M137.4 190.7h.6M136.0 185.5h.6M137.1 186.1h.6M132.1 180.1h.6M136.9 175.6h.6M132.5 190.9h.6M136.3 186.6h.6M136.1 185.3h.6M135.7 175.0h.6M134.5 200.3h.6M135.6 183.2h.6M135.9 200.4h.6M134.9 185.2h.6M137.1 197.0h.6M133.0 192.0h.6M133.6 183.5h.6M137.0 183.8h.6M137.6 187.1h.6M137.3 177.5h.6M134.4 174.9h.6M137.3 198.0h.6M135.0 186.5h.6M137.8 184.4h.6M133.7 177.7h.6M137.6 195.7h.6M135.3 193.7h.6M137.1 192.1h.6M131.7 191.5h.6M137.3 186.8h.6M134.6 191.4h.6M132.6 180.1h.6M136.2 200.8h.6M131.8 192.0h.6M135.1 175.0h.6M132.3 182.2h.6M136.3 177.6h.6M134.2 190.8h.6M136.7 200.9h.6M137.1 179.2h.6M135.5 190.4h.6M135.5 190.1h.6M134.3 180.4h.6M136.2 197.6h.6M136.3 191.8h.6M137.8 180.9h.6M135.6 196.3h.6M136.1 174.0h.6M135.2 196.1h.6M132.8 184.6h.6M137.9 186.3h.6M135.4 190.1h.6M137.2 186.3h.6M137.5 193.0h.6M134.4 190.6h.6M133.6 175.4h.6M135.0 175.2h.6M133.6 196.8h.6M137.8 179.3h.6M132.4 183.5h.6M134.8 177.8h.6M137.0 178.2h.6M135.4 181.3h.6M136.0 177.1h.6M135.1 196.9h.6M130.2 179.2h.6M131.3 196.6h.6M136.2 180.5h.6M137.5 178.7h.6M135.0 193.7h.6M135.8 175.8h.6M130.9 179.0h.6M137.7 198.3h.6M133.6 175.3h.6M136.0 179.4h.6M137.4 198.8h.6M136.8 195.0h.6M136.8 196.5h.6M134.3 193.5h.6M130.1 192.8h.6M134.7 200.6h.6M136.9 186.2h.6M136.4 189.8h.6M135.9 174.2h.6M133.0 181.0h.6M136.4 198.7h.6M135.9 194.5h.6M136.0 177.9h.6M133.2 189.7h.6M136.7 185.3h.6M136.3 183.0h.6M133.7 178.6h.6M134.5 189.7h.6M131.8 199.1h.6M130.0 193.7h.6M134.0 199.3h.6M133.5 174.7h.6M136.3 184.2h.6M137.0 192.0h.6M134.7 191.8h.6M136.3 182.9h.6M132.7 191.6h.6M135.6 175.3h.6M132.4 185.6h.6M131.5 188.2h.6M134.4 182.0h.6M136.7 193.9h.6M131.2 190.1h.6M138.0 190.4h.6M137.9 180.3h.6M132.9 182.8h.6M133.1 178.3h.6M133.2 187.5h.6M137.0 194.9h.6M130.7 194.7h.6M136.0 181.2h.6M129.9 197.2h.6M132.1 180.9h.6M133.7 195.5h.6M137.7 198.7h.6M137.2 196.8h.6M134.9 175.5h.6M133.1 177.8h.6M131.8 177.6h.6M133.8 175.4h.6M133.6 197.1h.6M133.1 187.7h.6M137.2 174.4h.6M136.5 188.7h.6M130.5 198.0h.6M136.9 176.7h.6M137.8 189.6h.6M136.0 179.7h.6M130.5 193.0h.6M136.4 178.9h.6M130.6 189.5h.6M133.7 183.3h.6M137.3 189.3h.6M131.9 192.9h.6M136.5 189.3h.6M137.8 186.8h.6M136.1 175.5h.6M133.6 182.1h.6M134.6 187.8h.6M131.8 192.7h.6M131.0 180.8h.6M135.7 174.7h.6M133.9 195.9h.6M136.5 184.1h.6M132.4 194.3h.6M137.3 176.2h.6M134.5 188.8h.6M136.3 179.5h.6M137.1 190.4h.6M136.9 199.6h.6M136.3 192.1h.6M133.6 181.4h.6M134.2 195.9h.6M135.7 181.5h.6M137.5 188.0h.6M137.9 191.6h.6M136.6 183.3h.6M138.0 186.9h.6M136.2 184.9h.6M135.3 178.8h.6M134.2 185.2h.6M136.6 178.3h.6M132.7 191.4h.6M134.9 197.8h.6M130.3 185.9h.6M137.1 194.4h.6M134.0 187.9h.6M134.4 174.1h.6M131.4 180.2h.6M137.3 179.2h.6M133.5 189.1h.6M136.3 191.5h.6M133.7 183.2h.6M130.1 195.4h.6M134.2 181.9h.6M132.8 187.3h.6M132.2 182.8h.6M131.7 179.1h.6M135.3 182.9h.6M131.7 197.5h.6M131.1 185.1h.6M133.6 175.6h.6M133.6 185.9h.6M136.3 181.0h.6M134.3 198.3h.6M136.0 186.0h.6M132.9 195.2h.6M137.6 180.5h.6M137.2 184.1h.6M135.0 174.7h.6M133.1 180.5h.6M132.8 196.3h.6M137.7 182.6h.6M136.9 182.1h.6M135.6 179.3h.6M137.5 187.9h.6M135.7 195.4h.6M135.3 187.2h.6M136.4 186.8h.6M135.6 182.1h.6M132.3 180.0h.6M137.9 189.9h.6M130.3 179.1h.6M135.7 187.8h.6M137.9 198.4h.6M131.2 195.8h.6M137.9 194.1h.6M137.8 184.3h.6M135.9 192.5h.6M136.9 193.3h.6" stroke="#fff" stroke-width="0.6" opacity="0.55" fill="none"/>
</g>
<rect x="125.6" y="152.7" width="11.200000000000017" height="21.400000000000006" fill="none" stroke="#808080" stroke-width="0.65"/>
<rect x="139.7" y="184.5" width="12.900000000000006" height="15.400000000000006" fill="none" stroke="#808080" stroke-width="0.65"/>
<line x1="102.2" y1="142.5" x2="103.8" y2="142.5" stroke="#444" stroke-width="0.7"/>
<line x1="163.1" y1="202.1" x2="163.1" y2="203.9" stroke="#444" stroke-width="0.7"/>
<line x1="102.2" y1="157.3" x2="103.8" y2="157.3" stroke="#444" stroke-width="0.7"/>
<line x1="148.3" y1="202.1" x2="148.3" y2="203.9" stroke="#444" stroke-width="0.7"/>
<line x1="102.2" y1="172.1" x2="103.8" y2="172.1" stroke="#444" stroke-width="0.7"/>
<line x1="133.5" y1="202.1" x2="133.5" y2="203.9" stroke="#444" stroke-width="0.7"/>
<line x1="102.2" y1="186.9" x2="103.8" y2="186.9" stroke="#444" stroke-width="0.7"/>
<line x1="118.7" y1="202.1" x2="118.7" y2="203.9" stroke="#444" stroke-width="0.7"/>
<line x1="102.89999999999999" y1="189.1" x2="102.89999999999999" y2="201.1" stroke="#555" stroke-width="1.2" stroke-dasharray="0.6 1.7"/>
<line x1="104.8" y1="203.0" x2="116.5" y2="203.0" stroke="#555" stroke-width="1.2" stroke-dasharray="0.6 1.7"/>
<rect x="102.2" y="193.29999999999998" width="1.5" height="1.3" fill="#111"/>
<rect x="102.2" y="195.79999999999998" width="1.5" height="1.1" fill="#111"/>
<rect x="111.0" y="202.29999999999998" width="1.6" height="1.5" fill="#111"/>
<rect x="107.39999999999999" y="202.29999999999998" width="1.1" height="1.4" fill="#222"/>
<text x="29" y="49.8" font-size="7.7" text-anchor="start" font-weight="normal" fill="#111" stroke="#111" stroke-width="0.15">20.7%</text>
<text x="63" y="77.3" font-size="7.7" text-anchor="start" font-weight="normal" fill="#111" stroke="#111" stroke-width="0.15">3.3%</text>
<text x="120.8" y="49.8" font-size="7.7" text-anchor="start" font-weight="normal" fill="#111" stroke="#111" stroke-width="0.15">21.7%</text>
<text x="140.9" y="75.1" font-size="7.7" text-anchor="start" font-weight="normal" fill="#111" stroke="#111" stroke-width="0.15">27.0%</text>
<text x="29.6" y="148.7" font-size="7.7" text-anchor="start" font-weight="normal" fill="#111" stroke="#111" stroke-width="0.15">18.3%</text>
<text x="63.8" y="174.4" font-size="7.7" text-anchor="start" font-weight="normal" fill="#111" stroke="#111" stroke-width="0.15">1.5%</text>
<text x="121" y="147.7" font-size="7.7" text-anchor="start" font-weight="normal" fill="#111" stroke="#111" stroke-width="0.15">62.6%</text>
<text x="144.5" y="180.4" font-size="7.7" text-anchor="start" font-weight="normal" fill="#111" stroke="#111" stroke-width="0.15">16.2%</text>
<text transform="translate(12.8 71.6) rotate(-90)" font-size="7.8" text-anchor="middle" fill="#111" stroke="#111" stroke-width="0.12">CD3</text>
<text transform="translate(96.6 71.5) rotate(-90)" font-size="7.8" text-anchor="middle" fill="#111" stroke="#111" stroke-width="0.12">CD16</text>
<text transform="translate(12.8 170.5) rotate(-90)" font-size="7.8" text-anchor="middle" fill="#111" stroke="#111" stroke-width="0.12">CD3</text>
<text transform="translate(96.6 170) rotate(-90)" font-size="7.8" text-anchor="middle" fill="#111" stroke="#111" stroke-width="0.12">CD16</text>
<text x="51.5" y="114.4" font-size="7.8" text-anchor="middle" font-weight="normal" fill="#111" stroke="#111" stroke-width="0.12">CD56</text>
<text x="135.5" y="114.4" font-size="7.8" text-anchor="middle" font-weight="normal" fill="#111" stroke="#111" stroke-width="0.12">CD56</text>
<text x="51.3" y="213.5" font-size="7.8" text-anchor="middle" font-weight="normal" fill="#111" stroke="#111" stroke-width="0.12">CD56</text>
<text x="135.5" y="213.5" font-size="7.8" text-anchor="middle" font-weight="normal" fill="#111" stroke="#111" stroke-width="0.12">CD56</text>
<line x1="67.6" y1="90.5" x2="97.5" y2="90.5" stroke="#1a1a1a" stroke-width="0.95"/>
<path d="M99.3 90.5 L94 88.0 L95.4 90.5 L94 93.0 Z" fill="#1a1a1a"/>
<line x1="67.6" y1="189.1" x2="97.5" y2="189.1" stroke="#1a1a1a" stroke-width="0.95"/>
<path d="M99.3 189.1 L94 186.6 L95.4 189.1 L94 191.6 Z" fill="#1a1a1a"/>
<rect x="226.5" y="88.8" width="7.6" height="18.2" fill="#f3b5aa"/>
<rect x="237.6" y="91.2" width="7.6" height="15.8" fill="#f3b5aa"/>
<rect x="256.0" y="91.2" width="7.6" height="15.8" fill="#f3b5aa"/>
<rect x="267.1" y="92.0" width="7.6" height="15.0" fill="#f3b5aa"/>
<rect x="285.5" y="95.8" width="7.6" height="11.2" fill="#f3b5aa"/>
<rect x="296.5" y="98.4" width="7.6" height="8.6" fill="#f3b5aa"/>
<rect x="314.6" y="101.3" width="7.6" height="5.7" fill="#f3b5aa"/>
<rect x="325.8" y="92.0" width="7.6" height="15.0" fill="#f3b5aa"/>
<path d="M230.3 82.4V95.3M228.3 82.4h4M228.3 95.3h4" stroke="#c9203a" stroke-width="0.8" fill="none"/>
<path d="M241.4 88.1V94.4M239.4 88.1h4M239.4 94.4h4" stroke="#bf0d26" stroke-width="0.8" fill="none"/>
<path d="M259.8 86.2V96.3M257.8 86.2h4M257.8 96.3h4" stroke="#c9203a" stroke-width="0.8" fill="none"/>
<path d="M270.9 88.4V95.5M268.9 88.4h4M268.9 95.5h4" stroke="#bf0d26" stroke-width="0.8" fill="none"/>
<path d="M289.3 93.0V98.7M287.3 93.0h4M287.3 98.7h4" stroke="#c9203a" stroke-width="0.8" fill="none"/>
<path d="M300.3 95.3V101.6M298.3 95.3h4M298.3 101.6h4" stroke="#bf0d26" stroke-width="0.8" fill="none"/>
<path d="M318.4 99.8V102.7M316.4 99.8h4M316.4 102.7h4" stroke="#c9203a" stroke-width="0.8" fill="none"/>
<path d="M329.6 86.2V97.7M327.6 86.2h4M327.6 97.7h4" stroke="#bf0d26" stroke-width="0.8" fill="none"/>
<circle cx="230.2" cy="105.7" r="1.35" fill="#fff" fill-opacity="0.75" stroke="#c9203a" stroke-width="1.0"/>
<circle cx="232.2" cy="105.3" r="1.35" fill="#fff" fill-opacity="0.75" stroke="#c9203a" stroke-width="1.0"/>
<circle cx="227.4" cy="103.3" r="1.35" fill="#fff" fill-opacity="0.75" stroke="#c9203a" stroke-width="1.0"/>
<circle cx="230.8" cy="102.0" r="1.35" fill="#fff" fill-opacity="0.75" stroke="#c9203a" stroke-width="1.0"/>
<circle cx="227.7" cy="99.6" r="1.35" fill="#fff" fill-opacity="0.75" stroke="#c9203a" stroke-width="1.0"/>
<circle cx="233.0" cy="97.0" r="1.35" fill="#fff" fill-opacity="0.75" stroke="#c9203a" stroke-width="1.0"/>
<circle cx="227.8" cy="94.5" r="1.35" fill="#fff" fill-opacity="0.75" stroke="#c9203a" stroke-width="1.0"/>
<circle cx="232.5" cy="92.0" r="1.35" fill="#fff" fill-opacity="0.75" stroke="#c9203a" stroke-width="1.0"/>
<circle cx="230.2" cy="87.1" r="1.35" fill="#fff" fill-opacity="0.75" stroke="#c9203a" stroke-width="1.0"/>
<circle cx="230.3" cy="78.9" r="1.35" fill="#fff" fill-opacity="0.75" stroke="#c9203a" stroke-width="1.0"/>
<circle cx="232.8" cy="76.6" r="1.35" fill="#fff" fill-opacity="0.75" stroke="#c9203a" stroke-width="1.0"/>
<circle cx="228.0" cy="75.8" r="1.35" fill="#fff" fill-opacity="0.75" stroke="#c9203a" stroke-width="1.0"/>
<circle cx="230.6" cy="73.3" r="1.35" fill="#fff" fill-opacity="0.75" stroke="#c9203a" stroke-width="1.0"/>
<circle cx="231.9" cy="71.2" r="1.35" fill="#fff" fill-opacity="0.75" stroke="#c9203a" stroke-width="1.0"/>
<circle cx="228.9" cy="69.8" r="1.35" fill="#fff" fill-opacity="0.75" stroke="#c9203a" stroke-width="1.0"/>
<circle cx="230.2" cy="45.9" r="1.35" fill="#fff" fill-opacity="0.75" stroke="#c9203a" stroke-width="1.0"/>
<circle cx="241.4" cy="105.6" r="1.65" fill="#bf0d26"/>
<circle cx="238.8" cy="104.9" r="1.65" fill="#bf0d26"/>
<circle cx="244.3" cy="104.1" r="1.65" fill="#bf0d26"/>
<circle cx="241.7" cy="103.4" r="1.65" fill="#bf0d26"/>
<circle cx="239.5" cy="102.7" r="1.65" fill="#bf0d26"/>
<circle cx="243.7" cy="102.0" r="1.65" fill="#bf0d26"/>
<circle cx="241.2" cy="101.3" r="1.65" fill="#bf0d26"/>
<circle cx="239.1" cy="99.8" r="1.65" fill="#bf0d26"/>
<circle cx="244.2" cy="99.1" r="1.65" fill="#bf0d26"/>
<circle cx="241.0" cy="98.4" r="1.65" fill="#bf0d26"/>
<circle cx="238.5" cy="97.0" r="1.65" fill="#bf0d26"/>
<circle cx="243.3" cy="96.3" r="1.65" fill="#bf0d26"/>
<circle cx="240.7" cy="95.5" r="1.65" fill="#bf0d26"/>
<circle cx="238.6" cy="94.1" r="1.65" fill="#bf0d26"/>
<circle cx="243.0" cy="93.4" r="1.65" fill="#bf0d26"/>
<circle cx="240.6" cy="92.7" r="1.65" fill="#bf0d26"/>
<circle cx="242.4" cy="91.2" r="1.65" fill="#bf0d26"/>
<circle cx="239.6" cy="90.5" r="1.65" fill="#bf0d26"/>
<circle cx="244.2" cy="89.1" r="1.65" fill="#bf0d26"/>
<circle cx="241.5" cy="88.4" r="1.65" fill="#bf0d26"/>
<circle cx="238.6" cy="86.1" r="1.65" fill="#bf0d26"/>
<circle cx="243.7" cy="85.5" r="1.65" fill="#bf0d26"/>
<circle cx="240.7" cy="83.4" r="1.65" fill="#bf0d26"/>
<circle cx="243.2" cy="80.9" r="1.65" fill="#bf0d26"/>
<circle cx="239.0" cy="80.5" r="1.65" fill="#bf0d26"/>
<circle cx="241.6" cy="76.4" r="1.65" fill="#bf0d26"/>
<circle cx="241.3" cy="72.9" r="1.65" fill="#bf0d26"/>
<circle cx="241.3" cy="62.9" r="1.65" fill="#bf0d26"/>
<circle cx="241.3" cy="59.7" r="1.65" fill="#bf0d26"/>
<circle cx="259.9" cy="105.7" r="1.35" fill="#fff" fill-opacity="0.75" stroke="#c9203a" stroke-width="1.0"/>
<circle cx="259.9" cy="102.7" r="1.35" fill="#fff" fill-opacity="0.75" stroke="#c9203a" stroke-width="1.0"/>
<circle cx="259.7" cy="98.3" r="1.35" fill="#fff" fill-opacity="0.75" stroke="#c9203a" stroke-width="1.0"/>
<circle cx="259.7" cy="93.8" r="1.35" fill="#fff" fill-opacity="0.75" stroke="#c9203a" stroke-width="1.0"/>
<circle cx="257.2" cy="91.0" r="1.35" fill="#fff" fill-opacity="0.75" stroke="#c9203a" stroke-width="1.0"/>
<circle cx="262.6" cy="90.4" r="1.35" fill="#fff" fill-opacity="0.75" stroke="#c9203a" stroke-width="1.0"/>
<circle cx="258.5" cy="88.2" r="1.35" fill="#fff" fill-opacity="0.75" stroke="#c9203a" stroke-width="1.0"/>
<circle cx="262.0" cy="85.8" r="1.35" fill="#fff" fill-opacity="0.75" stroke="#c9203a" stroke-width="1.0"/>
<circle cx="257.7" cy="85.2" r="1.35" fill="#fff" fill-opacity="0.75" stroke="#c9203a" stroke-width="1.0"/>
<circle cx="259.5" cy="80.8" r="1.35" fill="#fff" fill-opacity="0.75" stroke="#c9203a" stroke-width="1.0"/>
<circle cx="260.0" cy="67.9" r="1.35" fill="#fff" fill-opacity="0.75" stroke="#c9203a" stroke-width="1.0"/>
<circle cx="259.6" cy="59.7" r="1.35" fill="#fff" fill-opacity="0.75" stroke="#c9203a" stroke-width="1.0"/>
<circle cx="270.5" cy="104.9" r="1.65" fill="#bf0d26"/>
<circle cx="273.6" cy="104.1" r="1.65" fill="#bf0d26"/>
<circle cx="268.9" cy="102.7" r="1.65" fill="#bf0d26"/>
<circle cx="271.6" cy="101.3" r="1.65" fill="#bf0d26"/>
<circle cx="268.1" cy="99.8" r="1.65" fill="#bf0d26"/>
<circle cx="273.4" cy="98.4" r="1.65" fill="#bf0d26"/>
<circle cx="270.1" cy="97.0" r="1.65" fill="#bf0d26"/>
<circle cx="272.3" cy="96.3" r="1.65" fill="#bf0d26"/>
<circle cx="268.4" cy="95.5" r="1.65" fill="#bf0d26"/>
<circle cx="271.1" cy="94.1" r="1.65" fill="#bf0d26"/>
<circle cx="273.6" cy="93.4" r="1.65" fill="#bf0d26"/>
<circle cx="268.6" cy="92.7" r="1.65" fill="#bf0d26"/>
<circle cx="271.4" cy="91.2" r="1.65" fill="#bf0d26"/>
<circle cx="268.4" cy="89.2" r="1.65" fill="#bf0d26"/>
<circle cx="272.9" cy="89.0" r="1.65" fill="#bf0d26"/>
<circle cx="270.5" cy="87.0" r="1.65" fill="#bf0d26"/>
<circle cx="273.8" cy="85.5" r="1.65" fill="#bf0d26"/>
<circle cx="268.1" cy="84.9" r="1.65" fill="#bf0d26"/>
<circle cx="271.4" cy="84.4" r="1.65" fill="#bf0d26"/>
<circle cx="270.8" cy="69.6" r="1.65" fill="#bf0d26"/>
<circle cx="270.6" cy="38.4" r="1.65" fill="#bf0d26"/>
<circle cx="289.4" cy="104.4" r="1.35" fill="#fff" fill-opacity="0.75" stroke="#c9203a" stroke-width="1.0"/>
<circle cx="292.0" cy="102.7" r="1.35" fill="#fff" fill-opacity="0.75" stroke="#c9203a" stroke-width="1.0"/>
<circle cx="286.4" cy="100.7" r="1.35" fill="#fff" fill-opacity="0.75" stroke="#c9203a" stroke-width="1.0"/>
<circle cx="289.6" cy="100.4" r="1.35" fill="#fff" fill-opacity="0.75" stroke="#c9203a" stroke-width="1.0"/>
<circle cx="289.1" cy="97.0" r="1.35" fill="#fff" fill-opacity="0.75" stroke="#c9203a" stroke-width="1.0"/>
<circle cx="287.0" cy="96.7" r="1.35" fill="#fff" fill-opacity="0.75" stroke="#c9203a" stroke-width="1.0"/>
<circle cx="292.1" cy="94.4" r="1.35" fill="#fff" fill-opacity="0.75" stroke="#c9203a" stroke-width="1.0"/>
<circle cx="288.7" cy="94.1" r="1.35" fill="#fff" fill-opacity="0.75" stroke="#c9203a" stroke-width="1.0"/>
<circle cx="289.1" cy="90.5" r="1.35" fill="#fff" fill-opacity="0.75" stroke="#c9203a" stroke-width="1.0"/>
<circle cx="289.4" cy="87.1" r="1.35" fill="#fff" fill-opacity="0.75" stroke="#c9203a" stroke-width="1.0"/>
<circle cx="289.0" cy="71.2" r="1.35" fill="#fff" fill-opacity="0.75" stroke="#c9203a" stroke-width="1.0"/>
<circle cx="300.5" cy="105.7" r="1.65" fill="#bf0d26"/>
<circle cx="297.5" cy="105.4" r="1.65" fill="#bf0d26"/>
<circle cx="302.4" cy="105.1" r="1.65" fill="#bf0d26"/>
<circle cx="299.3" cy="104.9" r="1.65" fill="#bf0d26"/>
<circle cx="301.1" cy="103.3" r="1.65" fill="#bf0d26"/>
<circle cx="298.5" cy="103.0" r="1.65" fill="#bf0d26"/>
<circle cx="302.9" cy="102.7" r="1.65" fill="#bf0d26"/>
<circle cx="300.0" cy="101.1" r="1.65" fill="#bf0d26"/>
<circle cx="302.0" cy="100.8" r="1.65" fill="#bf0d26"/>
<circle cx="297.5" cy="100.6" r="1.65" fill="#bf0d26"/>
<circle cx="300.5" cy="98.4" r="1.65" fill="#bf0d26"/>
<circle cx="297.7" cy="98.1" r="1.65" fill="#bf0d26"/>
<circle cx="303.0" cy="95.5" r="1.65" fill="#bf0d26"/>
<circle cx="298.2" cy="93.4" r="1.65" fill="#bf0d26"/>
<circle cx="302.0" cy="90.8" r="1.65" fill="#bf0d26"/>
<circle cx="300.4" cy="85.8" r="1.65" fill="#bf0d26"/>
<circle cx="300.3" cy="58.3" r="1.65" fill="#bf0d26"/>
<circle cx="318.5" cy="105.4" r="1.35" fill="#fff" fill-opacity="0.75" stroke="#c9203a" stroke-width="1.0"/>
<circle cx="315.5" cy="105.3" r="1.35" fill="#fff" fill-opacity="0.75" stroke="#c9203a" stroke-width="1.0"/>
<circle cx="320.6" cy="103.0" r="1.35" fill="#fff" fill-opacity="0.75" stroke="#c9203a" stroke-width="1.0"/>
<circle cx="317.6" cy="102.8" r="1.35" fill="#fff" fill-opacity="0.75" stroke="#c9203a" stroke-width="1.0"/>
<circle cx="319.2" cy="100.6" r="1.35" fill="#fff" fill-opacity="0.75" stroke="#c9203a" stroke-width="1.0"/>
<circle cx="315.6" cy="100.4" r="1.35" fill="#fff" fill-opacity="0.75" stroke="#c9203a" stroke-width="1.0"/>
<circle cx="321.3" cy="98.0" r="1.35" fill="#fff" fill-opacity="0.75" stroke="#c9203a" stroke-width="1.0"/>
<circle cx="317.5" cy="97.8" r="1.35" fill="#fff" fill-opacity="0.75" stroke="#c9203a" stroke-width="1.0"/>
<circle cx="329.5" cy="102.0" r="1.65" fill="#bf0d26"/>
<circle cx="332.5" cy="101.8" r="1.65" fill="#bf0d26"/>
<circle cx="327.1" cy="99.6" r="1.65" fill="#bf0d26"/>
<circle cx="330.7" cy="99.4" r="1.65" fill="#bf0d26"/>
<circle cx="328.7" cy="99.1" r="1.65" fill="#bf0d26"/>
<circle cx="332.3" cy="97.7" r="1.65" fill="#bf0d26"/>
<circle cx="326.7" cy="95.3" r="1.65" fill="#bf0d26"/>
<circle cx="330.2" cy="95.1" r="1.65" fill="#bf0d26"/>
<circle cx="329.9" cy="87.1" r="1.65" fill="#bf0d26"/>
<circle cx="329.6" cy="72.1" r="1.65" fill="#bf0d26"/>
<circle cx="329.7" cy="55.9" r="1.65" fill="#bf0d26"/>
<path d="M222.4 18.08V107.0H338.6" stroke="#2e2e2e" stroke-width="1.3" fill="none"/>
<line x1="219.20000000000002" y1="107.0" x2="222.4" y2="107.0" stroke="#2e2e2e" stroke-width="0.9"/>
<text x="216.6" y="109.6" font-size="7.9" text-anchor="end" font-weight="normal" fill="#111" >0</text>
<line x1="219.20000000000002" y1="78.4" x2="222.4" y2="78.4" stroke="#2e2e2e" stroke-width="0.9"/>
<text x="216.6" y="81.0" font-size="7.9" text-anchor="end" font-weight="normal" fill="#111" >20</text>
<line x1="219.20000000000002" y1="49.7" x2="222.4" y2="49.7" stroke="#2e2e2e" stroke-width="0.9"/>
<text x="216.6" y="52.3" font-size="7.9" text-anchor="end" font-weight="normal" fill="#111" >40</text>
<line x1="219.20000000000002" y1="21.1" x2="222.4" y2="21.1" stroke="#2e2e2e" stroke-width="0.9"/>
<text x="216.6" y="23.7" font-size="7.9" text-anchor="end" font-weight="normal" fill="#111" >60</text>
<line x1="236" y1="107.0" x2="236" y2="110.0" stroke="#2e2e2e" stroke-width="0.9"/>
<text x="235.7" y="120.0" font-size="7.9" text-anchor="middle" font-weight="normal" fill="#111" >28</text>
<line x1="265.5" y1="107.0" x2="265.5" y2="110.0" stroke="#2e2e2e" stroke-width="0.9"/>
<text x="265.2" y="120.0" font-size="7.9" text-anchor="middle" font-weight="normal" fill="#111" >100</text>
<line x1="295.3" y1="107.0" x2="295.3" y2="110.0" stroke="#2e2e2e" stroke-width="0.9"/>
<text x="295.0" y="120.0" font-size="7.9" text-anchor="middle" font-weight="normal" fill="#111" >180</text>
<line x1="324.4" y1="107.0" x2="324.4" y2="110.0" stroke="#2e2e2e" stroke-width="0.9"/>
<text x="326.3" y="120.0" font-size="7.9" text-anchor="middle" font-weight="normal" fill="#111" >365</text>
<text transform="translate(191.6 62.2) rotate(-90)" font-size="8.3" text-anchor="middle" fill="#111" stroke="#111" stroke-width="0.32" textLength="56.5" lengthAdjust="spacingAndGlyphs">CD3<tspan dy="-2.8" font-size="5">-</tspan><tspan dy="2.8">CD56</tspan><tspan dy="-2.8" font-size="5">+</tspan><tspan dy="2.8"> NK cells</tspan></text>
<text transform="translate(201.8 62.5) rotate(-90)" font-size="8.3" text-anchor="middle" fill="#111" stroke="#111" stroke-width="0.32" textLength="46" lengthAdjust="spacingAndGlyphs">(% lymphocytes)</text>
<text x="280.3" y="132.5" font-size="9.2" text-anchor="middle" fill="#111" stroke="#111" stroke-width="0.2" textLength="65.8" lengthAdjust="spacingAndGlyphs">Time posttransplant (d)</text>
<circle cx="241.3" cy="141.5" r="1.3" fill="#fff" stroke="#c9203a" stroke-width="0.9"/>
<text x="245.8" y="144.1" font-size="7.5" text-anchor="start" font-weight="normal" fill="#111" stroke="#111" stroke-width="0.12">Control</text>
<circle cx="274.1" cy="141.5" r="1.5" fill="#bf0d26"/>
<text x="279.3" y="144.1" font-size="7.5" text-anchor="start" font-weight="normal" fill="#111" stroke="#111" stroke-width="0.12">PTCy + Aba</text>
<rect x="402.8" y="81.2" width="7.6" height="25.8" fill="#f3b5aa"/>
<rect x="413.5" y="99.7" width="7.6" height="7.3" fill="#f3b5aa"/>
<rect x="431.9" y="89.8" width="7.6" height="17.2" fill="#f3b5aa"/>
<rect x="443.0" y="92.4" width="7.6" height="14.6" fill="#f3b5aa"/>
<rect x="461.6" y="91.0" width="7.6" height="16.0" fill="#f3b5aa"/>
<rect x="472.5" y="75.5" width="7.6" height="31.5" fill="#f3b5aa"/>
<rect x="490.9" y="98.1" width="7.6" height="8.9" fill="#f3b5aa"/>
<rect x="502.2" y="68.3" width="7.6" height="38.7" fill="#f3b5aa"/>
<path d="M406.6 74.8V87.7M404.6 74.8h4M404.6 87.7h4" stroke="#c9203a" stroke-width="0.8" fill="none"/>
<path d="M417.3 97.6V101.8M415.3 97.6h4M415.3 101.8h4" stroke="#bf0d26" stroke-width="0.8" fill="none"/>
<path d="M435.7 85.1V94.5M433.7 85.1h4M433.7 94.5h4" stroke="#c9203a" stroke-width="0.8" fill="none"/>
<path d="M446.8 88.1V96.7M444.8 88.1h4M444.8 96.7h4" stroke="#bf0d26" stroke-width="0.8" fill="none"/>
<path d="M465.4 87.2V94.9M463.4 87.2h4M463.4 94.9h4" stroke="#c9203a" stroke-width="0.8" fill="none"/>
<path d="M476.3 69.9V81.1M474.3 69.9h4M474.3 81.1h4" stroke="#bf0d26" stroke-width="0.8" fill="none"/>
<path d="M494.7 95.5V100.6M492.7 95.5h4M492.7 100.6h4" stroke="#c9203a" stroke-width="0.8" fill="none"/>
<path d="M506 59.8V76.9M504 59.8h4M504 76.9h4" stroke="#bf0d26" stroke-width="0.8" fill="none"/>
<circle cx="406.7" cy="104.0" r="1.35" fill="#fff" fill-opacity="0.75" stroke="#c9203a" stroke-width="1.0"/>
<circle cx="406.8" cy="100.6" r="1.35" fill="#fff" fill-opacity="0.75" stroke="#c9203a" stroke-width="1.0"/>
<circle cx="405.0" cy="100.1" r="1.35" fill="#fff" fill-opacity="0.75" stroke="#c9203a" stroke-width="1.0"/>
<circle cx="406.5" cy="96.7" r="1.35" fill="#fff" fill-opacity="0.75" stroke="#c9203a" stroke-width="1.0"/>
<circle cx="406.6" cy="92.8" r="1.35" fill="#fff" fill-opacity="0.75" stroke="#c9203a" stroke-width="1.0"/>
<circle cx="409.1" cy="92.4" r="1.35" fill="#fff" fill-opacity="0.75" stroke="#c9203a" stroke-width="1.0"/>
<circle cx="406.3" cy="85.5" r="1.35" fill="#fff" fill-opacity="0.75" stroke="#c9203a" stroke-width="1.0"/>
<circle cx="406.9" cy="82.5" r="1.35" fill="#fff" fill-opacity="0.75" stroke="#c9203a" stroke-width="1.0"/>
<circle cx="406.6" cy="64.1" r="1.35" fill="#fff" fill-opacity="0.75" stroke="#c9203a" stroke-width="1.0"/>
<circle cx="406.4" cy="59.3" r="1.35" fill="#fff" fill-opacity="0.75" stroke="#c9203a" stroke-width="1.0"/>
<circle cx="408.8" cy="51.5" r="1.35" fill="#fff" fill-opacity="0.75" stroke="#c9203a" stroke-width="1.0"/>
<circle cx="404.2" cy="51.0" r="1.35" fill="#fff" fill-opacity="0.75" stroke="#c9203a" stroke-width="1.0"/>
<circle cx="406.6" cy="45.8" r="1.35" fill="#fff" fill-opacity="0.75" stroke="#c9203a" stroke-width="1.0"/>
<circle cx="417.2" cy="106.3" r="1.65" fill="#bf0d26"/>
<circle cx="420.2" cy="106.1" r="1.65" fill="#bf0d26"/>
<circle cx="414.7" cy="106.0" r="1.65" fill="#bf0d26"/>
<circle cx="418.7" cy="105.7" r="1.65" fill="#bf0d26"/>
<circle cx="416.0" cy="105.3" r="1.65" fill="#bf0d26"/>
<circle cx="418.4" cy="104.9" r="1.65" fill="#bf0d26"/>
<circle cx="414.8" cy="104.4" r="1.65" fill="#bf0d26"/>
<circle cx="419.9" cy="104.0" r="1.65" fill="#bf0d26"/>
<circle cx="416.9" cy="103.6" r="1.65" fill="#bf0d26"/>
<circle cx="418.5" cy="102.7" r="1.65" fill="#bf0d26"/>
<circle cx="414.6" cy="102.3" r="1.65" fill="#bf0d26"/>
<circle cx="416.4" cy="101.8" r="1.65" fill="#bf0d26"/>
<circle cx="419.7" cy="101.4" r="1.65" fill="#bf0d26"/>
<circle cx="417.8" cy="100.1" r="1.65" fill="#bf0d26"/>
<circle cx="414.8" cy="99.7" r="1.65" fill="#bf0d26"/>
<circle cx="419.9" cy="99.3" r="1.65" fill="#bf0d26"/>
<circle cx="417.1" cy="97.6" r="1.65" fill="#bf0d26"/>
<circle cx="419.4" cy="97.1" r="1.65" fill="#bf0d26"/>
<circle cx="417.3" cy="93.9" r="1.65" fill="#bf0d26"/>
<circle cx="417.1" cy="85.4" r="1.65" fill="#bf0d26"/>
<circle cx="417.3" cy="82.1" r="1.65" fill="#bf0d26"/>
<circle cx="417.3" cy="78.3" r="1.65" fill="#bf0d26"/>
<circle cx="415.1" cy="75.5" r="1.65" fill="#bf0d26"/>
<circle cx="435.6" cy="103.1" r="1.35" fill="#fff" fill-opacity="0.75" stroke="#c9203a" stroke-width="1.0"/>
<circle cx="438.6" cy="102.7" r="1.35" fill="#fff" fill-opacity="0.75" stroke="#c9203a" stroke-width="1.0"/>
<circle cx="433.6" cy="99.7" r="1.35" fill="#fff" fill-opacity="0.75" stroke="#c9203a" stroke-width="1.0"/>
<circle cx="438.4" cy="99.3" r="1.35" fill="#fff" fill-opacity="0.75" stroke="#c9203a" stroke-width="1.0"/>
<circle cx="435.8" cy="85.5" r="1.35" fill="#fff" fill-opacity="0.75" stroke="#c9203a" stroke-width="1.0"/>
<circle cx="433.7" cy="82.5" r="1.35" fill="#fff" fill-opacity="0.75" stroke="#c9203a" stroke-width="1.0"/>
<circle cx="438.0" cy="79.9" r="1.35" fill="#fff" fill-opacity="0.75" stroke="#c9203a" stroke-width="1.0"/>
<circle cx="433.4" cy="78.7" r="1.35" fill="#fff" fill-opacity="0.75" stroke="#c9203a" stroke-width="1.0"/>
<circle cx="435.6" cy="62.2" r="1.35" fill="#fff" fill-opacity="0.75" stroke="#c9203a" stroke-width="1.0"/>
<circle cx="435.9" cy="45.2" r="1.35" fill="#fff" fill-opacity="0.75" stroke="#c9203a" stroke-width="1.0"/>
<circle cx="446.8" cy="104.9" r="1.65" fill="#bf0d26"/>
<circle cx="449.2" cy="104.4" r="1.65" fill="#bf0d26"/>
<circle cx="444.2" cy="103.6" r="1.65" fill="#bf0d26"/>
<circle cx="447.9" cy="102.7" r="1.65" fill="#bf0d26"/>
<circle cx="445.7" cy="101.8" r="1.65" fill="#bf0d26"/>
<circle cx="449.6" cy="101.0" r="1.65" fill="#bf0d26"/>
<circle cx="444.2" cy="100.1" r="1.65" fill="#bf0d26"/>
<circle cx="447.2" cy="99.3" r="1.65" fill="#bf0d26"/>
<circle cx="449.1" cy="98.4" r="1.65" fill="#bf0d26"/>
<circle cx="444.0" cy="96.3" r="1.65" fill="#bf0d26"/>
<circle cx="447.1" cy="95.8" r="1.65" fill="#bf0d26"/>
<circle cx="449.4" cy="93.3" r="1.65" fill="#bf0d26"/>
<circle cx="444.5" cy="92.4" r="1.65" fill="#bf0d26"/>
<circle cx="446.8" cy="88.1" r="1.65" fill="#bf0d26"/>
<circle cx="449.1" cy="87.2" r="1.65" fill="#bf0d26"/>
<circle cx="446.8" cy="81.2" r="1.65" fill="#bf0d26"/>
<circle cx="446.7" cy="77.8" r="1.65" fill="#bf0d26"/>
<circle cx="448.8" cy="76.1" r="1.65" fill="#bf0d26"/>
<circle cx="446.8" cy="67.8" r="1.65" fill="#bf0d26"/>
<circle cx="446.8" cy="37.9" r="1.65" fill="#bf0d26"/>
<circle cx="465.7" cy="103.6" r="1.35" fill="#fff" fill-opacity="0.75" stroke="#c9203a" stroke-width="1.0"/>
<circle cx="462.6" cy="101.2" r="1.35" fill="#fff" fill-opacity="0.75" stroke="#c9203a" stroke-width="1.0"/>
<circle cx="468.1" cy="101.0" r="1.35" fill="#fff" fill-opacity="0.75" stroke="#c9203a" stroke-width="1.0"/>
<circle cx="462.6" cy="97.7" r="1.35" fill="#fff" fill-opacity="0.75" stroke="#c9203a" stroke-width="1.0"/>
<circle cx="468.3" cy="97.6" r="1.35" fill="#fff" fill-opacity="0.75" stroke="#c9203a" stroke-width="1.0"/>
<circle cx="465.2" cy="94.7" r="1.35" fill="#fff" fill-opacity="0.75" stroke="#c9203a" stroke-width="1.0"/>
<circle cx="468.2" cy="94.3" r="1.35" fill="#fff" fill-opacity="0.75" stroke="#c9203a" stroke-width="1.0"/>
<circle cx="462.8" cy="91.5" r="1.35" fill="#fff" fill-opacity="0.75" stroke="#c9203a" stroke-width="1.0"/>
<circle cx="466.9" cy="91.1" r="1.35" fill="#fff" fill-opacity="0.75" stroke="#c9203a" stroke-width="1.0"/>
<circle cx="465.3" cy="89.1" r="1.35" fill="#fff" fill-opacity="0.75" stroke="#c9203a" stroke-width="1.0"/>
<circle cx="462.6" cy="89.0" r="1.35" fill="#fff" fill-opacity="0.75" stroke="#c9203a" stroke-width="1.0"/>
<circle cx="468.3" cy="88.5" r="1.35" fill="#fff" fill-opacity="0.75" stroke="#c9203a" stroke-width="1.0"/>
<circle cx="464.2" cy="85.9" r="1.35" fill="#fff" fill-opacity="0.75" stroke="#c9203a" stroke-width="1.0"/>
<circle cx="467.2" cy="85.5" r="1.35" fill="#fff" fill-opacity="0.75" stroke="#c9203a" stroke-width="1.0"/>
<circle cx="465.3" cy="67.0" r="1.35" fill="#fff" fill-opacity="0.75" stroke="#c9203a" stroke-width="1.0"/>
<circle cx="465.2" cy="45.2" r="1.35" fill="#fff" fill-opacity="0.75" stroke="#c9203a" stroke-width="1.0"/>
<circle cx="476.3" cy="104.0" r="1.65" fill="#bf0d26"/>
<circle cx="479.3" cy="101.8" r="1.65" fill="#bf0d26"/>
<circle cx="473.3" cy="101.7" r="1.65" fill="#bf0d26"/>
<circle cx="476.1" cy="89.8" r="1.65" fill="#bf0d26"/>
<circle cx="475.9" cy="79.5" r="1.65" fill="#bf0d26"/>
<circle cx="478.8" cy="76.9" r="1.65" fill="#bf0d26"/>
<circle cx="473.9" cy="76.1" r="1.65" fill="#bf0d26"/>
<circle cx="476.4" cy="70.1" r="1.65" fill="#bf0d26"/>
<circle cx="476.3" cy="65.8" r="1.65" fill="#bf0d26"/>
<circle cx="476.4" cy="61.5" r="1.65" fill="#bf0d26"/>
<circle cx="479.0" cy="59.8" r="1.65" fill="#bf0d26"/>
<circle cx="473.9" cy="59.6" r="1.65" fill="#bf0d26"/>
<circle cx="476.7" cy="57.6" r="1.65" fill="#bf0d26"/>
<circle cx="475.5" cy="51.2" r="1.65" fill="#bf0d26"/>
<circle cx="479.0" cy="50.3" r="1.65" fill="#bf0d26"/>
<circle cx="476.5" cy="47.2" r="1.65" fill="#bf0d26"/>
<circle cx="476.5" cy="43.0" r="1.65" fill="#bf0d26"/>
<circle cx="494.5" cy="104.9" r="1.35" fill="#fff" fill-opacity="0.75" stroke="#c9203a" stroke-width="1.0"/>
<circle cx="497.2" cy="102.9" r="1.35" fill="#fff" fill-opacity="0.75" stroke="#c9203a" stroke-width="1.0"/>
<circle cx="492.0" cy="102.7" r="1.35" fill="#fff" fill-opacity="0.75" stroke="#c9203a" stroke-width="1.0"/>
<circle cx="497.2" cy="99.4" r="1.35" fill="#fff" fill-opacity="0.75" stroke="#c9203a" stroke-width="1.0"/>
<circle cx="491.9" cy="99.3" r="1.35" fill="#fff" fill-opacity="0.75" stroke="#c9203a" stroke-width="1.0"/>
<circle cx="494.5" cy="98.9" r="1.35" fill="#fff" fill-opacity="0.75" stroke="#c9203a" stroke-width="1.0"/>
<circle cx="497.3" cy="96.0" r="1.35" fill="#fff" fill-opacity="0.75" stroke="#c9203a" stroke-width="1.0"/>
<circle cx="492.5" cy="95.7" r="1.35" fill="#fff" fill-opacity="0.75" stroke="#c9203a" stroke-width="1.0"/>
<circle cx="495.5" cy="93.3" r="1.35" fill="#fff" fill-opacity="0.75" stroke="#c9203a" stroke-width="1.0"/>
<circle cx="494.8" cy="81.2" r="1.35" fill="#fff" fill-opacity="0.75" stroke="#c9203a" stroke-width="1.0"/>
<circle cx="508.4" cy="101.0" r="1.65" fill="#bf0d26"/>
<circle cx="503.4" cy="100.8" r="1.65" fill="#bf0d26"/>
<circle cx="505.8" cy="79.7" r="1.65" fill="#bf0d26"/>
<circle cx="506.0" cy="75.5" r="1.65" fill="#bf0d26"/>
<circle cx="505.0" cy="71.4" r="1.65" fill="#bf0d26"/>
<circle cx="507.8" cy="67.0" r="1.65" fill="#bf0d26"/>
<circle cx="506.3" cy="61.5" r="1.65" fill="#bf0d26"/>
<circle cx="505.8" cy="45.2" r="1.65" fill="#bf0d26"/>
<circle cx="506.1" cy="40.2" r="1.65" fill="#bf0d26"/>
<circle cx="506.3" cy="36.0" r="1.65" fill="#bf0d26"/>
<path d="M399 18.099999999999994V107.0H513.5" stroke="#2e2e2e" stroke-width="1.3" fill="none"/>
<line x1="395.8" y1="107.0" x2="399" y2="107.0" stroke="#2e2e2e" stroke-width="0.9"/>
<text x="393.2" y="109.6" font-size="7.9" text-anchor="end" font-weight="normal" fill="#111" >0</text>
<line x1="395.8" y1="89.8" x2="399" y2="89.8" stroke="#2e2e2e" stroke-width="0.9"/>
<text x="393.2" y="92.4" font-size="7.9" text-anchor="end" font-weight="normal" fill="#111" >20</text>
<line x1="395.8" y1="72.6" x2="399" y2="72.6" stroke="#2e2e2e" stroke-width="0.9"/>
<text x="393.2" y="75.2" font-size="7.9" text-anchor="end" font-weight="normal" fill="#111" >40</text>
<line x1="395.8" y1="55.5" x2="399" y2="55.5" stroke="#2e2e2e" stroke-width="0.9"/>
<text x="393.2" y="58.1" font-size="7.9" text-anchor="end" font-weight="normal" fill="#111" >60</text>
<line x1="395.8" y1="38.3" x2="399" y2="38.3" stroke="#2e2e2e" stroke-width="0.9"/>
<text x="393.2" y="40.9" font-size="7.9" text-anchor="end" font-weight="normal" fill="#111" >80</text>
<line x1="395.8" y1="21.1" x2="399" y2="21.1" stroke="#2e2e2e" stroke-width="0.9"/>
<text x="393.2" y="23.7" font-size="7.9" text-anchor="end" font-weight="normal" fill="#111" >100</text>
<line x1="412.8" y1="107.0" x2="412.8" y2="110.0" stroke="#2e2e2e" stroke-width="0.9"/>
<text x="412.5" y="120.0" font-size="7.9" text-anchor="middle" font-weight="normal" fill="#111" >28</text>
<line x1="441.5" y1="107.0" x2="441.5" y2="110.0" stroke="#2e2e2e" stroke-width="0.9"/>
<text x="441.2" y="120.0" font-size="7.9" text-anchor="middle" font-weight="normal" fill="#111" >100</text>
<line x1="471" y1="107.0" x2="471" y2="110.0" stroke="#2e2e2e" stroke-width="0.9"/>
<text x="470.7" y="120.0" font-size="7.9" text-anchor="middle" font-weight="normal" fill="#111" >180</text>
<line x1="500.5" y1="107.0" x2="500.5" y2="110.0" stroke="#2e2e2e" stroke-width="0.9"/>
<text x="500.2" y="120.0" font-size="7.9" text-anchor="middle" font-weight="normal" fill="#111" >360</text>
<text transform="translate(364.4 65.2) rotate(-90)" font-size="8.3" text-anchor="middle" fill="#111" stroke="#111" stroke-width="0.32" textLength="54.3" lengthAdjust="spacingAndGlyphs">CD16<tspan dy="-2.8" font-size="5">+</tspan><tspan dy="2.8">CD56</tspan><tspan dy="-2.8" font-size="5">dim</tspan><tspan dy="2.8"> NK cells</tspan></text>
<text transform="translate(375 65.6) rotate(-90)" font-size="8.3" text-anchor="middle" fill="#111" stroke="#111" stroke-width="0.32" textLength="29.5" lengthAdjust="spacingAndGlyphs">(% NK cells)</text>
<text x="456.5" y="132.5" font-size="9.2" text-anchor="middle" fill="#111" stroke="#111" stroke-width="0.2" textLength="65.8" lengthAdjust="spacingAndGlyphs">Time posttransplant (d)</text>
<circle cx="417.8" cy="141.5" r="1.3" fill="#fff" stroke="#c9203a" stroke-width="0.9"/>
<text x="422.3" y="144.1" font-size="7.5" text-anchor="start" font-weight="normal" fill="#111" stroke="#111" stroke-width="0.12">Control</text>
<circle cx="450.6" cy="141.5" r="1.5" fill="#bf0d26"/>
<text x="455.8" y="144.1" font-size="7.5" text-anchor="start" font-weight="normal" fill="#111" stroke="#111" stroke-width="0.12">PTCy + Aba</text>
<line x1="406" y1="25.35" x2="505.8" y2="25.35" stroke="#2a2a2a" stroke-width="1"/>
<text x="455.8" y="22.150000000000002" font-size="7.3" text-anchor="middle" fill="#1c1c1c"><tspan font-style="italic">P</tspan> &lt; .001</text>
<rect x="402.8" y="232.9" width="7.6" height="19.4" fill="#f3b5aa"/>
<rect x="413.9" y="217.9" width="7.6" height="34.4" fill="#f3b5aa"/>
<rect x="431.8" y="232.1" width="7.6" height="20.2" fill="#f3b5aa"/>
<rect x="443.5" y="227.8" width="7.6" height="24.5" fill="#f3b5aa"/>
<rect x="461.6" y="223.5" width="7.6" height="28.8" fill="#f3b5aa"/>
<rect x="472.5" y="234.2" width="7.6" height="18.1" fill="#f3b5aa"/>
<rect x="490.9" y="236.8" width="7.6" height="15.5" fill="#f3b5aa"/>
<rect x="502.2" y="243.7" width="7.6" height="8.6" fill="#f3b5aa"/>
<path d="M406.6 229.1V236.8M404.6 229.1h4M404.6 236.8h4" stroke="#c9203a" stroke-width="0.8" fill="none"/>
<path d="M417.7 215.3V220.4M415.7 215.3h4M415.7 220.4h4" stroke="#bf0d26" stroke-width="0.8" fill="none"/>
<path d="M435.6 227.8V236.4M433.6 227.8h4M433.6 236.4h4" stroke="#c9203a" stroke-width="0.8" fill="none"/>
<path d="M447.3 224.3V231.2M445.3 224.3h4M445.3 231.2h4" stroke="#bf0d26" stroke-width="0.8" fill="none"/>
<path d="M465.4 218.4V228.7M463.4 218.4h4M463.4 228.7h4" stroke="#c9203a" stroke-width="0.8" fill="none"/>
<path d="M476.3 230.3V238.1M474.3 230.3h4M474.3 238.1h4" stroke="#bf0d26" stroke-width="0.8" fill="none"/>
<path d="M494.7 233.8V239.8M492.7 233.8h4M492.7 239.8h4" stroke="#c9203a" stroke-width="0.8" fill="none"/>
<path d="M506 241.5V245.8M504 241.5h4M504 245.8h4" stroke="#bf0d26" stroke-width="0.8" fill="none"/>
<circle cx="406.8" cy="250.4" r="1.35" fill="#fff" fill-opacity="0.75" stroke="#c9203a" stroke-width="1.0"/>
<circle cx="405.1" cy="247.6" r="1.35" fill="#fff" fill-opacity="0.75" stroke="#c9203a" stroke-width="1.0"/>
<circle cx="408.2" cy="247.1" r="1.35" fill="#fff" fill-opacity="0.75" stroke="#c9203a" stroke-width="1.0"/>
<circle cx="406.6" cy="243.7" r="1.35" fill="#fff" fill-opacity="0.75" stroke="#c9203a" stroke-width="1.0"/>
<circle cx="403.8" cy="243.3" r="1.35" fill="#fff" fill-opacity="0.75" stroke="#c9203a" stroke-width="1.0"/>
<circle cx="406.4" cy="239.2" r="1.35" fill="#fff" fill-opacity="0.75" stroke="#c9203a" stroke-width="1.0"/>
<circle cx="408.9" cy="239.0" r="1.35" fill="#fff" fill-opacity="0.75" stroke="#c9203a" stroke-width="1.0"/>
<circle cx="407.0" cy="229.2" r="1.35" fill="#fff" fill-opacity="0.75" stroke="#c9203a" stroke-width="1.0"/>
<circle cx="404.0" cy="226.5" r="1.35" fill="#fff" fill-opacity="0.75" stroke="#c9203a" stroke-width="1.0"/>
<circle cx="409.0" cy="222.9" r="1.35" fill="#fff" fill-opacity="0.75" stroke="#c9203a" stroke-width="1.0"/>
<circle cx="405.4" cy="222.5" r="1.35" fill="#fff" fill-opacity="0.75" stroke="#c9203a" stroke-width="1.0"/>
<circle cx="406.6" cy="215.1" r="1.35" fill="#fff" fill-opacity="0.75" stroke="#c9203a" stroke-width="1.0"/>
<circle cx="409.4" cy="213.6" r="1.35" fill="#fff" fill-opacity="0.75" stroke="#c9203a" stroke-width="1.0"/>
<circle cx="403.6" cy="213.0" r="1.35" fill="#fff" fill-opacity="0.75" stroke="#c9203a" stroke-width="1.0"/>
<circle cx="417.6" cy="247.1" r="1.65" fill="#bf0d26"/>
<circle cx="417.3" cy="235.9" r="1.65" fill="#bf0d26"/>
<circle cx="420.0" cy="233.4" r="1.65" fill="#bf0d26"/>
<circle cx="417.7" cy="229.1" r="1.65" fill="#bf0d26"/>
<circle cx="414.8" cy="226.5" r="1.65" fill="#bf0d26"/>
<circle cx="419.9" cy="224.7" r="1.65" fill="#bf0d26"/>
<circle cx="414.9" cy="223.0" r="1.65" fill="#bf0d26"/>
<circle cx="418.1" cy="221.7" r="1.65" fill="#bf0d26"/>
<circle cx="415.3" cy="220.4" r="1.65" fill="#bf0d26"/>
<circle cx="419.9" cy="219.2" r="1.65" fill="#bf0d26"/>
<circle cx="416.9" cy="217.9" r="1.65" fill="#bf0d26"/>
<circle cx="419.2" cy="216.6" r="1.65" fill="#bf0d26"/>
<circle cx="414.9" cy="215.3" r="1.65" fill="#bf0d26"/>
<circle cx="417.9" cy="214.4" r="1.65" fill="#bf0d26"/>
<circle cx="420.4" cy="213.1" r="1.65" fill="#bf0d26"/>
<circle cx="415.5" cy="211.8" r="1.65" fill="#bf0d26"/>
<circle cx="418.3" cy="211.0" r="1.65" fill="#bf0d26"/>
<circle cx="416.5" cy="209.2" r="1.65" fill="#bf0d26"/>
<circle cx="419.7" cy="208.4" r="1.65" fill="#bf0d26"/>
<circle cx="415.0" cy="207.1" r="1.65" fill="#bf0d26"/>
<circle cx="418.1" cy="205.8" r="1.65" fill="#bf0d26"/>
<circle cx="420.4" cy="204.9" r="1.65" fill="#bf0d26"/>
<circle cx="415.3" cy="203.7" r="1.65" fill="#bf0d26"/>
<circle cx="418.0" cy="203.2" r="1.65" fill="#bf0d26"/>
<circle cx="435.8" cy="250.6" r="1.35" fill="#fff" fill-opacity="0.75" stroke="#c9203a" stroke-width="1.0"/>
<circle cx="433.3" cy="250.4" r="1.35" fill="#fff" fill-opacity="0.75" stroke="#c9203a" stroke-width="1.0"/>
<circle cx="435.3" cy="244.3" r="1.35" fill="#fff" fill-opacity="0.75" stroke="#c9203a" stroke-width="1.0"/>
<circle cx="435.6" cy="240.7" r="1.35" fill="#fff" fill-opacity="0.75" stroke="#c9203a" stroke-width="1.0"/>
<circle cx="435.4" cy="236.4" r="1.35" fill="#fff" fill-opacity="0.75" stroke="#c9203a" stroke-width="1.0"/>
<circle cx="437.7" cy="235.9" r="1.35" fill="#fff" fill-opacity="0.75" stroke="#c9203a" stroke-width="1.0"/>
<circle cx="435.6" cy="227.8" r="1.35" fill="#fff" fill-opacity="0.75" stroke="#c9203a" stroke-width="1.0"/>
<circle cx="435.3" cy="224.2" r="1.35" fill="#fff" fill-opacity="0.75" stroke="#c9203a" stroke-width="1.0"/>
<circle cx="437.9" cy="223.7" r="1.35" fill="#fff" fill-opacity="0.75" stroke="#c9203a" stroke-width="1.0"/>
<circle cx="435.6" cy="219.6" r="1.35" fill="#fff" fill-opacity="0.75" stroke="#c9203a" stroke-width="1.0"/>
<circle cx="437.9" cy="219.2" r="1.35" fill="#fff" fill-opacity="0.75" stroke="#c9203a" stroke-width="1.0"/>
<circle cx="435.5" cy="215.0" r="1.35" fill="#fff" fill-opacity="0.75" stroke="#c9203a" stroke-width="1.0"/>
<circle cx="435.5" cy="200.3" r="1.35" fill="#fff" fill-opacity="0.75" stroke="#c9203a" stroke-width="1.0"/>
<circle cx="446.4" cy="248.0" r="1.65" fill="#bf0d26"/>
<circle cx="449.3" cy="245.4" r="1.65" fill="#bf0d26"/>
<circle cx="447.4" cy="241.1" r="1.65" fill="#bf0d26"/>
<circle cx="450.0" cy="240.7" r="1.65" fill="#bf0d26"/>
<circle cx="447.3" cy="237.7" r="1.65" fill="#bf0d26"/>
<circle cx="446.8" cy="234.0" r="1.65" fill="#bf0d26"/>
<circle cx="450.0" cy="231.6" r="1.65" fill="#bf0d26"/>
<circle cx="444.7" cy="228.6" r="1.65" fill="#bf0d26"/>
<circle cx="450.2" cy="228.2" r="1.65" fill="#bf0d26"/>
<circle cx="447.2" cy="224.7" r="1.65" fill="#bf0d26"/>
<circle cx="450.0" cy="224.3" r="1.65" fill="#bf0d26"/>
<circle cx="444.6" cy="222.6" r="1.65" fill="#bf0d26"/>
<circle cx="447.8" cy="222.2" r="1.65" fill="#bf0d26"/>
<circle cx="450.0" cy="220.0" r="1.65" fill="#bf0d26"/>
<circle cx="446.1" cy="219.6" r="1.65" fill="#bf0d26"/>
<circle cx="449.6" cy="216.6" r="1.65" fill="#bf0d26"/>
<circle cx="445.0" cy="215.9" r="1.65" fill="#bf0d26"/>
<circle cx="447.0" cy="211.8" r="1.65" fill="#bf0d26"/>
<circle cx="447.3" cy="207.1" r="1.65" fill="#bf0d26"/>
<circle cx="444.8" cy="206.7" r="1.65" fill="#bf0d26"/>
<circle cx="447.2" cy="202.4" r="1.65" fill="#bf0d26"/>
<circle cx="465.7" cy="243.3" r="1.35" fill="#fff" fill-opacity="0.75" stroke="#c9203a" stroke-width="1.0"/>
<circle cx="462.6" cy="240.5" r="1.35" fill="#fff" fill-opacity="0.75" stroke="#c9203a" stroke-width="1.0"/>
<circle cx="467.9" cy="237.5" r="1.35" fill="#fff" fill-opacity="0.75" stroke="#c9203a" stroke-width="1.0"/>
<circle cx="463.3" cy="237.1" r="1.35" fill="#fff" fill-opacity="0.75" stroke="#c9203a" stroke-width="1.0"/>
<circle cx="465.5" cy="222.2" r="1.35" fill="#fff" fill-opacity="0.75" stroke="#c9203a" stroke-width="1.0"/>
<circle cx="468.1" cy="219.9" r="1.35" fill="#fff" fill-opacity="0.75" stroke="#c9203a" stroke-width="1.0"/>
<circle cx="465.5" cy="216.3" r="1.35" fill="#fff" fill-opacity="0.75" stroke="#c9203a" stroke-width="1.0"/>
<circle cx="462.8" cy="216.0" r="1.35" fill="#fff" fill-opacity="0.75" stroke="#c9203a" stroke-width="1.0"/>
<circle cx="465.6" cy="211.8" r="1.35" fill="#fff" fill-opacity="0.75" stroke="#c9203a" stroke-width="1.0"/>
<circle cx="467.9" cy="209.9" r="1.35" fill="#fff" fill-opacity="0.75" stroke="#c9203a" stroke-width="1.0"/>
<circle cx="462.8" cy="209.6" r="1.35" fill="#fff" fill-opacity="0.75" stroke="#c9203a" stroke-width="1.0"/>
<circle cx="465.4" cy="183.0" r="1.35" fill="#fff" fill-opacity="0.75" stroke="#c9203a" stroke-width="1.0"/>
<circle cx="476.1" cy="249.7" r="1.65" fill="#bf0d26"/>
<circle cx="475.9" cy="246.3" r="1.65" fill="#bf0d26"/>
<circle cx="478.9" cy="245.8" r="1.65" fill="#bf0d26"/>
<circle cx="473.7" cy="245.0" r="1.65" fill="#bf0d26"/>
<circle cx="476.9" cy="244.6" r="1.65" fill="#bf0d26"/>
<circle cx="478.9" cy="243.3" r="1.65" fill="#bf0d26"/>
<circle cx="474.8" cy="242.8" r="1.65" fill="#bf0d26"/>
<circle cx="476.8" cy="241.5" r="1.65" fill="#bf0d26"/>
<circle cx="473.5" cy="241.1" r="1.65" fill="#bf0d26"/>
<circle cx="479.2" cy="239.8" r="1.65" fill="#bf0d26"/>
<circle cx="475.8" cy="239.4" r="1.65" fill="#bf0d26"/>
<circle cx="473.7" cy="238.1" r="1.65" fill="#bf0d26"/>
<circle cx="477.6" cy="237.7" r="1.65" fill="#bf0d26"/>
<circle cx="476.1" cy="236.4" r="1.65" fill="#bf0d26"/>
<circle cx="479.2" cy="235.9" r="1.65" fill="#bf0d26"/>
<circle cx="476.4" cy="225.4" r="1.65" fill="#bf0d26"/>
<circle cx="474.0" cy="225.1" r="1.65" fill="#bf0d26"/>
<circle cx="476.1" cy="219.3" r="1.65" fill="#bf0d26"/>
<circle cx="476.0" cy="214.2" r="1.65" fill="#bf0d26"/>
<circle cx="476.5" cy="210.1" r="1.65" fill="#bf0d26"/>
<circle cx="473.6" cy="209.7" r="1.65" fill="#bf0d26"/>
<circle cx="476.3" cy="198.1" r="1.65" fill="#bf0d26"/>
<circle cx="495.0" cy="250.4" r="1.35" fill="#fff" fill-opacity="0.75" stroke="#c9203a" stroke-width="1.0"/>
<circle cx="494.6" cy="245.4" r="1.35" fill="#fff" fill-opacity="0.75" stroke="#c9203a" stroke-width="1.0"/>
<circle cx="494.6" cy="242.0" r="1.35" fill="#fff" fill-opacity="0.75" stroke="#c9203a" stroke-width="1.0"/>
<circle cx="494.5" cy="238.2" r="1.35" fill="#fff" fill-opacity="0.75" stroke="#c9203a" stroke-width="1.0"/>
<circle cx="497.2" cy="237.8" r="1.35" fill="#fff" fill-opacity="0.75" stroke="#c9203a" stroke-width="1.0"/>
<circle cx="494.6" cy="234.2" r="1.35" fill="#fff" fill-opacity="0.75" stroke="#c9203a" stroke-width="1.0"/>
<circle cx="491.8" cy="234.0" r="1.35" fill="#fff" fill-opacity="0.75" stroke="#c9203a" stroke-width="1.0"/>
<circle cx="495.1" cy="230.3" r="1.35" fill="#fff" fill-opacity="0.75" stroke="#c9203a" stroke-width="1.0"/>
<circle cx="492.1" cy="230.1" r="1.35" fill="#fff" fill-opacity="0.75" stroke="#c9203a" stroke-width="1.0"/>
<circle cx="495.0" cy="226.5" r="1.35" fill="#fff" fill-opacity="0.75" stroke="#c9203a" stroke-width="1.0"/>
<circle cx="497.5" cy="226.3" r="1.35" fill="#fff" fill-opacity="0.75" stroke="#c9203a" stroke-width="1.0"/>
<circle cx="494.5" cy="222.2" r="1.35" fill="#fff" fill-opacity="0.75" stroke="#c9203a" stroke-width="1.0"/>
<circle cx="506.0" cy="247.7" r="1.65" fill="#bf0d26"/>
<circle cx="508.8" cy="247.6" r="1.65" fill="#bf0d26"/>
<circle cx="503.6" cy="246.9" r="1.65" fill="#bf0d26"/>
<circle cx="507.2" cy="246.7" r="1.65" fill="#bf0d26"/>
<circle cx="505.8" cy="245.6" r="1.65" fill="#bf0d26"/>
<circle cx="508.7" cy="245.4" r="1.65" fill="#bf0d26"/>
<circle cx="503.3" cy="244.3" r="1.65" fill="#bf0d26"/>
<circle cx="507.5" cy="244.1" r="1.65" fill="#bf0d26"/>
<circle cx="506.1" cy="240.6" r="1.65" fill="#bf0d26"/>
<circle cx="506.2" cy="223.0" r="1.65" fill="#bf0d26"/>
<path d="M399 163.20000000000002V252.3H513.5" stroke="#2e2e2e" stroke-width="1.3" fill="none"/>
<line x1="395.8" y1="252.3" x2="399" y2="252.3" stroke="#2e2e2e" stroke-width="0.9"/>
<text x="393.2" y="254.9" font-size="7.9" text-anchor="end" font-weight="normal" fill="#111" >0</text>
<line x1="395.8" y1="235.1" x2="399" y2="235.1" stroke="#2e2e2e" stroke-width="0.9"/>
<text x="393.2" y="237.7" font-size="7.9" text-anchor="end" font-weight="normal" fill="#111" >20</text>
<line x1="395.8" y1="217.9" x2="399" y2="217.9" stroke="#2e2e2e" stroke-width="0.9"/>
<text x="393.2" y="220.5" font-size="7.9" text-anchor="end" font-weight="normal" fill="#111" >40</text>
<line x1="395.8" y1="200.6" x2="399" y2="200.6" stroke="#2e2e2e" stroke-width="0.9"/>
<text x="393.2" y="203.2" font-size="7.9" text-anchor="end" font-weight="normal" fill="#111" >60</text>
<line x1="395.8" y1="183.4" x2="399" y2="183.4" stroke="#2e2e2e" stroke-width="0.9"/>
<text x="393.2" y="186.0" font-size="7.9" text-anchor="end" font-weight="normal" fill="#111" >80</text>
<line x1="395.8" y1="166.2" x2="399" y2="166.2" stroke="#2e2e2e" stroke-width="0.9"/>
<text x="393.2" y="168.8" font-size="7.9" text-anchor="end" font-weight="normal" fill="#111" >100</text>
<line x1="412.8" y1="252.3" x2="412.8" y2="255.3" stroke="#2e2e2e" stroke-width="0.9"/>
<text x="412.5" y="265.3" font-size="7.9" text-anchor="middle" font-weight="normal" fill="#111" >28</text>
<line x1="441.5" y1="252.3" x2="441.5" y2="255.3" stroke="#2e2e2e" stroke-width="0.9"/>
<text x="441.2" y="265.3" font-size="7.9" text-anchor="middle" font-weight="normal" fill="#111" >100</text>
<line x1="471" y1="252.3" x2="471" y2="255.3" stroke="#2e2e2e" stroke-width="0.9"/>
<text x="470.7" y="265.3" font-size="7.9" text-anchor="middle" font-weight="normal" fill="#111" >180</text>
<line x1="500.5" y1="252.3" x2="500.5" y2="255.3" stroke="#2e2e2e" stroke-width="0.9"/>
<text x="500.2" y="265.3" font-size="7.9" text-anchor="middle" font-weight="normal" fill="#111" >360</text>
<text transform="translate(364.4 210.3) rotate(-90)" font-size="8.3" text-anchor="middle" fill="#111" stroke="#111" stroke-width="0.32" textLength="62" lengthAdjust="spacingAndGlyphs">CD16<tspan dy="-2.8" font-size="5">-</tspan><tspan dy="2.8">CD56</tspan><tspan dy="-2.8" font-size="5">bright</tspan><tspan dy="2.8"> NK cells</tspan></text>
<text transform="translate(375 210.5) rotate(-90)" font-size="8.3" text-anchor="middle" fill="#111" stroke="#111" stroke-width="0.32" textLength="29.5" lengthAdjust="spacingAndGlyphs">(% NK cells)</text>
<text x="456.5" y="277.5" font-size="9.2" text-anchor="middle" fill="#111" stroke="#111" stroke-width="0.2" textLength="65.8" lengthAdjust="spacingAndGlyphs">Time posttransplant (d)</text>
<circle cx="417.8" cy="286.7" r="1.3" fill="#fff" stroke="#c9203a" stroke-width="0.9"/>
<text x="422.3" y="289.3" font-size="7.5" text-anchor="start" font-weight="normal" fill="#111" stroke="#111" stroke-width="0.12">Control</text>
<circle cx="450.6" cy="286.7" r="1.5" fill="#bf0d26"/>
<text x="455.8" y="289.3" font-size="7.5" text-anchor="start" font-weight="normal" fill="#111" stroke="#111" stroke-width="0.12">PTCy + Aba</text>
<line x1="406" y1="170.45" x2="505.8" y2="170.45" stroke="#2a2a2a" stroke-width="1"/>
<text x="455.8" y="167.25" font-size="7.3" text-anchor="middle" fill="#1c1c1c"><tspan font-style="italic">P</tspan> &lt; .001</text>
</g>
<rect x="0.5" y="0.5" width="519" height="297" fill="none" stroke="#626262" stroke-width="1"/>
</svg>
</body></html>
